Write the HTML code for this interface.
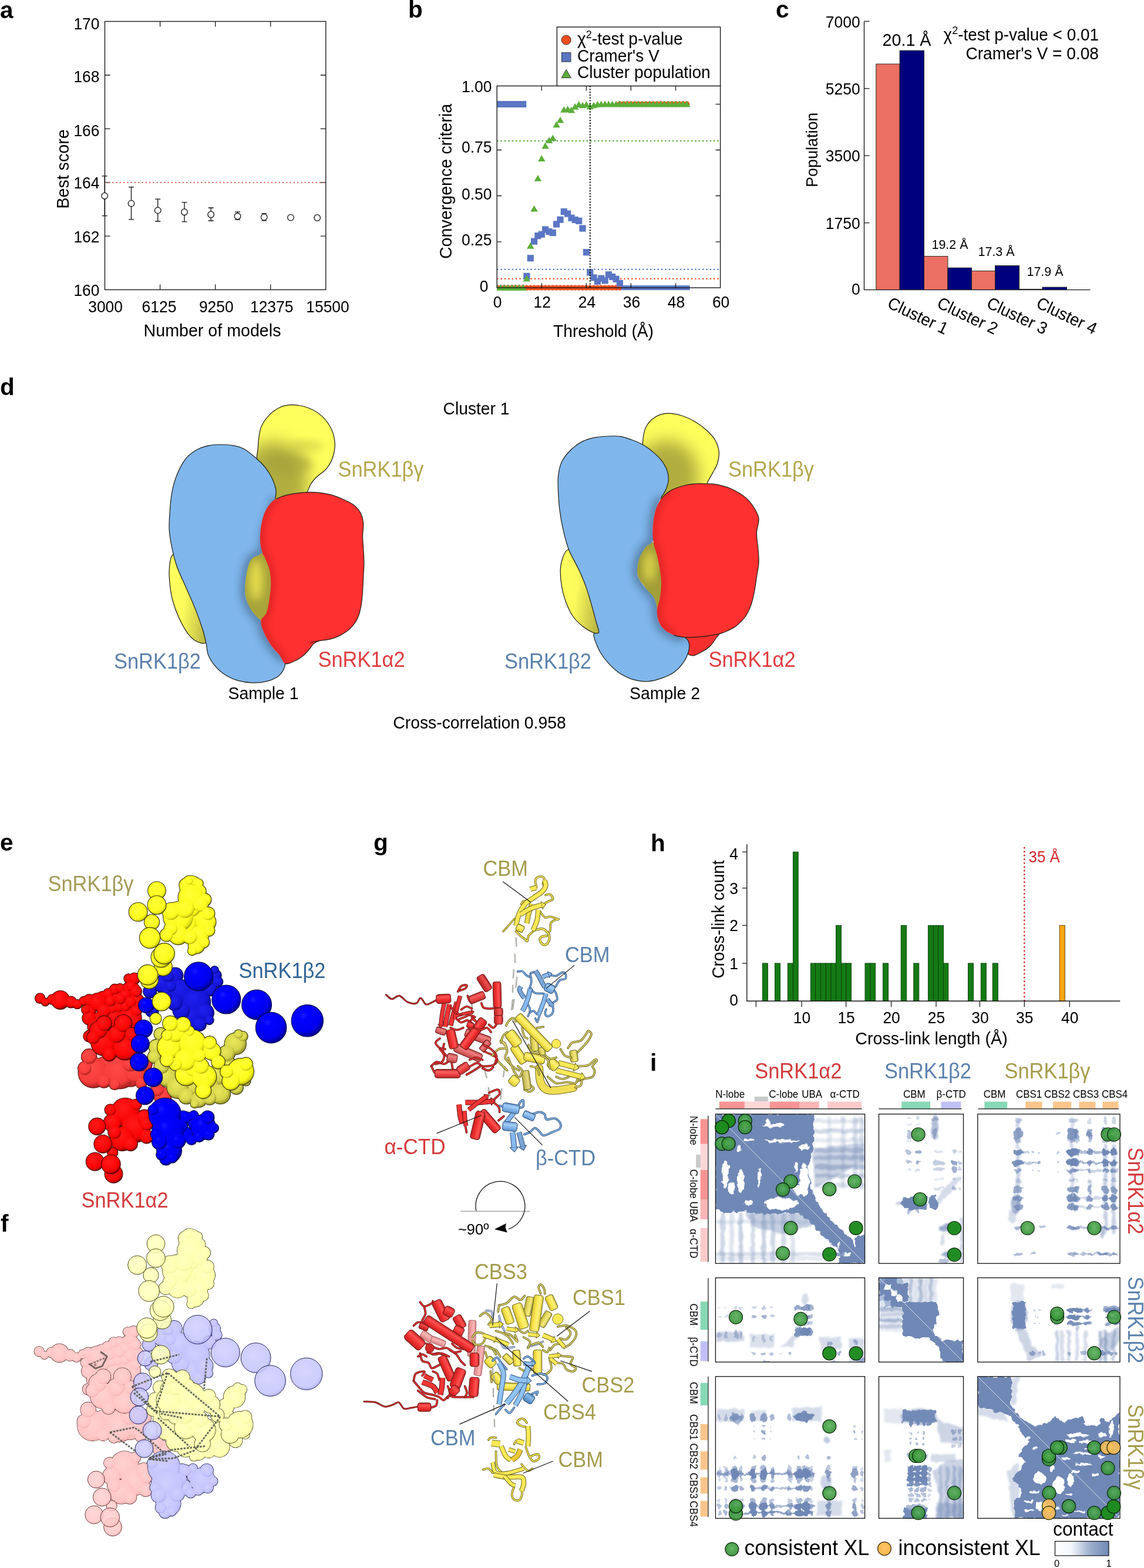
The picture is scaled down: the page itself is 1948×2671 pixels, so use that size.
<!DOCTYPE html>
<html lang="en"><head><meta charset="utf-8"><title>Figure</title>
<style>
html,body{margin:0;padding:0;background:#fff;}
body{width:1948px;height:2671px;overflow:hidden;}
svg{display:block;font-family:"Liberation Sans",sans-serif;}
text{fill:#000;}
.b{font-weight:bold;font-size:40.5px;}
</style></head><body>
<svg width="1948" height="2671" viewBox="0 0 1948 2671">
<rect width="1948" height="2671" fill="#fff"/>
<!-- 01_a -->
<g id="panel-a">
<text class="b" x="0" y="30.8">a</text>
<rect x="178.5" y="36.5" width="376.29999999999995" height="457.0" fill="none" stroke="#1a1a1a" stroke-width="1.4"/>
<text transform="translate(169.5 49.8) scale(0.955 1)" font-size="27.69" text-anchor="end">170</text>
<path d="M178.5 128.0h9M554.8 128.0h-9" stroke="#1a1a1a" stroke-width="1.3"/>
<text transform="translate(169.5 140.3) scale(0.955 1)" font-size="27.69" text-anchor="end">168</text>
<path d="M178.5 219.3h9M554.8 219.3h-9" stroke="#1a1a1a" stroke-width="1.3"/>
<text transform="translate(169.5 231.8) scale(0.955 1)" font-size="27.69" text-anchor="end">166</text>
<path d="M178.5 310.9h9M554.8 310.9h-9" stroke="#1a1a1a" stroke-width="1.3"/>
<text transform="translate(169.5 321.3) scale(0.955 1)" font-size="27.69" text-anchor="end">164</text>
<path d="M178.5 402.2h9M554.8 402.2h-9" stroke="#1a1a1a" stroke-width="1.3"/>
<text transform="translate(169.5 413.2) scale(0.955 1)" font-size="27.69" text-anchor="end">162</text>
<text transform="translate(169.5 504.2) scale(0.955 1)" font-size="27.69" text-anchor="end">160</text>
<text transform="translate(179.6 531.8) scale(0.955 1)" font-size="27.69" text-anchor="middle">3000</text>
<path d="M272.6 36.5v9M272.6 493.5v-9" stroke="#1a1a1a" stroke-width="1.3"/>
<text transform="translate(271.0 531.8) scale(0.955 1)" font-size="27.69" text-anchor="middle">6125</text>
<path d="M366.7 36.5v9M366.7 493.5v-9" stroke="#1a1a1a" stroke-width="1.3"/>
<text transform="translate(368.3 531.8) scale(0.955 1)" font-size="27.69" text-anchor="middle">9250</text>
<path d="M460.7 36.5v9M460.7 493.5v-9" stroke="#1a1a1a" stroke-width="1.3"/>
<text transform="translate(462.7 531.8) scale(0.955 1)" font-size="27.69" text-anchor="middle">12375</text>
<text transform="translate(558.0 531.8) scale(0.955 1)" font-size="27.69" text-anchor="middle">15500</text>
<text transform="translate(361.5 573.3) scale(0.955 1)" font-size="29.99" text-anchor="middle">Number of models</text>
<text transform="translate(116.6 288) rotate(-90) scale(0.955 1)" font-size="29.99" text-anchor="middle">Best score</text>
<path d="M178.5 310.9H554.8" stroke="#d96a58" stroke-width="2.1" stroke-dasharray="2.1 4.2" fill="none"/>
<path d="M178.2 299.8V367.7M173.7 299.8h9M173.7 367.7h9" stroke="#111" stroke-width="1.3" fill="none"/>
<circle cx="178.2" cy="333.7" r="5.3" fill="#fff" stroke="#111" stroke-width="1.3"/>
<path d="M223.5 318.7V373.8M219.0 318.7h9M219.0 373.8h9" stroke="#111" stroke-width="1.3" fill="none"/>
<circle cx="223.5" cy="346.6" r="5.3" fill="#fff" stroke="#111" stroke-width="1.3"/>
<path d="M268.7 339.2V377.0M264.2 339.2h9M264.2 377.0h9" stroke="#111" stroke-width="1.3" fill="none"/>
<circle cx="268.7" cy="358.4" r="5.3" fill="#fff" stroke="#111" stroke-width="1.3"/>
<path d="M314.0 344.7V377.7M309.5 344.7h9M309.5 377.7h9" stroke="#111" stroke-width="1.3" fill="none"/>
<circle cx="314.0" cy="361.2" r="5.3" fill="#fff" stroke="#111" stroke-width="1.3"/>
<path d="M359.2 354.0V376.0M354.7 354.0h9M354.7 376.0h9" stroke="#111" stroke-width="1.3" fill="none"/>
<circle cx="359.2" cy="365.5" r="5.3" fill="#fff" stroke="#111" stroke-width="1.3"/>
<path d="M404.5 360.8V374.2M400.0 360.8h9M400.0 374.2h9" stroke="#111" stroke-width="1.3" fill="none"/>
<circle cx="404.5" cy="368.3" r="5.3" fill="#fff" stroke="#111" stroke-width="1.3"/>
<path d="M449.7 363.6V375.8M445.2 363.6h9M445.2 375.8h9" stroke="#111" stroke-width="1.3" fill="none"/>
<circle cx="449.7" cy="369.9" r="5.3" fill="#fff" stroke="#111" stroke-width="1.3"/>
<circle cx="495.0" cy="370.6" r="5.3" fill="#fff" stroke="#111" stroke-width="1.3"/>
<circle cx="540.2" cy="371.0" r="5.3" fill="#fff" stroke="#111" stroke-width="1.3"/>
</g>
<!-- 02_b -->
<g id="panel-b">
<text class="b" x="695" y="30">b</text>
<path d="M846.2 240H1226.6" stroke="#5cae3a" stroke-width="2.3" stroke-dasharray="2.3 4.06" fill="none"/>
<path d="M846.2 458.9H1226.6" stroke="#5b76c4" stroke-width="2.3" stroke-dasharray="2.3 4.06" fill="none"/>
<path d="M846.2 474.9H1226.6" stroke="#f04e1e" stroke-width="2.3" stroke-dasharray="2.3 4.06" fill="none"/>
<clipPath id="bclip"><rect x="846.2" y="136.4" width="390.39999999999986" height="373.79999999999995"/></clipPath><g clip-path="url(#bclip)">
<circle cx="846.2" cy="490.2" r="4.6" fill="#f04e1e"/>
<circle cx="852.5" cy="490.2" r="4.6" fill="#f04e1e"/>
<circle cx="858.9" cy="490.2" r="4.6" fill="#f04e1e"/>
<circle cx="865.2" cy="490.2" r="4.6" fill="#f04e1e"/>
<circle cx="871.6" cy="490.2" r="4.6" fill="#f04e1e"/>
<circle cx="877.9" cy="490.2" r="4.6" fill="#f04e1e"/>
<circle cx="884.2" cy="490.2" r="4.6" fill="#f04e1e"/>
<circle cx="890.6" cy="490.2" r="4.6" fill="#f04e1e"/>
<circle cx="896.9" cy="490.2" r="4.6" fill="#f04e1e"/>
<circle cx="903.3" cy="490.2" r="4.6" fill="#f04e1e"/>
<circle cx="909.6" cy="490.2" r="4.6" fill="#f04e1e"/>
<circle cx="915.9" cy="490.2" r="4.6" fill="#f04e1e"/>
<circle cx="922.3" cy="490.2" r="4.6" fill="#f04e1e"/>
<circle cx="928.6" cy="490.2" r="4.6" fill="#f04e1e"/>
<circle cx="935.0" cy="490.2" r="4.6" fill="#f04e1e"/>
<circle cx="941.3" cy="490.2" r="4.6" fill="#f04e1e"/>
<circle cx="947.6" cy="490.2" r="4.6" fill="#f04e1e"/>
<circle cx="954.0" cy="490.2" r="4.6" fill="#f04e1e"/>
<circle cx="960.3" cy="490.2" r="4.6" fill="#f04e1e"/>
<circle cx="966.7" cy="490.2" r="4.6" fill="#f04e1e"/>
<circle cx="973.0" cy="490.2" r="4.6" fill="#f04e1e"/>
<circle cx="979.3" cy="490.2" r="4.6" fill="#f04e1e"/>
<circle cx="985.7" cy="490.2" r="4.6" fill="#f04e1e"/>
<circle cx="992.0" cy="490.2" r="4.6" fill="#f04e1e"/>
<circle cx="998.4" cy="490.2" r="4.6" fill="#f04e1e"/>
<circle cx="1004.7" cy="490.2" r="4.6" fill="#f04e1e"/>
<circle cx="1011.0" cy="490.2" r="4.6" fill="#f04e1e"/>
<circle cx="1017.4" cy="490.2" r="4.6" fill="#f04e1e"/>
<circle cx="1023.7" cy="490.2" r="4.6" fill="#f04e1e"/>
<circle cx="1030.1" cy="490.2" r="4.6" fill="#f04e1e"/>
<circle cx="1036.4" cy="490.2" r="4.6" fill="#f04e1e"/>
<circle cx="1042.7" cy="490.2" r="4.6" fill="#f04e1e"/>
<circle cx="1049.1" cy="490.2" r="4.6" fill="#f04e1e"/>
<circle cx="1055.4" cy="490.2" r="4.6" fill="#f04e1e"/>
<circle cx="1055.4" cy="177.5" r="4.9" fill="#f04e1e"/>
<circle cx="1061.8" cy="177.5" r="4.9" fill="#f04e1e"/>
<circle cx="1068.1" cy="177.5" r="4.9" fill="#f04e1e"/>
<circle cx="1074.4" cy="177.5" r="4.9" fill="#f04e1e"/>
<circle cx="1080.8" cy="177.5" r="4.9" fill="#f04e1e"/>
<circle cx="1087.1" cy="177.5" r="4.9" fill="#f04e1e"/>
<circle cx="1093.5" cy="177.5" r="4.9" fill="#f04e1e"/>
<circle cx="1099.8" cy="177.5" r="4.9" fill="#f04e1e"/>
<circle cx="1106.1" cy="177.5" r="4.9" fill="#f04e1e"/>
<circle cx="1112.5" cy="177.5" r="4.9" fill="#f04e1e"/>
<circle cx="1118.8" cy="177.5" r="4.9" fill="#f04e1e"/>
<circle cx="1125.2" cy="177.5" r="4.9" fill="#f04e1e"/>
<circle cx="1131.5" cy="177.5" r="4.9" fill="#f04e1e"/>
<circle cx="1137.8" cy="177.5" r="4.9" fill="#f04e1e"/>
<circle cx="1144.2" cy="177.5" r="4.9" fill="#f04e1e"/>
<circle cx="1150.5" cy="177.5" r="4.9" fill="#f04e1e"/>
<circle cx="1156.9" cy="177.5" r="4.9" fill="#f04e1e"/>
<circle cx="1163.2" cy="177.5" r="4.9" fill="#f04e1e"/>
<circle cx="1169.5" cy="177.5" r="4.9" fill="#f04e1e"/>
<rect x="846.2" y="172.0" width="50.09999999999991" height="11.0" fill="#5b76c4"/>
<rect x="891.3" y="464.8" width="11.2" height="11.2" fill="#5b76c4"/>
<rect x="897.7" y="434.2" width="11.2" height="11.2" fill="#5b76c4"/>
<rect x="904.0" y="405.5" width="11.2" height="11.2" fill="#5b76c4"/>
<rect x="910.3" y="396.1" width="11.2" height="11.2" fill="#5b76c4"/>
<rect x="916.7" y="393.6" width="11.2" height="11.2" fill="#5b76c4"/>
<rect x="923.0" y="385.4" width="11.2" height="11.2" fill="#5b76c4"/>
<rect x="929.4" y="389.0" width="11.2" height="11.2" fill="#5b76c4"/>
<rect x="935.7" y="391.0" width="11.2" height="11.2" fill="#5b76c4"/>
<rect x="942.0" y="376.3" width="11.2" height="11.2" fill="#5b76c4"/>
<rect x="948.4" y="368.6" width="11.2" height="11.2" fill="#5b76c4"/>
<rect x="954.7" y="354.9" width="11.2" height="11.2" fill="#5b76c4"/>
<rect x="961.1" y="358.5" width="11.2" height="11.2" fill="#5b76c4"/>
<rect x="967.4" y="365.6" width="11.2" height="11.2" fill="#5b76c4"/>
<rect x="973.7" y="368.9" width="11.2" height="11.2" fill="#5b76c4"/>
<rect x="980.1" y="370.7" width="11.2" height="11.2" fill="#5b76c4"/>
<rect x="986.4" y="383.4" width="11.2" height="11.2" fill="#5b76c4"/>
<rect x="992.8" y="424.1" width="11.2" height="11.2" fill="#5b76c4"/>
<rect x="999.1" y="458.4" width="11.2" height="11.2" fill="#5b76c4"/>
<rect x="1005.4" y="467.3" width="11.2" height="11.2" fill="#5b76c4"/>
<rect x="1011.8" y="473.7" width="11.2" height="11.2" fill="#5b76c4"/>
<rect x="1018.1" y="468.6" width="11.2" height="11.2" fill="#5b76c4"/>
<rect x="1024.5" y="472.4" width="11.2" height="11.2" fill="#5b76c4"/>
<rect x="1030.8" y="462.2" width="11.2" height="11.2" fill="#5b76c4"/>
<rect x="1037.1" y="466.0" width="11.2" height="11.2" fill="#5b76c4"/>
<rect x="1043.5" y="469.8" width="11.2" height="11.2" fill="#5b76c4"/>
<rect x="1049.8" y="477.0" width="11.2" height="11.2" fill="#5b76c4"/>
<rect x="1058.0" y="486.2" width="116.7" height="8" fill="#5b76c4"/>
<path d="M846.2 484.1l6.2 10.8h-12.4z" fill="#5cae3a"/>
<path d="M852.5 484.1l6.2 10.8h-12.4z" fill="#5cae3a"/>
<path d="M858.9 484.1l6.2 10.8h-12.4z" fill="#5cae3a"/>
<path d="M865.2 484.1l6.2 10.8h-12.4z" fill="#5cae3a"/>
<path d="M871.6 484.1l6.2 10.8h-12.4z" fill="#5cae3a"/>
<path d="M877.9 484.1l6.2 10.8h-12.4z" fill="#5cae3a"/>
<path d="M884.2 484.1l6.2 10.8h-12.4z" fill="#5cae3a"/>
<path d="M890.6 484.1l6.2 10.8h-12.4z" fill="#5cae3a"/>
<path d="M896.9 468.8l6.2 10.8h-12.4z" fill="#5cae3a"/>
<path d="M903.3 412.9l6.2 10.8h-12.4z" fill="#5cae3a"/>
<path d="M909.6 349.8l6.2 10.8h-12.4z" fill="#5cae3a"/>
<path d="M915.9 298.0l6.2 10.8h-12.4z" fill="#5cae3a"/>
<path d="M922.3 264.2l6.2 10.8h-12.4z" fill="#5cae3a"/>
<path d="M928.6 242.6l6.2 10.8h-12.4z" fill="#5cae3a"/>
<path d="M935.0 233.2l6.2 10.8h-12.4z" fill="#5cae3a"/>
<path d="M941.3 229.4l6.2 10.8h-12.4z" fill="#5cae3a"/>
<path d="M947.6 206.5l6.2 10.8h-12.4z" fill="#5cae3a"/>
<path d="M954.0 198.8l6.2 10.8h-12.4z" fill="#5cae3a"/>
<path d="M960.3 181.0l6.2 10.8h-12.4z" fill="#5cae3a"/>
<path d="M966.7 180.3l6.2 10.8h-12.4z" fill="#5cae3a"/>
<path d="M973.0 181.6l6.2 10.8h-12.4z" fill="#5cae3a"/>
<path d="M979.3 176.0l6.2 10.8h-12.4z" fill="#5cae3a"/>
<path d="M985.7 172.1l6.2 10.8h-12.4z" fill="#5cae3a"/>
<path d="M992.0 173.4l6.2 10.8h-12.4z" fill="#5cae3a"/>
<path d="M998.4 172.1l6.2 10.8h-12.4z" fill="#5cae3a"/>
<path d="M1004.7 175.4l6.2 10.8h-12.4z" fill="#5cae3a"/>
<path d="M1011.0 173.4l6.2 10.8h-12.4z" fill="#5cae3a"/>
<path d="M1017.4 171.9l6.2 10.8h-12.4z" fill="#5cae3a"/>
<path d="M1023.7 171.4l6.2 10.8h-12.4z" fill="#5cae3a"/>
<path d="M1030.1 171.4l6.2 10.8h-12.4z" fill="#5cae3a"/>
<path d="M1036.4 171.4l6.2 10.8h-12.4z" fill="#5cae3a"/>
<path d="M1042.7 171.4l6.2 10.8h-12.4z" fill="#5cae3a"/>
<path d="M1049.1 171.4l6.2 10.8h-12.4z" fill="#5cae3a"/>
<path d="M1055.4 171.4l6.2 10.8h-12.4z" fill="#5cae3a"/>
<path d="M1061.8 171.4l6.2 10.8h-12.4z" fill="#5cae3a"/>
<path d="M1068.1 171.4l6.2 10.8h-12.4z" fill="#5cae3a"/>
<path d="M1074.4 171.4l6.2 10.8h-12.4z" fill="#5cae3a"/>
<path d="M1080.8 171.4l6.2 10.8h-12.4z" fill="#5cae3a"/>
<path d="M1087.1 171.4l6.2 10.8h-12.4z" fill="#5cae3a"/>
<path d="M1093.5 171.4l6.2 10.8h-12.4z" fill="#5cae3a"/>
<path d="M1099.8 171.4l6.2 10.8h-12.4z" fill="#5cae3a"/>
<path d="M1106.1 171.4l6.2 10.8h-12.4z" fill="#5cae3a"/>
<path d="M1112.5 171.4l6.2 10.8h-12.4z" fill="#5cae3a"/>
<path d="M1118.8 171.4l6.2 10.8h-12.4z" fill="#5cae3a"/>
<path d="M1125.2 171.4l6.2 10.8h-12.4z" fill="#5cae3a"/>
<path d="M1131.5 171.4l6.2 10.8h-12.4z" fill="#5cae3a"/>
<path d="M1137.8 171.4l6.2 10.8h-12.4z" fill="#5cae3a"/>
<path d="M1144.2 171.4l6.2 10.8h-12.4z" fill="#5cae3a"/>
<path d="M1150.5 171.4l6.2 10.8h-12.4z" fill="#5cae3a"/>
<path d="M1156.9 171.4l6.2 10.8h-12.4z" fill="#5cae3a"/>
<path d="M1163.2 171.4l6.2 10.8h-12.4z" fill="#5cae3a"/>
<path d="M1169.5 171.4l6.2 10.8h-12.4z" fill="#5cae3a"/>
</g>
<path d="M1004.8 146.4V490.2" stroke="#000" stroke-width="2" stroke-dasharray="2.2 2.6" fill="none"/>
<rect x="846.2" y="146.4" width="380.39999999999986" height="343.79999999999995" fill="none" stroke="#1a1a1a" stroke-width="1.4"/>
<path d="M922.3 146.4v8M922.3 490.2v-8" stroke="#1a1a1a" stroke-width="1.3"/>
<path d="M998.4 146.4v8M998.4 490.2v-8" stroke="#1a1a1a" stroke-width="1.3"/>
<path d="M1074.4 146.4v8M1074.4 490.2v-8" stroke="#1a1a1a" stroke-width="1.3"/>
<path d="M1150.5 146.4v8M1150.5 490.2v-8" stroke="#1a1a1a" stroke-width="1.3"/>
<path d="M846.2 177.5h0M1226.6 177.5h-8" stroke="#1a1a1a" stroke-width="1.3"/>
<path d="M846.2 255.5h8M1226.6 255.5h-8" stroke="#1a1a1a" stroke-width="1.3"/>
<path d="M846.2 333.5h8M1226.6 333.5h-8" stroke="#1a1a1a" stroke-width="1.3"/>
<path d="M846.2 411.9h8M1226.6 411.9h-8" stroke="#1a1a1a" stroke-width="1.3"/>
<text transform="translate(847.2 524.2) scale(0.955 1)" font-size="27.69" text-anchor="middle">0</text>
<text transform="translate(923.3 524.2) scale(0.955 1)" font-size="27.69" text-anchor="middle">12</text>
<text transform="translate(999.4 524.2) scale(0.955 1)" font-size="27.69" text-anchor="middle">24</text>
<text transform="translate(1075.4 524.2) scale(0.955 1)" font-size="27.69" text-anchor="middle">36</text>
<text transform="translate(1151.5 524.2) scale(0.955 1)" font-size="27.69" text-anchor="middle">48</text>
<text transform="translate(1227.6 524.2) scale(0.955 1)" font-size="27.69" text-anchor="middle">60</text>
<text transform="translate(837.5 156.8) scale(0.955 1)" font-size="27.69" text-anchor="end">1.00</text>
<text transform="translate(837.5 260.4) scale(0.955 1)" font-size="27.69" text-anchor="end">0.75</text>
<text transform="translate(837.5 339.9) scale(0.955 1)" font-size="27.69" text-anchor="end">0.50</text>
<text transform="translate(837.5 418.1) scale(0.955 1)" font-size="27.69" text-anchor="end">0.25</text>
<text transform="translate(831.5 496.8) scale(0.955 1)" font-size="27.69" text-anchor="end">0</text>
<text transform="translate(1027.5 574) scale(0.955 1)" font-size="29.57" text-anchor="middle">Threshold (Å)</text>
<text transform="translate(768.5 309) rotate(-90) scale(0.955 1)" font-size="29.99" text-anchor="middle">Convergence criteria</text>
<rect x="948.4" y="46" width="278.19999999999993" height="100.4" fill="#fff" stroke="#1a1a1a" stroke-width="1.4"/>
<circle cx="964.2" cy="68.1" r="8" fill="#f04e1e" stroke="#222" stroke-width="0.9"/>
<rect x="956.5" y="89.7" width="15.4" height="15.4" fill="#5b76c4" stroke="#222" stroke-width="0.9"/>
<path d="M964.2 118.5l8 14h-16z" fill="#5cae3a" stroke="#222" stroke-width="0.9"/>
<text transform="translate(983 76) scale(0.955 1)" font-size="29.47">χ<tspan font-size="18.8" dy="-11">2</tspan><tspan dy="11">-test p-value</tspan></text>
<text transform="translate(983 104.6) scale(0.955 1)" font-size="29.47">Cramer's V</text>
<text transform="translate(983 133.2) scale(0.955 1)" font-size="29.47">Cluster population</text>
</g>
<!-- 03_c -->
<g id="panel-c">
<text class="b" x="1321" y="30">c</text>
<rect x="1491.8" y="109" width="40.3" height="384.6" fill="#ec7063" stroke="#1a1a1a" stroke-width="0.9"/>
<rect x="1532.1" y="86.1" width="41.4" height="407.5" fill="#00007d" stroke="#1a1a1a" stroke-width="0.9"/>
<rect x="1573.5" y="436.6" width="40.4" height="57.0" fill="#ec7063" stroke="#1a1a1a" stroke-width="0.9"/>
<rect x="1613.9" y="456.2" width="40.6" height="37.4" fill="#00007d" stroke="#1a1a1a" stroke-width="0.9"/>
<rect x="1654.5" y="461.6" width="40.0" height="32.0" fill="#ec7063" stroke="#1a1a1a" stroke-width="0.9"/>
<rect x="1694.5" y="452.5" width="41.0" height="41.1" fill="#00007d" stroke="#1a1a1a" stroke-width="0.9"/>
<rect x="1735.5" y="492.6" width="39.5" height="1.0" fill="#ec7063" stroke="#1a1a1a" stroke-width="0.9"/>
<rect x="1775" y="489.2" width="41.5" height="4.4" fill="#00007d" stroke="#1a1a1a" stroke-width="0.9"/>
<path d="M1471.5 36.3V493.6H1856.5" fill="none" stroke="#1a1a1a" stroke-width="1.4"/>
<path d="M1471.5 36.3h9" stroke="#1a1a1a" stroke-width="1.3"/>
<text transform="translate(1464.6 46.8) scale(0.955 1)" font-size="27.69" text-anchor="end">7000</text>
<path d="M1471.5 150.8h9" stroke="#1a1a1a" stroke-width="1.3"/>
<text transform="translate(1464.6 160.6) scale(0.955 1)" font-size="27.69" text-anchor="end">5250</text>
<path d="M1471.5 265.1h9" stroke="#1a1a1a" stroke-width="1.3"/>
<text transform="translate(1464.6 274.9) scale(0.955 1)" font-size="27.69" text-anchor="end">3500</text>
<path d="M1471.5 379.6h9" stroke="#1a1a1a" stroke-width="1.3"/>
<text transform="translate(1464.6 389.9) scale(0.955 1)" font-size="27.69" text-anchor="end">1750</text>
<text transform="translate(1464.6 502.2) scale(0.955 1)" font-size="27.69" text-anchor="end">0</text>
<text transform="translate(1391.6 255.3) rotate(-90) scale(0.955 1)" font-size="28.21" text-anchor="middle">Population</text>
<text transform="translate(1544 78) scale(0.955 1)" font-size="29.99" text-anchor="middle">20.1 Å</text>
<text transform="translate(1871 69.2) scale(0.955 1)" font-size="29.26" text-anchor="end">χ<tspan font-size="18.8" dy="-11">2</tspan><tspan dy="11">-test p-value &lt; 0.01</tspan></text>
<text transform="translate(1871 100.8) scale(0.955 1)" font-size="29.47" text-anchor="end">Cramer's V = 0.08</text>
<text transform="translate(1617.5 423.5) scale(0.955 1)" font-size="22.47" text-anchor="middle">19.2 Å</text>
<text transform="translate(1696.5 436.2) scale(0.955 1)" font-size="22.47" text-anchor="middle">17.3 Å</text>
<text transform="translate(1779.5 470) scale(0.955 1)" font-size="22.47" text-anchor="middle">17.9 Å</text>
<text transform="translate(1509.2 523) rotate(25.5) scale(0.955 1)" font-size="28.84">Cluster 1</text>
<text transform="translate(1593.7 523) rotate(25.5) scale(0.955 1)" font-size="28.84">Cluster 2</text>
<text transform="translate(1678.2 523) rotate(25.5) scale(0.955 1)" font-size="28.84">Cluster 3</text>
<text transform="translate(1762.7 523) rotate(25.5) scale(0.955 1)" font-size="28.84">Cluster 4</text>
</g>
<!-- 04_d -->
<g id="panel-d">
<defs>
<linearGradient id="dym" x1="0" x2="1" y1="0" y2="0"><stop offset="0" stop-color="#8f8c30"/><stop offset="0.4" stop-color="#d9d64c"/><stop offset="0.65" stop-color="#c4c145"/><stop offset="1" stop-color="#8a8730"/></linearGradient>
<linearGradient id="dyl" x1="0" x2="1" y1="0" y2="0.3"><stop offset="0" stop-color="#ffff60"/><stop offset="0.45" stop-color="#fdfb5c"/><stop offset="1" stop-color="#b9b543"/></linearGradient>
<filter id="dblur" x="-30%" y="-30%" width="160%" height="160%"><feGaussianBlur stdDeviation="7"/></filter>
<filter id="dblur2" x="-30%" y="-30%" width="160%" height="160%"><feGaussianBlur stdDeviation="14"/></filter>
</defs>
<text class="b" x="0" y="673">d</text>
<clipPath id="dc1"><path d="M497.6 689.7C505.3 689.9 515.8 691.3 524.2 694.5C532.7 697.8 541.8 703 548.5 709.1C555.1 715.1 560.6 723.2 564.2 730.8C567.8 738.5 569.8 747 570.2 755.1C570.6 763.1 569 772 566.6 779.3C564.2 786.5 560 793.4 555.7 798.6C551.5 803.9 545.4 806.7 541.2 810.8C536.9 814.8 533.3 818.2 530.3 822.9C527.3 827.5 526.1 831.7 523 838.6C520 845.5 521.2 859.8 512.1 864C503.1 868.3 480.7 874.5 468.5 864C456.4 853.5 444.3 818.4 439.5 801.1C434.6 783.7 438.7 772 439.5 759.9C440.3 747.8 441.1 737.3 444.3 728.4C447.6 719.5 453.2 712.5 458.9 706.6C464.5 700.8 471.8 696.1 478.2 693.3C484.7 690.5 489.9 689.5 497.6 689.7Z"/></clipPath>
<path d="M497.6 689.7C505.3 689.9 515.8 691.3 524.2 694.5C532.7 697.8 541.8 703 548.5 709.1C555.1 715.1 560.6 723.2 564.2 730.8C567.8 738.5 569.8 747 570.2 755.1C570.6 763.1 569 772 566.6 779.3C564.2 786.5 560 793.4 555.7 798.6C551.5 803.9 545.4 806.7 541.2 810.8C536.9 814.8 533.3 818.2 530.3 822.9C527.3 827.5 526.1 831.7 523 838.6C520 845.5 521.2 859.8 512.1 864C503.1 868.3 480.7 874.5 468.5 864C456.4 853.5 444.3 818.4 439.5 801.1C434.6 783.7 438.7 772 439.5 759.9C440.3 747.8 441.1 737.3 444.3 728.4C447.6 719.5 453.2 712.5 458.9 706.6C464.5 700.8 471.8 696.1 478.2 693.3C484.7 690.5 489.9 689.5 497.6 689.7Z" fill="#fefe5c"/>
<g clip-path="url(#dc1)"><ellipse cx="466" cy="822" rx="58" ry="70" fill="#a8a43a" fill-opacity="0.9" filter="url(#dblur2)"/><ellipse cx="492" cy="790" rx="40" ry="18" fill="#a19d38" fill-opacity="0.5" filter="url(#dblur)"/><ellipse cx="520" cy="760" rx="30" ry="10" fill="#b5b140" fill-opacity="0.4" filter="url(#dblur)"/></g>
<path d="M497.6 689.7C505.3 689.9 515.8 691.3 524.2 694.5C532.7 697.8 541.8 703 548.5 709.1C555.1 715.1 560.6 723.2 564.2 730.8C567.8 738.5 569.8 747 570.2 755.1C570.6 763.1 569 772 566.6 779.3C564.2 786.5 560 793.4 555.7 798.6C551.5 803.9 545.4 806.7 541.2 810.8C536.9 814.8 533.3 818.2 530.3 822.9C527.3 827.5 526.1 831.7 523 838.6C520 845.5 521.2 859.8 512.1 864C503.1 868.3 480.7 874.5 468.5 864C456.4 853.5 444.3 818.4 439.5 801.1C434.6 783.7 438.7 772 439.5 759.9C440.3 747.8 441.1 737.3 444.3 728.4C447.6 719.5 453.2 712.5 458.9 706.6C464.5 700.8 471.8 696.1 478.2 693.3C484.7 690.5 489.9 689.5 497.6 689.7Z" fill="none" stroke="#1c1c14" stroke-width="1.2" stroke-linejoin="round"/>
<clipPath id="dc2"><path d="M439.5 936.7C444.7 937.1 452.4 943.9 456.4 953.6C460.5 963.3 462.9 981.9 463.7 994.8C464.5 1007.7 463.7 1020.6 461.3 1031.1C458.9 1041.6 454.4 1055.7 449.2 1057.7C443.9 1059.7 435.1 1050.5 429.8 1043.2C424.6 1035.9 419.7 1025 417.7 1014.1C415.7 1003.2 416.5 988.3 417.7 977.8C418.9 967.3 421.3 958 425 951.2C428.6 944.3 434.2 936.3 439.5 936.7Z"/></clipPath>
<path d="M439.5 936.7C444.7 937.1 452.4 943.9 456.4 953.6C460.5 963.3 462.9 981.9 463.7 994.8C464.5 1007.7 463.7 1020.6 461.3 1031.1C458.9 1041.6 454.4 1055.7 449.2 1057.7C443.9 1059.7 435.1 1050.5 429.8 1043.2C424.6 1035.9 419.7 1025 417.7 1014.1C415.7 1003.2 416.5 988.3 417.7 977.8C418.9 967.3 421.3 958 425 951.2C428.6 944.3 434.2 936.3 439.5 936.7Z" fill="#a9a43a"/>
<g clip-path="url(#dc2)"><ellipse cx="436" cy="988" rx="12" ry="34" fill="#e8df4c" fill-opacity="0.9" filter="url(#dblur)"/></g>
<clipPath id="dc3"><path d="M294.2 945.1C291 947.2 290.4 952.2 289.4 958.5C288.4 964.7 287.6 972.6 288.2 982.7C288.8 992.8 290.4 1007.7 293 1019C295.6 1030.3 299.7 1040.8 303.9 1050.5C308.1 1060.1 313.6 1070.2 318.4 1077.1C323.3 1084 327.7 1088.6 333 1091.6C338.2 1094.6 344.3 1097.3 349.9 1095.3C355.6 1093.2 368.1 1096.3 366.9 1079.5C365.6 1062.8 352.3 1017 342.6 994.8C333 972.6 316.8 954.6 308.7 946.3C300.7 938.1 297.4 943.1 294.2 945.1Z"/></clipPath>
<path d="M294.2 945.1C291 947.2 290.4 952.2 289.4 958.5C288.4 964.7 287.6 972.6 288.2 982.7C288.8 992.8 290.4 1007.7 293 1019C295.6 1030.3 299.7 1040.8 303.9 1050.5C308.1 1060.1 313.6 1070.2 318.4 1077.1C323.3 1084 327.7 1088.6 333 1091.6C338.2 1094.6 344.3 1097.3 349.9 1095.3C355.6 1093.2 368.1 1096.3 366.9 1079.5C365.6 1062.8 352.3 1017 342.6 994.8C333 972.6 316.8 954.6 308.7 946.3C300.7 938.1 297.4 943.1 294.2 945.1Z" fill="url(#dyl)"/>
<path d="M294.2 945.1C291 947.2 290.4 952.2 289.4 958.5C288.4 964.7 287.6 972.6 288.2 982.7C288.8 992.8 290.4 1007.7 293 1019C295.6 1030.3 299.7 1040.8 303.9 1050.5C308.1 1060.1 313.6 1070.2 318.4 1077.1C323.3 1084 327.7 1088.6 333 1091.6C338.2 1094.6 344.3 1097.3 349.9 1095.3C355.6 1093.2 368.1 1096.3 366.9 1079.5C365.6 1062.8 352.3 1017 342.6 994.8C333 972.6 316.8 954.6 308.7 946.3C300.7 938.1 297.4 943.1 294.2 945.1Z" fill="none" stroke="#1c1c14" stroke-width="1.2" stroke-linejoin="round"/>
<clipPath id="dc4"><path d="M376.5 757.5C383 757.5 389.5 757.5 395.9 758.7C402.4 759.9 408.8 761.3 415.3 764.7C421.7 768.2 428.6 774 434.6 779.3C440.7 784.5 446.8 790.2 451.6 796.2C456.4 802.3 460.7 809.1 463.7 815.6C466.7 822.1 469 829.3 469.8 835C470.6 840.6 469.6 843.4 468.5 849.5C467.5 855.5 466.1 863.2 463.7 871.3C461.3 879.4 456.4 889.4 454 897.9C451.6 906.4 450.4 914.9 449.2 922.1C448 929.4 450.4 936.3 446.8 941.5C443.1 946.7 432 946.7 427.4 953.6C422.7 960.5 420.5 972.6 418.9 982.7C417.3 992.8 416.3 1004.9 417.7 1014.1C419.1 1023.4 423.8 1031.9 427.4 1038.4C431 1044.8 436.7 1049.7 439.5 1052.9C442.3 1056.1 442.7 1053.7 444.3 1057.7C445.9 1061.8 446.4 1070.2 449.2 1077.1C452 1084 456.8 1092.4 461.3 1098.9C465.7 1105.3 471.8 1111.4 475.8 1115.8C479.8 1120.3 484.3 1121.5 485.5 1125.5C486.7 1129.6 485.1 1135.6 483.1 1140C481.1 1144.5 478.2 1148.7 473.4 1152.2C468.5 1155.6 461.3 1158.8 454 1160.6C446.8 1162.4 437.9 1163.3 429.8 1163.1C421.7 1162.8 413.3 1161.6 405.6 1159.4C397.9 1157.2 390.3 1153.8 383.8 1149.7C377.3 1145.7 371.7 1140.9 366.9 1135.2C362 1129.6 357.4 1122.3 354.7 1115.8C352.1 1109.4 352.7 1103.7 351.1 1096.5C349.5 1089.2 348.1 1081.9 345.1 1072.3C342 1062.6 337.4 1049.7 333 1038.4C328.5 1027.1 323.7 1016.6 318.4 1004.5C313.2 992.3 305.7 977.4 301.5 965.7C297.2 954 295.2 944.7 293 934.2C290.8 923.7 288.8 913.7 288.2 902.8C287.6 891.9 288.6 879.8 289.4 868.9C290.2 858 291 847.5 293 837.4C295 827.3 297.6 817.6 301.5 808.3C305.3 799 310.4 788.8 316 781.7C321.7 774.6 328.5 769.8 335.4 766C342.2 762.1 350.3 760.1 357.2 758.7C364 757.3 370.1 757.5 376.5 757.5Z"/></clipPath>
<path d="M376.5 757.5C383 757.5 389.5 757.5 395.9 758.7C402.4 759.9 408.8 761.3 415.3 764.7C421.7 768.2 428.6 774 434.6 779.3C440.7 784.5 446.8 790.2 451.6 796.2C456.4 802.3 460.7 809.1 463.7 815.6C466.7 822.1 469 829.3 469.8 835C470.6 840.6 469.6 843.4 468.5 849.5C467.5 855.5 466.1 863.2 463.7 871.3C461.3 879.4 456.4 889.4 454 897.9C451.6 906.4 450.4 914.9 449.2 922.1C448 929.4 450.4 936.3 446.8 941.5C443.1 946.7 432 946.7 427.4 953.6C422.7 960.5 420.5 972.6 418.9 982.7C417.3 992.8 416.3 1004.9 417.7 1014.1C419.1 1023.4 423.8 1031.9 427.4 1038.4C431 1044.8 436.7 1049.7 439.5 1052.9C442.3 1056.1 442.7 1053.7 444.3 1057.7C445.9 1061.8 446.4 1070.2 449.2 1077.1C452 1084 456.8 1092.4 461.3 1098.9C465.7 1105.3 471.8 1111.4 475.8 1115.8C479.8 1120.3 484.3 1121.5 485.5 1125.5C486.7 1129.6 485.1 1135.6 483.1 1140C481.1 1144.5 478.2 1148.7 473.4 1152.2C468.5 1155.6 461.3 1158.8 454 1160.6C446.8 1162.4 437.9 1163.3 429.8 1163.1C421.7 1162.8 413.3 1161.6 405.6 1159.4C397.9 1157.2 390.3 1153.8 383.8 1149.7C377.3 1145.7 371.7 1140.9 366.9 1135.2C362 1129.6 357.4 1122.3 354.7 1115.8C352.1 1109.4 352.7 1103.7 351.1 1096.5C349.5 1089.2 348.1 1081.9 345.1 1072.3C342 1062.6 337.4 1049.7 333 1038.4C328.5 1027.1 323.7 1016.6 318.4 1004.5C313.2 992.3 305.7 977.4 301.5 965.7C297.2 954 295.2 944.7 293 934.2C290.8 923.7 288.8 913.7 288.2 902.8C287.6 891.9 288.6 879.8 289.4 868.9C290.2 858 291 847.5 293 837.4C295 827.3 297.6 817.6 301.5 808.3C305.3 799 310.4 788.8 316 781.7C321.7 774.6 328.5 769.8 335.4 766C342.2 762.1 350.3 760.1 357.2 758.7C364 757.3 370.1 757.5 376.5 757.5Z" fill="#7fb6ec"/>
<g clip-path="url(#dc4)"><path d="M468.5 849.5C467.5 855.5 466.1 863.2 463.7 871.3C461.3 879.4 456.4 889.4 454 897.9C451.6 906.4 450.4 914.9 449.2 922.1C448 929.4 450.4 936.3 446.8 941.5C443.1 946.7 432 946.7 427.4 953.6C422.7 960.5 420.5 972.6 418.9 982.7C417.3 992.8 416.3 1004.9 417.7 1014.1C419.1 1023.4 423.8 1031.9 427.4 1038.4C431 1044.8 436.7 1049.7 439.5 1052.9C442.3 1056.1 442.7 1053.7 444.3 1057.7C445.9 1061.8 446.4 1070.2 449.2 1077.1C452 1084 456.8 1092.4 461.3 1098.9C465.7 1105.3 471.8 1111.4 475.8 1115.8C479.8 1120.3 484.3 1121.5 485.5 1125.5" fill="none" stroke="#2a3f5a" stroke-opacity="0.5" stroke-width="14" filter="url(#dblur)"/></g>
<path d="M485.5 1125.5C486.7 1129.6 485.1 1135.6 483.1 1140C481.1 1144.5 478.2 1148.7 473.4 1152.2C468.5 1155.6 461.3 1158.8 454 1160.6C446.8 1162.4 437.9 1163.3 429.8 1163.1C421.7 1162.8 413.3 1161.6 405.6 1159.4C397.9 1157.2 390.3 1153.8 383.8 1149.7C377.3 1145.7 371.7 1140.9 366.9 1135.2C362 1129.6 357.4 1122.3 354.7 1115.8C352.1 1109.4 352.7 1103.7 351.1 1096.5C349.5 1089.2 348.1 1081.9 345.1 1072.3C342 1062.6 337.4 1049.7 333 1038.4C328.5 1027.1 323.7 1016.6 318.4 1004.5C313.2 992.3 305.7 977.4 301.5 965.7C297.2 954 295.2 944.7 293 934.2C290.8 923.7 288.8 913.7 288.2 902.8C287.6 891.9 288.6 879.8 289.4 868.9C290.2 858 291 847.5 293 837.4C295 827.3 297.6 817.6 301.5 808.3C305.3 799 310.4 788.8 316 781.7C321.7 774.6 328.5 769.8 335.4 766C342.2 762.1 350.3 760.1 357.2 758.7C364 757.3 370.1 757.5 376.5 757.5C383 757.5 389.5 757.5 395.9 758.7C402.4 759.9 408.8 761.3 415.3 764.7C421.7 768.2 428.6 774 434.6 779.3C440.7 784.5 446.8 790.2 451.6 796.2C456.4 802.3 460.7 809.1 463.7 815.6C466.7 822.1 469 829.3 469.8 835C470.6 840.6 469.6 843.4 468.5 849.5" fill="none" stroke="#1c1c14" stroke-width="1.2" stroke-linecap="round"/>
<clipPath id="dc5"><path d="M471 849.5C475.4 847.3 481.1 845.1 487.9 843.4C494.8 841.7 504.1 840.1 512.1 839.3C520.2 838.5 528.3 838.1 536.3 838.6C544.4 839.1 552.5 840.2 560.6 842.2C568.6 844.2 577.5 847.5 584.8 850.7C592 853.9 599.1 857.4 604.1 861.6C609.2 865.8 612.6 870.9 615 876.1C617.5 881.4 618.3 887 618.7 893.1C619.1 899.1 617.5 905.6 617.5 912.4C617.5 919.3 618.3 926.6 618.7 934.2C619.1 941.9 619.9 950.4 619.9 958.5C619.9 966.5 619.1 974.6 618.7 982.7C618.3 990.7 618.1 998.8 617.5 1006.9C616.9 1014.9 616.4 1023.4 615 1031.1C613.6 1038.8 612 1046.4 609 1052.9C606 1059.3 601.7 1065 596.9 1069.8C592 1074.7 586 1078.7 579.9 1081.9C573.9 1085.2 566.6 1087.6 560.6 1089.2C554.5 1090.8 548 1090.4 543.6 1091.6C539.2 1092.8 536.7 1094 533.9 1096.5C531.1 1098.9 529.9 1102.5 526.7 1106.2C523.4 1109.8 519 1114.8 514.6 1118.3C510.1 1121.7 504.9 1124.7 500 1126.7C495.2 1128.7 489.5 1132.2 485.5 1130.4C481.5 1128.5 479.8 1121.1 475.8 1115.8C471.8 1110.6 465.7 1105.3 461.3 1098.9C456.8 1092.4 452 1084 449.2 1077.1C446.4 1070.2 443.5 1063.4 444.3 1057.7C445.1 1052.1 451.6 1049.7 454 1043.2C456.4 1036.7 457.7 1027.1 458.9 1019C460.1 1010.9 461.3 1002.8 461.3 994.8C461.3 986.7 460.5 977.8 458.9 970.6C457.2 963.3 453.6 956 451.6 951.2C449.6 946.3 448.2 946.3 446.8 941.5C445.3 936.7 443.5 929.4 443.1 922.1C442.7 914.9 443.1 906 444.3 897.9C445.5 889.8 447.6 880.6 450.4 873.7C453.2 866.8 457.9 860.8 461.3 856.8C464.7 852.7 466.5 851.7 471 849.5Z"/></clipPath>
<path d="M471 849.5C475.4 847.3 481.1 845.1 487.9 843.4C494.8 841.7 504.1 840.1 512.1 839.3C520.2 838.5 528.3 838.1 536.3 838.6C544.4 839.1 552.5 840.2 560.6 842.2C568.6 844.2 577.5 847.5 584.8 850.7C592 853.9 599.1 857.4 604.1 861.6C609.2 865.8 612.6 870.9 615 876.1C617.5 881.4 618.3 887 618.7 893.1C619.1 899.1 617.5 905.6 617.5 912.4C617.5 919.3 618.3 926.6 618.7 934.2C619.1 941.9 619.9 950.4 619.9 958.5C619.9 966.5 619.1 974.6 618.7 982.7C618.3 990.7 618.1 998.8 617.5 1006.9C616.9 1014.9 616.4 1023.4 615 1031.1C613.6 1038.8 612 1046.4 609 1052.9C606 1059.3 601.7 1065 596.9 1069.8C592 1074.7 586 1078.7 579.9 1081.9C573.9 1085.2 566.6 1087.6 560.6 1089.2C554.5 1090.8 548 1090.4 543.6 1091.6C539.2 1092.8 536.7 1094 533.9 1096.5C531.1 1098.9 529.9 1102.5 526.7 1106.2C523.4 1109.8 519 1114.8 514.6 1118.3C510.1 1121.7 504.9 1124.7 500 1126.7C495.2 1128.7 489.5 1132.2 485.5 1130.4C481.5 1128.5 479.8 1121.1 475.8 1115.8C471.8 1110.6 465.7 1105.3 461.3 1098.9C456.8 1092.4 452 1084 449.2 1077.1C446.4 1070.2 443.5 1063.4 444.3 1057.7C445.1 1052.1 451.6 1049.7 454 1043.2C456.4 1036.7 457.7 1027.1 458.9 1019C460.1 1010.9 461.3 1002.8 461.3 994.8C461.3 986.7 460.5 977.8 458.9 970.6C457.2 963.3 453.6 956 451.6 951.2C449.6 946.3 448.2 946.3 446.8 941.5C445.3 936.7 443.5 929.4 443.1 922.1C442.7 914.9 443.1 906 444.3 897.9C445.5 889.8 447.6 880.6 450.4 873.7C453.2 866.8 457.9 860.8 461.3 856.8C464.7 852.7 466.5 851.7 471 849.5Z" fill="#ff3030"/>
<g clip-path="url(#dc5)"><path d="M485.5 1130.4C481.5 1128.5 479.8 1121.1 475.8 1115.8C471.8 1110.6 465.7 1105.3 461.3 1098.9C456.8 1092.4 452 1084 449.2 1077.1C446.4 1070.2 443.5 1063.4 444.3 1057.7C445.1 1052.1 451.6 1049.7 454 1043.2C456.4 1036.7 457.7 1027.1 458.9 1019C460.1 1010.9 461.3 1002.8 461.3 994.8C461.3 986.7 460.5 977.8 458.9 970.6C457.2 963.3 453.6 956 451.6 951.2C449.6 946.3 448.2 946.3 446.8 941.5C445.3 936.7 443.5 929.4 443.1 922.1C442.7 914.9 443.1 906 444.3 897.9C445.5 889.8 447.6 880.6 450.4 873.7C453.2 866.8 457.9 860.8 461.3 856.8C464.7 852.7 466.5 851.7 471 849.5" fill="none" stroke="#7a0f0f" stroke-opacity="0.35" stroke-width="10" filter="url(#dblur)"/></g>
<path d="M471 849.5C475.4 847.3 481.1 845.1 487.9 843.4C494.8 841.7 504.1 840.1 512.1 839.3C520.2 838.5 528.3 838.1 536.3 838.6C544.4 839.1 552.5 840.2 560.6 842.2C568.6 844.2 577.5 847.5 584.8 850.7C592 853.9 599.1 857.4 604.1 861.6C609.2 865.8 612.6 870.9 615 876.1C617.5 881.4 618.3 887 618.7 893.1C619.1 899.1 617.5 905.6 617.5 912.4C617.5 919.3 618.3 926.6 618.7 934.2C619.1 941.9 619.9 950.4 619.9 958.5C619.9 966.5 619.1 974.6 618.7 982.7C618.3 990.7 618.1 998.8 617.5 1006.9C616.9 1014.9 616.4 1023.4 615 1031.1C613.6 1038.8 612 1046.4 609 1052.9C606 1059.3 601.7 1065 596.9 1069.8C592 1074.7 586 1078.7 579.9 1081.9C573.9 1085.2 566.6 1087.6 560.6 1089.2C554.5 1090.8 548 1090.4 543.6 1091.6C539.2 1092.8 536.7 1094 533.9 1096.5C531.1 1098.9 529.9 1102.5 526.7 1106.2C523.4 1109.8 519 1114.8 514.6 1118.3C510.1 1121.7 504.9 1124.7 500 1126.7C495.2 1128.7 489.5 1132.2 485.5 1130.4" fill="none" stroke="#1c1c14" stroke-width="1.2" stroke-linecap="round"/>
<path d="M543.6 1091.6q-9 0.5 -16 4" fill="none" stroke="#3a0a0a" stroke-width="1"/>
<clipPath id="dc6"><path d="M1135.8 704.2C1143.5 703.6 1152 705.4 1160 707.8C1168.1 710.3 1177 714.5 1184.2 718.7C1191.5 723 1198 728 1203.6 733.3C1209.3 738.5 1214.7 744.2 1218.1 750.2C1221.6 756.3 1223.6 763.1 1224.2 769.6C1224.8 776 1223.6 782.9 1221.8 789C1220 795 1216.1 800.5 1213.3 805.9C1210.5 811.4 1206.8 816.8 1204.8 821.6C1202.8 826.5 1206.6 829.5 1201.2 835C1195.7 840.4 1185 851.9 1172.1 854.3C1159.2 856.8 1136.2 860.4 1123.7 849.5C1111.2 838.6 1101.9 805.1 1097.1 789C1092.2 772.8 1094.2 762.7 1094.6 752.6C1095.1 742.6 1096.3 735.3 1099.5 728.4C1102.7 721.6 1108 715.5 1114 711.5C1120.1 707.4 1128.1 704.8 1135.8 704.2Z"/></clipPath>
<path d="M1135.8 704.2C1143.5 703.6 1152 705.4 1160 707.8C1168.1 710.3 1177 714.5 1184.2 718.7C1191.5 723 1198 728 1203.6 733.3C1209.3 738.5 1214.7 744.2 1218.1 750.2C1221.6 756.3 1223.6 763.1 1224.2 769.6C1224.8 776 1223.6 782.9 1221.8 789C1220 795 1216.1 800.5 1213.3 805.9C1210.5 811.4 1206.8 816.8 1204.8 821.6C1202.8 826.5 1206.6 829.5 1201.2 835C1195.7 840.4 1185 851.9 1172.1 854.3C1159.2 856.8 1136.2 860.4 1123.7 849.5C1111.2 838.6 1101.9 805.1 1097.1 789C1092.2 772.8 1094.2 762.7 1094.6 752.6C1095.1 742.6 1096.3 735.3 1099.5 728.4C1102.7 721.6 1108 715.5 1114 711.5C1120.1 707.4 1128.1 704.8 1135.8 704.2Z" fill="#fefe5c"/>
<g clip-path="url(#dc6)"><ellipse cx="1135" cy="810" rx="55" ry="60" fill="#a8a43a" fill-opacity="0.9" filter="url(#dblur2)"/></g>
<path d="M1135.8 704.2C1143.5 703.6 1152 705.4 1160 707.8C1168.1 710.3 1177 714.5 1184.2 718.7C1191.5 723 1198 728 1203.6 733.3C1209.3 738.5 1214.7 744.2 1218.1 750.2C1221.6 756.3 1223.6 763.1 1224.2 769.6C1224.8 776 1223.6 782.9 1221.8 789C1220 795 1216.1 800.5 1213.3 805.9C1210.5 811.4 1206.8 816.8 1204.8 821.6C1202.8 826.5 1206.6 829.5 1201.2 835C1195.7 840.4 1185 851.9 1172.1 854.3C1159.2 856.8 1136.2 860.4 1123.7 849.5C1111.2 838.6 1101.9 805.1 1097.1 789C1092.2 772.8 1094.2 762.7 1094.6 752.6C1095.1 742.6 1096.3 735.3 1099.5 728.4C1102.7 721.6 1108 715.5 1114 711.5C1120.1 707.4 1128.1 704.8 1135.8 704.2Z" fill="none" stroke="#1c1c14" stroke-width="1.2" stroke-linejoin="round"/>
<clipPath id="dc7"><path d="M1109.2 922.1C1114 922.9 1118.3 936.3 1121.3 946.3C1124.3 956.4 1126.5 970.6 1127.3 982.7C1128.1 994.8 1127.5 1009.7 1126.1 1019C1124.7 1028.3 1123.3 1041.2 1118.9 1038.4C1114.4 1035.5 1104.7 1010.9 1099.5 1002C1094.2 993.2 1089.8 991.1 1087.4 985.1C1085 979 1084.2 973 1085 965.7C1085.8 958.5 1088.2 948.8 1092.2 941.5C1096.3 934.2 1104.3 921.3 1109.2 922.1Z"/></clipPath>
<path d="M1109.2 922.1C1114 922.9 1118.3 936.3 1121.3 946.3C1124.3 956.4 1126.5 970.6 1127.3 982.7C1128.1 994.8 1127.5 1009.7 1126.1 1019C1124.7 1028.3 1123.3 1041.2 1118.9 1038.4C1114.4 1035.5 1104.7 1010.9 1099.5 1002C1094.2 993.2 1089.8 991.1 1087.4 985.1C1085 979 1084.2 973 1085 965.7C1085.8 958.5 1088.2 948.8 1092.2 941.5C1096.3 934.2 1104.3 921.3 1109.2 922.1Z" fill="#a39e38"/>
<g clip-path="url(#dc7)"><ellipse cx="1106" cy="965" rx="10" ry="26" fill="#e0d84a" fill-opacity="0.85" filter="url(#dblur)"/></g>
<clipPath id="dc8"><path d="M966.3 936.7C962.1 938.3 959.9 945.5 957.8 951.2C955.8 956.8 954.4 962.5 954.2 970.6C954 978.6 955 990.3 956.6 999.6C958.2 1008.9 960.7 1017.8 963.9 1026.2C967.1 1034.7 971.2 1043.6 976 1050.5C980.8 1057.3 986.9 1062.8 993 1067.4C999 1072.1 1007.7 1076.7 1012.3 1078.3C1017 1079.9 1017.6 1080.5 1020.8 1077.1C1024 1073.7 1033.5 1073.5 1031.7 1057.7C1029.9 1042 1018 1002 1009.9 982.7C1001.8 963.3 990.5 949.2 983.3 941.5C976 933.8 970.6 935 966.3 936.7Z"/></clipPath>
<path d="M966.3 936.7C962.1 938.3 959.9 945.5 957.8 951.2C955.8 956.8 954.4 962.5 954.2 970.6C954 978.6 955 990.3 956.6 999.6C958.2 1008.9 960.7 1017.8 963.9 1026.2C967.1 1034.7 971.2 1043.6 976 1050.5C980.8 1057.3 986.9 1062.8 993 1067.4C999 1072.1 1007.7 1076.7 1012.3 1078.3C1017 1079.9 1017.6 1080.5 1020.8 1077.1C1024 1073.7 1033.5 1073.5 1031.7 1057.7C1029.9 1042 1018 1002 1009.9 982.7C1001.8 963.3 990.5 949.2 983.3 941.5C976 933.8 970.6 935 966.3 936.7Z" fill="url(#dyl)"/>
<path d="M966.3 936.7C962.1 938.3 959.9 945.5 957.8 951.2C955.8 956.8 954.4 962.5 954.2 970.6C954 978.6 955 990.3 956.6 999.6C958.2 1008.9 960.7 1017.8 963.9 1026.2C967.1 1034.7 971.2 1043.6 976 1050.5C980.8 1057.3 986.9 1062.8 993 1067.4C999 1072.1 1007.7 1076.7 1012.3 1078.3C1017 1079.9 1017.6 1080.5 1020.8 1077.1C1024 1073.7 1033.5 1073.5 1031.7 1057.7C1029.9 1042 1018 1002 1009.9 982.7C1001.8 963.3 990.5 949.2 983.3 941.5C976 933.8 970.6 935 966.3 936.7Z" fill="none" stroke="#1c1c14" stroke-width="1.2" stroke-linejoin="round"/>
<clipPath id="dc9"><path d="M1174.6 1115.8C1182.2 1119.1 1188.3 1113.4 1193.9 1111C1199.6 1108.6 1204.2 1105.3 1208.5 1101.3C1212.7 1097.3 1216.9 1090.8 1219.3 1086.8C1221.8 1082.7 1226.8 1081.9 1223 1077.1C1219.1 1072.3 1208.9 1061 1196.3 1057.7C1183.8 1054.5 1156 1052.1 1147.9 1057.7C1139.8 1063.4 1143.5 1081.9 1147.9 1091.6C1152.4 1101.3 1166.9 1112.6 1174.6 1115.8Z"/></clipPath>
<path d="M1174.6 1115.8C1182.2 1119.1 1188.3 1113.4 1193.9 1111C1199.6 1108.6 1204.2 1105.3 1208.5 1101.3C1212.7 1097.3 1216.9 1090.8 1219.3 1086.8C1221.8 1082.7 1226.8 1081.9 1223 1077.1C1219.1 1072.3 1208.9 1061 1196.3 1057.7C1183.8 1054.5 1156 1052.1 1147.9 1057.7C1139.8 1063.4 1143.5 1081.9 1147.9 1091.6C1152.4 1101.3 1166.9 1112.6 1174.6 1115.8Z" fill="#f52e2e"/>
<path d="M1174.6 1115.8C1182.2 1119.1 1188.3 1113.4 1193.9 1111C1199.6 1108.6 1204.2 1105.3 1208.5 1101.3C1212.7 1097.3 1216.9 1090.8 1219.3 1086.8C1221.8 1082.7 1226.8 1081.9 1223 1077.1C1219.1 1072.3 1208.9 1061 1196.3 1057.7C1183.8 1054.5 1156 1052.1 1147.9 1057.7C1139.8 1063.4 1143.5 1081.9 1147.9 1091.6C1152.4 1101.3 1166.9 1112.6 1174.6 1115.8Z" fill="none" stroke="#1c1c14" stroke-width="1.2" stroke-linejoin="round"/>
<clipPath id="dc10"><path d="M1036.5 743C1043.8 742.6 1049.5 742.4 1055.9 743.4C1062.4 744.4 1068.8 746.7 1075.3 749C1081.7 751.3 1088.6 754.1 1094.6 757.5C1100.7 760.9 1106.4 765.1 1111.6 769.6C1116.8 774 1122.1 778.9 1126.1 784.1C1130.2 789.4 1133.8 795.4 1135.8 801.1C1137.8 806.7 1138.6 812.4 1138.2 818C1137.8 823.7 1135.4 830.1 1133.4 835C1131.4 839.8 1129 841.4 1126.1 847.1C1123.3 852.7 1118.9 860.4 1116.4 868.9C1114 877.3 1112.4 889 1111.6 897.9C1110.8 906.8 1113.6 916.5 1111.6 922.1C1109.6 927.8 1103.3 927 1099.5 931.8C1095.7 936.7 1091 944.7 1088.6 951.2C1086.2 957.6 1085.2 964.9 1085 970.6C1084.8 976.2 1085 979.8 1087.4 985.1C1089.8 990.3 1095.1 996.4 1099.5 1002C1103.9 1007.7 1110.8 1012.9 1114 1019C1117.2 1025 1117.7 1031.9 1118.9 1038.4C1120.1 1044.8 1119.3 1052.1 1121.3 1057.7C1123.3 1063.4 1126.5 1068.2 1131 1072.3C1135.4 1076.3 1141.9 1079.5 1147.9 1081.9C1154 1084.4 1163.1 1084.4 1167.3 1086.8C1171.5 1089.2 1172.5 1092.4 1173.3 1096.5C1174.1 1100.5 1173.9 1105.3 1172.1 1111C1170.3 1116.6 1166.5 1124.7 1162.4 1130.4C1158.4 1136 1153.6 1140.9 1147.9 1144.9C1142.3 1148.9 1135.8 1152 1128.5 1154.6C1121.3 1157.2 1112.4 1160 1104.3 1160.6C1096.3 1161.2 1088.2 1160.4 1080.1 1158.2C1072.1 1156 1063.2 1152 1055.9 1147.3C1048.6 1142.7 1042.2 1136.4 1036.5 1130.4C1030.9 1124.3 1025.8 1117.4 1022 1111C1018.2 1104.5 1015.4 1096.9 1013.5 1091.6C1011.7 1086.4 1010.1 1081.9 1011.1 1079.5C1012.1 1077.1 1019 1080.7 1019.6 1077.1C1020.2 1073.5 1016.8 1065.4 1014.7 1057.7C1012.7 1050.1 1010.3 1040.8 1007.5 1031.1C1004.7 1021.4 1001.4 1009.7 997.8 999.6C994.2 989.5 990.5 981 985.7 970.6C980.8 960.1 973.2 948 968.7 936.7C964.3 925.4 961.7 914.1 959.1 902.8C956.4 891.5 954.4 879.8 953 868.9C951.6 858 951 847.1 950.6 837.4C950.2 827.7 949.6 819.2 950.6 810.8C951.6 802.3 953.2 793.8 956.6 786.5C960.1 779.3 965.5 772.8 971.2 767.2C976.8 761.5 983.7 756.3 990.5 752.6C997.4 749 1004.7 747 1012.3 745.4C1020 743.8 1029.3 743.3 1036.5 743Z"/></clipPath>
<path d="M1036.5 743C1043.8 742.6 1049.5 742.4 1055.9 743.4C1062.4 744.4 1068.8 746.7 1075.3 749C1081.7 751.3 1088.6 754.1 1094.6 757.5C1100.7 760.9 1106.4 765.1 1111.6 769.6C1116.8 774 1122.1 778.9 1126.1 784.1C1130.2 789.4 1133.8 795.4 1135.8 801.1C1137.8 806.7 1138.6 812.4 1138.2 818C1137.8 823.7 1135.4 830.1 1133.4 835C1131.4 839.8 1129 841.4 1126.1 847.1C1123.3 852.7 1118.9 860.4 1116.4 868.9C1114 877.3 1112.4 889 1111.6 897.9C1110.8 906.8 1113.6 916.5 1111.6 922.1C1109.6 927.8 1103.3 927 1099.5 931.8C1095.7 936.7 1091 944.7 1088.6 951.2C1086.2 957.6 1085.2 964.9 1085 970.6C1084.8 976.2 1085 979.8 1087.4 985.1C1089.8 990.3 1095.1 996.4 1099.5 1002C1103.9 1007.7 1110.8 1012.9 1114 1019C1117.2 1025 1117.7 1031.9 1118.9 1038.4C1120.1 1044.8 1119.3 1052.1 1121.3 1057.7C1123.3 1063.4 1126.5 1068.2 1131 1072.3C1135.4 1076.3 1141.9 1079.5 1147.9 1081.9C1154 1084.4 1163.1 1084.4 1167.3 1086.8C1171.5 1089.2 1172.5 1092.4 1173.3 1096.5C1174.1 1100.5 1173.9 1105.3 1172.1 1111C1170.3 1116.6 1166.5 1124.7 1162.4 1130.4C1158.4 1136 1153.6 1140.9 1147.9 1144.9C1142.3 1148.9 1135.8 1152 1128.5 1154.6C1121.3 1157.2 1112.4 1160 1104.3 1160.6C1096.3 1161.2 1088.2 1160.4 1080.1 1158.2C1072.1 1156 1063.2 1152 1055.9 1147.3C1048.6 1142.7 1042.2 1136.4 1036.5 1130.4C1030.9 1124.3 1025.8 1117.4 1022 1111C1018.2 1104.5 1015.4 1096.9 1013.5 1091.6C1011.7 1086.4 1010.1 1081.9 1011.1 1079.5C1012.1 1077.1 1019 1080.7 1019.6 1077.1C1020.2 1073.5 1016.8 1065.4 1014.7 1057.7C1012.7 1050.1 1010.3 1040.8 1007.5 1031.1C1004.7 1021.4 1001.4 1009.7 997.8 999.6C994.2 989.5 990.5 981 985.7 970.6C980.8 960.1 973.2 948 968.7 936.7C964.3 925.4 961.7 914.1 959.1 902.8C956.4 891.5 954.4 879.8 953 868.9C951.6 858 951 847.1 950.6 837.4C950.2 827.7 949.6 819.2 950.6 810.8C951.6 802.3 953.2 793.8 956.6 786.5C960.1 779.3 965.5 772.8 971.2 767.2C976.8 761.5 983.7 756.3 990.5 752.6C997.4 749 1004.7 747 1012.3 745.4C1020 743.8 1029.3 743.3 1036.5 743Z" fill="#7fb6ec"/>
<g clip-path="url(#dc10)"><path d="M1126.1 847.1C1123.3 852.7 1118.9 860.4 1116.4 868.9C1114 877.3 1112.4 889 1111.6 897.9C1110.8 906.8 1113.6 916.5 1111.6 922.1C1109.6 927.8 1103.3 927 1099.5 931.8C1095.7 936.7 1091 944.7 1088.6 951.2C1086.2 957.6 1085.2 964.9 1085 970.6C1084.8 976.2 1085 979.8 1087.4 985.1C1089.8 990.3 1095.1 996.4 1099.5 1002C1103.9 1007.7 1110.8 1012.9 1114 1019C1117.2 1025 1117.7 1031.9 1118.9 1038.4C1120.1 1044.8 1119.3 1052.1 1121.3 1057.7C1123.3 1063.4 1126.5 1068.2 1131 1072.3C1135.4 1076.3 1141.9 1079.5 1147.9 1081.9C1154 1084.4 1163.1 1084.4 1167.3 1086.8" fill="none" stroke="#2a3f5a" stroke-opacity="0.5" stroke-width="14" filter="url(#dblur)"/></g>
<path d="M1167.3 1086.8C1171.5 1089.2 1172.5 1092.4 1173.3 1096.5C1174.1 1100.5 1173.9 1105.3 1172.1 1111C1170.3 1116.6 1166.5 1124.7 1162.4 1130.4C1158.4 1136 1153.6 1140.9 1147.9 1144.9C1142.3 1148.9 1135.8 1152 1128.5 1154.6C1121.3 1157.2 1112.4 1160 1104.3 1160.6C1096.3 1161.2 1088.2 1160.4 1080.1 1158.2C1072.1 1156 1063.2 1152 1055.9 1147.3C1048.6 1142.7 1042.2 1136.4 1036.5 1130.4C1030.9 1124.3 1025.8 1117.4 1022 1111C1018.2 1104.5 1015.4 1096.9 1013.5 1091.6C1011.7 1086.4 1010.1 1081.9 1011.1 1079.5C1012.1 1077.1 1019 1080.7 1019.6 1077.1C1020.2 1073.5 1016.8 1065.4 1014.7 1057.7C1012.7 1050.1 1010.3 1040.8 1007.5 1031.1C1004.7 1021.4 1001.4 1009.7 997.8 999.6C994.2 989.5 990.5 981 985.7 970.6C980.8 960.1 973.2 948 968.7 936.7C964.3 925.4 961.7 914.1 959.1 902.8C956.4 891.5 954.4 879.8 953 868.9C951.6 858 951 847.1 950.6 837.4C950.2 827.7 949.6 819.2 950.6 810.8C951.6 802.3 953.2 793.8 956.6 786.5C960.1 779.3 965.5 772.8 971.2 767.2C976.8 761.5 983.7 756.3 990.5 752.6C997.4 749 1004.7 747 1012.3 745.4C1020 743.8 1029.3 743.3 1036.5 743C1043.8 742.6 1049.5 742.4 1055.9 743.4C1062.4 744.4 1068.8 746.7 1075.3 749C1081.7 751.3 1088.6 754.1 1094.6 757.5C1100.7 760.9 1106.4 765.1 1111.6 769.6C1116.8 774 1122.1 778.9 1126.1 784.1C1130.2 789.4 1133.8 795.4 1135.8 801.1C1137.8 806.7 1138.6 812.4 1138.2 818C1137.8 823.7 1135.4 830.1 1133.4 835C1131.4 839.8 1129 841.4 1126.1 847.1" fill="none" stroke="#1c1c14" stroke-width="1.2" stroke-linecap="round"/>
<clipPath id="dc11"><path d="M1201.2 824.1C1207.2 824.3 1213.3 823.9 1220.6 825.3C1227.8 826.7 1236.7 828.9 1244.8 832.5C1252.8 836.2 1262.5 841.8 1269 847.1C1275.4 852.3 1279.7 858 1283.5 864C1287.3 870.1 1291.2 876.1 1292 883.4C1292.8 890.7 1288.6 899.1 1288.4 907.6C1288.2 916.1 1290.2 925.8 1290.8 934.2C1291.4 942.7 1292.4 950.4 1292 958.5C1291.6 966.5 1289.6 974.6 1288.4 982.7C1287.1 990.7 1286.3 998.8 1284.7 1006.9C1283.1 1014.9 1281.3 1023.8 1278.7 1031.1C1276 1038.4 1273.4 1044.4 1269 1050.5C1264.5 1056.5 1258.1 1063 1252 1067.4C1246 1071.8 1237.9 1074.9 1232.7 1077.1C1227.4 1079.3 1226.6 1079.5 1220.6 1080.7C1214.5 1081.9 1205.2 1083.6 1196.3 1084.4C1187.5 1085.2 1175.4 1086 1167.3 1085.6C1159.2 1085.2 1154 1084.2 1147.9 1081.9C1141.9 1079.7 1135.4 1076.3 1131 1072.3C1126.5 1068.2 1123.3 1063.4 1121.3 1057.7C1119.3 1052.1 1118.5 1044.8 1118.9 1038.4C1119.3 1031.9 1122.5 1026.2 1123.7 1019C1124.9 1011.7 1126.1 1002.8 1126.1 994.8C1126.1 986.7 1124.9 978.6 1123.7 970.6C1122.5 962.5 1120.7 954 1118.9 946.3C1117 938.7 1114 932.6 1112.8 924.6C1111.6 916.5 1111 907.2 1111.6 897.9C1112.2 888.6 1114 876.9 1116.4 868.9C1118.9 860.8 1121.7 855.1 1126.1 849.5C1130.6 843.8 1136.2 838.8 1143.1 835C1149.9 831.1 1160.4 828.3 1167.3 826.5C1174.1 824.7 1178.6 824.5 1184.2 824.1C1189.9 823.7 1195.1 823.9 1201.2 824.1Z"/></clipPath>
<path d="M1201.2 824.1C1207.2 824.3 1213.3 823.9 1220.6 825.3C1227.8 826.7 1236.7 828.9 1244.8 832.5C1252.8 836.2 1262.5 841.8 1269 847.1C1275.4 852.3 1279.7 858 1283.5 864C1287.3 870.1 1291.2 876.1 1292 883.4C1292.8 890.7 1288.6 899.1 1288.4 907.6C1288.2 916.1 1290.2 925.8 1290.8 934.2C1291.4 942.7 1292.4 950.4 1292 958.5C1291.6 966.5 1289.6 974.6 1288.4 982.7C1287.1 990.7 1286.3 998.8 1284.7 1006.9C1283.1 1014.9 1281.3 1023.8 1278.7 1031.1C1276 1038.4 1273.4 1044.4 1269 1050.5C1264.5 1056.5 1258.1 1063 1252 1067.4C1246 1071.8 1237.9 1074.9 1232.7 1077.1C1227.4 1079.3 1226.6 1079.5 1220.6 1080.7C1214.5 1081.9 1205.2 1083.6 1196.3 1084.4C1187.5 1085.2 1175.4 1086 1167.3 1085.6C1159.2 1085.2 1154 1084.2 1147.9 1081.9C1141.9 1079.7 1135.4 1076.3 1131 1072.3C1126.5 1068.2 1123.3 1063.4 1121.3 1057.7C1119.3 1052.1 1118.5 1044.8 1118.9 1038.4C1119.3 1031.9 1122.5 1026.2 1123.7 1019C1124.9 1011.7 1126.1 1002.8 1126.1 994.8C1126.1 986.7 1124.9 978.6 1123.7 970.6C1122.5 962.5 1120.7 954 1118.9 946.3C1117 938.7 1114 932.6 1112.8 924.6C1111.6 916.5 1111 907.2 1111.6 897.9C1112.2 888.6 1114 876.9 1116.4 868.9C1118.9 860.8 1121.7 855.1 1126.1 849.5C1130.6 843.8 1136.2 838.8 1143.1 835C1149.9 831.1 1160.4 828.3 1167.3 826.5C1174.1 824.7 1178.6 824.5 1184.2 824.1C1189.9 823.7 1195.1 823.9 1201.2 824.1Z" fill="#ff3030"/>
<g clip-path="url(#dc11)"><path d="M1147.9 1081.9C1141.9 1079.7 1135.4 1076.3 1131 1072.3C1126.5 1068.2 1123.3 1063.4 1121.3 1057.7C1119.3 1052.1 1118.5 1044.8 1118.9 1038.4C1119.3 1031.9 1122.5 1026.2 1123.7 1019C1124.9 1011.7 1126.1 1002.8 1126.1 994.8C1126.1 986.7 1124.9 978.6 1123.7 970.6C1122.5 962.5 1120.7 954 1118.9 946.3C1117 938.7 1114 932.6 1112.8 924.6C1111.6 916.5 1111 907.2 1111.6 897.9C1112.2 888.6 1114 876.9 1116.4 868.9C1118.9 860.8 1121.7 855.1 1126.1 849.5C1130.6 843.8 1136.2 838.8 1143.1 835" fill="none" stroke="#7a0f0f" stroke-opacity="0.35" stroke-width="10" filter="url(#dblur)"/></g>
<path d="M1126.1 849.5C1130.6 843.8 1136.2 838.8 1143.1 835C1149.9 831.1 1160.4 828.3 1167.3 826.5C1174.1 824.7 1178.6 824.5 1184.2 824.1C1189.9 823.7 1195.1 823.9 1201.2 824.1C1207.2 824.3 1213.3 823.9 1220.6 825.3C1227.8 826.7 1236.7 828.9 1244.8 832.5C1252.8 836.2 1262.5 841.8 1269 847.1C1275.4 852.3 1279.7 858 1283.5 864C1287.3 870.1 1291.2 876.1 1292 883.4C1292.8 890.7 1288.6 899.1 1288.4 907.6C1288.2 916.1 1290.2 925.8 1290.8 934.2C1291.4 942.7 1292.4 950.4 1292 958.5C1291.6 966.5 1289.6 974.6 1288.4 982.7C1287.1 990.7 1286.3 998.8 1284.7 1006.9C1283.1 1014.9 1281.3 1023.8 1278.7 1031.1C1276 1038.4 1273.4 1044.4 1269 1050.5C1264.5 1056.5 1258.1 1063 1252 1067.4C1246 1071.8 1237.9 1074.9 1232.7 1077.1C1227.4 1079.3 1226.6 1079.5 1220.6 1080.7C1214.5 1081.9 1205.2 1083.6 1196.3 1084.4C1187.5 1085.2 1175.4 1086 1167.3 1085.6C1159.2 1085.2 1154 1084.2 1147.9 1081.9" fill="none" stroke="#1c1c14" stroke-width="1.2" stroke-linecap="round"/>
<text transform="translate(811 705.5) scale(0.955 1)" font-size="29.57" text-anchor="middle" style="fill:#000">Cluster 1</text>
<text transform="translate(448.5 1190.5) scale(0.955 1)" font-size="29.78" text-anchor="middle" style="fill:#000">Sample 1</text>
<text transform="translate(1132 1190.5) scale(0.955 1)" font-size="29.78" text-anchor="middle" style="fill:#000">Sample 2</text>
<text transform="translate(816.5 1240.5) scale(0.955 1)" font-size="29.68" text-anchor="middle" style="fill:#000">Cross-correlation 0.958</text>
<text transform="translate(575.5 812) scale(0.955 1)" font-size="36.05" text-anchor="start" style="fill:#b3a74c">SnRK1βγ</text>
<text transform="translate(1240 812) scale(0.955 1)" font-size="36.05" text-anchor="start" style="fill:#b3a74c">SnRK1βγ</text>
<text transform="translate(194 1139) scale(0.955 1)" font-size="36.05" text-anchor="start" style="fill:#5b81ad">SnRK1β2</text>
<text transform="translate(859 1139) scale(0.955 1)" font-size="36.05" text-anchor="start" style="fill:#5b81ad">SnRK1β2</text>
<text transform="translate(541.5 1136) scale(0.955 1)" font-size="36.05" text-anchor="start" style="fill:#e03c3f">SnRK1α2</text>
<text transform="translate(1206.5 1136) scale(0.955 1)" font-size="36.05" text-anchor="start" style="fill:#e03c3f">SnRK1α2</text>
</g>
<!-- 05_e -->
<g id="panel-e">
<defs>
<radialGradient id="gy" cx="0.42" cy="0.38" r="0.62"><stop offset="0" stop-color="#ffff38"/><stop offset="0.74" stop-color="#fcfc1e"/><stop offset="0.92" stop-color="#e0de16"/><stop offset="1" stop-color="#a9a610"/></radialGradient>
<radialGradient id="gyd" cx="0.42" cy="0.38" r="0.62"><stop offset="0" stop-color="#e9e85a"/><stop offset="0.7" stop-color="#d5d34a"/><stop offset="1" stop-color="#97942e"/></radialGradient>
<radialGradient id="gb" cx="0.38" cy="0.33" r="0.66"><stop offset="0" stop-color="#1a1aff"/><stop offset="0.2" stop-color="#0202ff"/><stop offset="0.78" stop-color="#0000ee"/><stop offset="1" stop-color="#00009a"/></radialGradient>
<radialGradient id="gbd" cx="0.38" cy="0.33" r="0.66"><stop offset="0" stop-color="#2020f0"/><stop offset="0.75" stop-color="#1414d8"/><stop offset="1" stop-color="#0c0c9a"/></radialGradient>
<radialGradient id="gr" cx="0.4" cy="0.35" r="0.64"><stop offset="0" stop-color="#ff1a1a"/><stop offset="0.72" stop-color="#fb0606"/><stop offset="0.9" stop-color="#d80404"/><stop offset="1" stop-color="#8e0202"/></radialGradient>
<radialGradient id="grd" cx="0.4" cy="0.35" r="0.64"><stop offset="0" stop-color="#ff4a48"/><stop offset="0.75" stop-color="#f63c3a"/><stop offset="1" stop-color="#b22422"/></radialGradient>
</defs>
<text class="b" x="0" y="1449">e</text>
<g fill="#5a1210"><circle cx="180.7" cy="1821.7" r="22.9"/><circle cx="222.5" cy="1834.4" r="17.4"/><circle cx="159.0" cy="1827.2" r="26.5"/><circle cx="204.4" cy="1827.2" r="28.3"/><circle cx="144.4" cy="1819.9" r="12.4"/><circle cx="231.6" cy="1827.2" r="19.3"/><circle cx="177.1" cy="1841.7" r="12.0"/><circle cx="195.3" cy="1847.1" r="10.2"/><circle cx="222.5" cy="1809.0" r="17.4"/><circle cx="246.1" cy="1812.6" r="13.8"/><circle cx="151.7" cy="1799.9" r="13.8"/><circle cx="277.0" cy="1867.1" r="15.6"/><circle cx="267.9" cy="1856.2" r="12.0"/><circle cx="240.7" cy="1845.3" r="10.2"/></g>
<g fill="url(#grd)"><circle cx="180.7" cy="1821.7" r="21.8"/><circle cx="222.5" cy="1834.4" r="16.3"/><circle cx="159.0" cy="1827.2" r="25.4"/><circle cx="204.4" cy="1827.2" r="27.2"/><circle cx="144.4" cy="1819.9" r="11.3"/><circle cx="231.6" cy="1827.2" r="18.2"/><circle cx="177.1" cy="1841.7" r="10.9"/><circle cx="195.3" cy="1847.1" r="9.1"/><circle cx="222.5" cy="1809.0" r="16.3"/><circle cx="246.1" cy="1812.6" r="12.7"/><circle cx="151.7" cy="1799.9" r="12.7"/><circle cx="277.0" cy="1867.1" r="14.5"/><circle cx="267.9" cy="1856.2" r="10.9"/><circle cx="240.7" cy="1845.3" r="9.1"/></g>
<g fill="#4a0505"><circle cx="177.1" cy="1707.0" r="19.3"/><circle cx="204.4" cy="1707.0" r="19.3"/><circle cx="222.5" cy="1688.8" r="17.4"/><circle cx="195.3" cy="1734.2" r="21.1"/><circle cx="168.0" cy="1743.3" r="19.3"/><circle cx="222.5" cy="1734.2" r="19.3"/><circle cx="231.6" cy="1707.0" r="15.6"/><circle cx="151.7" cy="1721.5" r="12.0"/><circle cx="237.0" cy="1752.4" r="15.6"/><circle cx="213.4" cy="1763.3" r="19.3"/><circle cx="188.0" cy="1770.6" r="17.4"/><circle cx="68.2" cy="1700.6" r="9.3"/><circle cx="77.2" cy="1707.0" r="7.5"/><circle cx="89.0" cy="1702.5" r="9.3"/><circle cx="102.7" cy="1703.4" r="16.5"/><circle cx="120.8" cy="1707.0" r="10.5"/><circle cx="131.7" cy="1710.6" r="8.7"/><circle cx="142.6" cy="1705.2" r="8.4"/><circle cx="151.7" cy="1703.4" r="10.5"/><circle cx="166.2" cy="1707.0" r="16.0"/><circle cx="184.4" cy="1692.5" r="9.6"/><circle cx="195.3" cy="1685.2" r="9.6"/><circle cx="204.4" cy="1683.4" r="8.7"/><circle cx="218.9" cy="1667.0" r="8.7"/><circle cx="228.9" cy="1667.0" r="10.5"/><circle cx="222.5" cy="1679.8" r="9.6"/><circle cx="231.6" cy="1688.8" r="10.5"/><circle cx="213.4" cy="1694.3" r="10.2"/><circle cx="151.7" cy="1734.2" r="12.4"/><circle cx="177.1" cy="1721.5" r="12.4"/><circle cx="191.6" cy="1717.9" r="8.7"/><circle cx="202.5" cy="1716.1" r="8.7"/><circle cx="213.4" cy="1714.3" r="9.6"/><circle cx="222.5" cy="1707.0" r="10.5"/><circle cx="231.6" cy="1721.5" r="10.5"/><circle cx="162.6" cy="1748.8" r="14.2"/><circle cx="188.0" cy="1748.8" r="14.2"/><circle cx="208.0" cy="1734.2" r="10.5"/><circle cx="175.3" cy="1770.6" r="16.0"/><circle cx="151.7" cy="1765.1" r="10.5"/><circle cx="200.7" cy="1763.3" r="13.8"/><circle cx="218.9" cy="1748.8" r="12.0"/><circle cx="228.0" cy="1737.9" r="10.2"/><circle cx="146.2" cy="1719.7" r="8.4"/><circle cx="188.0" cy="1705.2" r="10.2"/><circle cx="204.4" cy="1701.5" r="10.2"/></g>
<g fill="url(#gr)"><circle cx="177.1" cy="1707.0" r="18.2"/><circle cx="204.4" cy="1707.0" r="18.2"/><circle cx="222.5" cy="1688.8" r="16.3"/><circle cx="195.3" cy="1734.2" r="20.0"/><circle cx="168.0" cy="1743.3" r="18.2"/><circle cx="222.5" cy="1734.2" r="18.2"/><circle cx="231.6" cy="1707.0" r="14.5"/><circle cx="151.7" cy="1721.5" r="10.9"/><circle cx="237.0" cy="1752.4" r="14.5"/><circle cx="213.4" cy="1763.3" r="18.2"/><circle cx="188.0" cy="1770.6" r="16.3"/><circle cx="68.2" cy="1700.6" r="8.2"/><circle cx="77.2" cy="1707.0" r="6.4"/><circle cx="89.0" cy="1702.5" r="8.2"/><circle cx="102.7" cy="1703.4" r="15.4"/><circle cx="120.8" cy="1707.0" r="9.4"/><circle cx="131.7" cy="1710.6" r="7.6"/><circle cx="142.6" cy="1705.2" r="7.3"/><circle cx="151.7" cy="1703.4" r="9.4"/><circle cx="166.2" cy="1707.0" r="14.9"/><circle cx="184.4" cy="1692.5" r="8.5"/><circle cx="195.3" cy="1685.2" r="8.5"/><circle cx="204.4" cy="1683.4" r="7.6"/><circle cx="218.9" cy="1667.0" r="7.6"/><circle cx="228.9" cy="1667.0" r="9.4"/><circle cx="222.5" cy="1679.8" r="8.5"/><circle cx="231.6" cy="1688.8" r="9.4"/><circle cx="213.4" cy="1694.3" r="9.1"/><circle cx="151.7" cy="1734.2" r="11.3"/><circle cx="177.1" cy="1721.5" r="11.3"/><circle cx="191.6" cy="1717.9" r="7.6"/><circle cx="202.5" cy="1716.1" r="7.6"/><circle cx="213.4" cy="1714.3" r="8.5"/><circle cx="222.5" cy="1707.0" r="9.4"/><circle cx="231.6" cy="1721.5" r="9.4"/><circle cx="162.6" cy="1748.8" r="13.1"/><circle cx="188.0" cy="1748.8" r="13.1"/><circle cx="208.0" cy="1734.2" r="9.4"/><circle cx="175.3" cy="1770.6" r="14.9"/><circle cx="151.7" cy="1765.1" r="9.4"/><circle cx="200.7" cy="1763.3" r="12.7"/><circle cx="218.9" cy="1748.8" r="10.9"/><circle cx="228.0" cy="1737.9" r="9.1"/><circle cx="146.2" cy="1719.7" r="7.3"/><circle cx="188.0" cy="1705.2" r="9.1"/><circle cx="204.4" cy="1701.5" r="9.1"/></g>
<g fill="#4a0505"><circle cx="177.1" cy="1776.3" r="22.9"/><circle cx="168.0" cy="1754.5" r="16.0"/><circle cx="213.4" cy="1785.4" r="21.1"/><circle cx="159.0" cy="1767.2" r="12.0"/><circle cx="186.2" cy="1796.3" r="12.0"/><circle cx="198.9" cy="1761.8" r="15.6"/><circle cx="177.1" cy="1743.6" r="13.8"/><circle cx="209.8" cy="1743.6" r="15.6"/><circle cx="224.3" cy="1761.8" r="12.0"/></g>
<g fill="url(#gr)"><circle cx="177.1" cy="1776.3" r="21.8"/><circle cx="168.0" cy="1754.5" r="14.9"/><circle cx="213.4" cy="1785.4" r="20.0"/><circle cx="159.0" cy="1767.2" r="10.9"/><circle cx="186.2" cy="1796.3" r="10.9"/><circle cx="198.9" cy="1761.8" r="14.5"/><circle cx="177.1" cy="1743.6" r="12.7"/><circle cx="209.8" cy="1743.6" r="14.5"/><circle cx="224.3" cy="1761.8" r="10.9"/></g>
<g fill="#05054a"><circle cx="255.2" cy="1688.8" r="12.0"/><circle cx="277.0" cy="1676.1" r="15.6"/><circle cx="291.5" cy="1697.9" r="19.3"/><circle cx="258.8" cy="1721.5" r="12.0"/><circle cx="286.1" cy="1661.6" r="12.0"/><circle cx="298.2" cy="1661.6" r="14.2"/><circle cx="307.2" cy="1688.8" r="21.1"/><circle cx="334.5" cy="1707.0" r="24.7"/><circle cx="367.2" cy="1661.6" r="10.5"/><circle cx="370.8" cy="1672.5" r="9.5"/><circle cx="325.4" cy="1734.2" r="21.4"/><circle cx="349.0" cy="1725.2" r="16.0"/><circle cx="290.9" cy="1679.8" r="10.5"/><circle cx="287.3" cy="1663.4" r="10.2"/><circle cx="358.1" cy="1685.2" r="12.0"/><circle cx="309.1" cy="1721.5" r="15.6"/><circle cx="365.4" cy="1652.5" r="7.5"/><circle cx="298.2" cy="1708.8" r="13.8"/><circle cx="339.9" cy="1745.1" r="12.0"/><circle cx="283.6" cy="1697.9" r="10.2"/><circle cx="356.3" cy="1737.9" r="8.4"/></g>
<g fill="url(#gbd)"><circle cx="255.2" cy="1688.8" r="10.9"/><circle cx="277.0" cy="1676.1" r="14.5"/><circle cx="291.5" cy="1697.9" r="18.2"/><circle cx="258.8" cy="1721.5" r="10.9"/><circle cx="286.1" cy="1661.6" r="10.9"/><circle cx="298.2" cy="1661.6" r="13.1"/><circle cx="307.2" cy="1688.8" r="20.0"/><circle cx="334.5" cy="1707.0" r="23.6"/><circle cx="367.2" cy="1661.6" r="9.4"/><circle cx="370.8" cy="1672.5" r="8.4"/><circle cx="325.4" cy="1734.2" r="20.3"/><circle cx="349.0" cy="1725.2" r="14.9"/><circle cx="290.9" cy="1679.8" r="9.4"/><circle cx="287.3" cy="1663.4" r="9.1"/><circle cx="358.1" cy="1685.2" r="10.9"/><circle cx="309.1" cy="1721.5" r="14.5"/><circle cx="365.4" cy="1652.5" r="6.4"/><circle cx="298.2" cy="1708.8" r="12.7"/><circle cx="339.9" cy="1745.1" r="10.9"/><circle cx="283.6" cy="1697.9" r="9.1"/><circle cx="356.3" cy="1737.9" r="7.3"/></g>
<g fill="#3c3a0c"><circle cx="371.6" cy="1830.8" r="18.4"/><circle cx="357.1" cy="1849.0" r="16.5"/><circle cx="329.9" cy="1849.0" r="17.4"/><circle cx="389.8" cy="1816.3" r="15.6"/><circle cx="293.6" cy="1821.7" r="17.4"/><circle cx="400.7" cy="1778.1" r="19.3"/><circle cx="413.4" cy="1765.4" r="9.3"/><circle cx="406.1" cy="1761.8" r="8.4"/><circle cx="386.2" cy="1794.5" r="14.7"/><circle cx="266.3" cy="1783.6" r="13.8"/><circle cx="262.7" cy="1799.9" r="12.0"/><circle cx="284.5" cy="1834.4" r="17.4"/><circle cx="302.6" cy="1852.6" r="19.3"/><circle cx="317.2" cy="1867.1" r="14.2"/><circle cx="339.0" cy="1872.6" r="14.2"/><circle cx="375.3" cy="1863.5" r="17.8"/><circle cx="402.5" cy="1852.6" r="12.4"/><circle cx="418.9" cy="1841.7" r="8.7"/><circle cx="275.4" cy="1816.3" r="13.8"/><circle cx="357.1" cy="1870.7" r="12.0"/><circle cx="331.7" cy="1879.8" r="8.4"/><circle cx="273.6" cy="1761.8" r="12.0"/></g>
<g fill="url(#gyd)"><circle cx="371.6" cy="1830.8" r="17.3"/><circle cx="357.1" cy="1849.0" r="15.4"/><circle cx="329.9" cy="1849.0" r="16.3"/><circle cx="389.8" cy="1816.3" r="14.5"/><circle cx="293.6" cy="1821.7" r="16.3"/><circle cx="400.7" cy="1778.1" r="18.2"/><circle cx="413.4" cy="1765.4" r="8.2"/><circle cx="406.1" cy="1761.8" r="7.3"/><circle cx="386.2" cy="1794.5" r="13.6"/><circle cx="266.3" cy="1783.6" r="12.7"/><circle cx="262.7" cy="1799.9" r="10.9"/><circle cx="284.5" cy="1834.4" r="16.3"/><circle cx="302.6" cy="1852.6" r="18.2"/><circle cx="317.2" cy="1867.1" r="13.1"/><circle cx="339.0" cy="1872.6" r="13.1"/><circle cx="375.3" cy="1863.5" r="16.7"/><circle cx="402.5" cy="1852.6" r="11.3"/><circle cx="418.9" cy="1841.7" r="7.6"/><circle cx="275.4" cy="1816.3" r="12.7"/><circle cx="357.1" cy="1870.7" r="10.9"/><circle cx="331.7" cy="1879.8" r="7.3"/><circle cx="273.6" cy="1761.8" r="10.9"/></g>
<g fill="#3c3a0c"><circle cx="317.2" cy="1830.8" r="19.3"/><circle cx="331.7" cy="1816.3" r="19.3"/><circle cx="306.3" cy="1776.3" r="19.3"/><circle cx="288.1" cy="1783.6" r="21.1"/><circle cx="299.0" cy="1758.2" r="17.8"/><circle cx="284.5" cy="1763.6" r="10.2"/><circle cx="328.1" cy="1776.3" r="22.9"/><circle cx="322.6" cy="1756.3" r="9.3"/><circle cx="315.4" cy="1805.4" r="19.3"/><circle cx="299.0" cy="1812.6" r="12.0"/><circle cx="348.0" cy="1834.4" r="21.4"/><circle cx="342.6" cy="1816.3" r="13.8"/><circle cx="360.7" cy="1790.8" r="16.0"/><circle cx="371.6" cy="1809.0" r="12.4"/><circle cx="409.8" cy="1825.4" r="23.3"/><circle cx="418.9" cy="1812.6" r="12.0"/><circle cx="393.4" cy="1841.7" r="16.0"/><circle cx="386.2" cy="1825.4" r="12.0"/><circle cx="346.2" cy="1858.0" r="14.2"/><circle cx="284.5" cy="1805.4" r="12.4"/><circle cx="339.0" cy="1798.1" r="12.0"/><circle cx="357.1" cy="1776.3" r="12.0"/><circle cx="311.7" cy="1745.4" r="13.8"/><circle cx="289.9" cy="1743.6" r="13.8"/></g>
<g fill="url(#gy)"><circle cx="317.2" cy="1830.8" r="18.2"/><circle cx="331.7" cy="1816.3" r="18.2"/><circle cx="306.3" cy="1776.3" r="18.2"/><circle cx="288.1" cy="1783.6" r="20.0"/><circle cx="299.0" cy="1758.2" r="16.7"/><circle cx="284.5" cy="1763.6" r="9.1"/><circle cx="328.1" cy="1776.3" r="21.8"/><circle cx="322.6" cy="1756.3" r="8.2"/><circle cx="315.4" cy="1805.4" r="18.2"/><circle cx="299.0" cy="1812.6" r="10.9"/><circle cx="348.0" cy="1834.4" r="20.3"/><circle cx="342.6" cy="1816.3" r="12.7"/><circle cx="360.7" cy="1790.8" r="14.9"/><circle cx="371.6" cy="1809.0" r="11.3"/><circle cx="409.8" cy="1825.4" r="22.2"/><circle cx="418.9" cy="1812.6" r="10.9"/><circle cx="393.4" cy="1841.7" r="14.9"/><circle cx="386.2" cy="1825.4" r="10.9"/><circle cx="346.2" cy="1858.0" r="13.1"/><circle cx="284.5" cy="1805.4" r="11.3"/><circle cx="339.0" cy="1798.1" r="10.9"/><circle cx="357.1" cy="1776.3" r="10.9"/><circle cx="311.7" cy="1745.4" r="12.7"/><circle cx="289.9" cy="1743.6" r="12.7"/></g>
<g fill="#3c3a0c"><circle cx="330.8" cy="1561.7" r="19.3"/><circle cx="334.5" cy="1581.7" r="16.5"/><circle cx="316.3" cy="1574.4" r="19.3"/><circle cx="325.4" cy="1545.4" r="17.4"/><circle cx="325.4" cy="1511.2" r="20.2"/><circle cx="316.3" cy="1507.6" r="12.0"/><circle cx="329.0" cy="1501.2" r="8.0"/><circle cx="338.1" cy="1504.9" r="8.7"/><circle cx="321.8" cy="1499.4" r="8.4"/><circle cx="339.9" cy="1518.5" r="12.0"/><circle cx="325.4" cy="1529.0" r="22.9"/><circle cx="349.0" cy="1532.7" r="11.6"/><circle cx="341.7" cy="1539.9" r="13.8"/><circle cx="303.6" cy="1561.7" r="26.5"/><circle cx="290.9" cy="1552.6" r="15.6"/><circle cx="350.8" cy="1570.8" r="17.8"/><circle cx="354.5" cy="1556.3" r="12.0"/><circle cx="303.6" cy="1592.6" r="17.4"/><circle cx="339.9" cy="1592.6" r="16.5"/><circle cx="290.9" cy="1581.7" r="12.4"/><circle cx="334.5" cy="1610.7" r="14.7"/><circle cx="323.6" cy="1596.2" r="12.9"/><circle cx="283.6" cy="1592.6" r="12.0"/><circle cx="347.2" cy="1605.3" r="10.2"/><circle cx="314.5" cy="1547.2" r="17.4"/><circle cx="356.3" cy="1585.3" r="10.2"/><circle cx="327.2" cy="1619.8" r="8.4"/></g>
<g fill="url(#gy)"><circle cx="330.8" cy="1561.7" r="18.2"/><circle cx="334.5" cy="1581.7" r="15.4"/><circle cx="316.3" cy="1574.4" r="18.2"/><circle cx="325.4" cy="1545.4" r="16.3"/><circle cx="325.4" cy="1511.2" r="19.1"/><circle cx="316.3" cy="1507.6" r="10.9"/><circle cx="329.0" cy="1501.2" r="6.9"/><circle cx="338.1" cy="1504.9" r="7.6"/><circle cx="321.8" cy="1499.4" r="7.3"/><circle cx="339.9" cy="1518.5" r="10.9"/><circle cx="325.4" cy="1529.0" r="21.8"/><circle cx="349.0" cy="1532.7" r="10.5"/><circle cx="341.7" cy="1539.9" r="12.7"/><circle cx="303.6" cy="1561.7" r="25.4"/><circle cx="290.9" cy="1552.6" r="14.5"/><circle cx="350.8" cy="1570.8" r="16.7"/><circle cx="354.5" cy="1556.3" r="10.9"/><circle cx="303.6" cy="1592.6" r="16.3"/><circle cx="339.9" cy="1592.6" r="15.4"/><circle cx="290.9" cy="1581.7" r="11.3"/><circle cx="334.5" cy="1610.7" r="13.6"/><circle cx="323.6" cy="1596.2" r="11.8"/><circle cx="283.6" cy="1592.6" r="10.9"/><circle cx="347.2" cy="1605.3" r="9.1"/><circle cx="314.5" cy="1547.2" r="16.3"/><circle cx="356.3" cy="1585.3" r="9.1"/><circle cx="327.2" cy="1619.8" r="7.3"/></g>
<g fill="#4a0505"><circle cx="213.4" cy="1894.4" r="24.7"/><circle cx="231.6" cy="1921.6" r="24.7"/><circle cx="208.0" cy="1939.8" r="21.4"/><circle cx="191.6" cy="1912.5" r="16.0"/><circle cx="188.0" cy="1890.7" r="10.5"/><circle cx="249.8" cy="1936.1" r="12.4"/><circle cx="222.5" cy="1948.8" r="12.4"/><circle cx="246.1" cy="1903.4" r="13.8"/><circle cx="195.3" cy="1928.9" r="12.0"/><circle cx="231.6" cy="1881.6" r="10.2"/><circle cx="249.8" cy="1914.3" r="12.0"/></g>
<g fill="url(#gr)"><circle cx="213.4" cy="1894.4" r="23.6"/><circle cx="231.6" cy="1921.6" r="23.6"/><circle cx="208.0" cy="1939.8" r="20.3"/><circle cx="191.6" cy="1912.5" r="14.9"/><circle cx="188.0" cy="1890.7" r="9.4"/><circle cx="249.8" cy="1936.1" r="11.3"/><circle cx="222.5" cy="1948.8" r="11.3"/><circle cx="246.1" cy="1903.4" r="12.7"/><circle cx="195.3" cy="1928.9" r="10.9"/><circle cx="231.6" cy="1881.6" r="9.1"/><circle cx="249.8" cy="1914.3" r="10.9"/></g>
<g fill="url(#gr)" stroke="#4a0505" stroke-width="1.1"><circle cx="193.5" cy="1999.7" r="15.4"/><circle cx="191.6" cy="1963.4" r="9.1"/><circle cx="165.3" cy="1918.9" r="14.5"/><circle cx="175.3" cy="1948.8" r="15.4"/><circle cx="161.7" cy="1978.8" r="15.4"/><circle cx="188.9" cy="1983.3" r="16.3"/></g>
<g fill="#05054a"><circle cx="311.7" cy="1903.4" r="12.0"/><circle cx="315.4" cy="1932.5" r="13.8"/><circle cx="331.7" cy="1912.5" r="12.4"/><circle cx="306.3" cy="1918.0" r="13.8"/><circle cx="280.8" cy="1898.0" r="28.3"/><circle cx="286.3" cy="1927.0" r="28.3"/><circle cx="288.1" cy="1959.7" r="22.0"/><circle cx="282.7" cy="1974.3" r="11.3"/><circle cx="317.2" cy="1903.4" r="10.5"/><circle cx="329.9" cy="1899.8" r="8.7"/><circle cx="346.2" cy="1919.8" r="22.0"/><circle cx="326.2" cy="1941.6" r="9.5"/><circle cx="364.4" cy="1921.6" r="8.7"/><circle cx="266.3" cy="1932.5" r="10.5"/><circle cx="260.9" cy="1890.7" r="9.5"/><circle cx="353.5" cy="1903.4" r="12.0"/><circle cx="271.8" cy="1945.2" r="13.8"/><circle cx="302.6" cy="1943.4" r="13.8"/><circle cx="339.0" cy="1936.1" r="10.2"/><circle cx="293.6" cy="1972.4" r="9.3"/><circle cx="275.4" cy="1967.0" r="10.2"/><circle cx="355.3" cy="1932.5" r="10.2"/></g>
<g fill="url(#gb)"><circle cx="311.7" cy="1903.4" r="10.9"/><circle cx="315.4" cy="1932.5" r="12.7"/><circle cx="331.7" cy="1912.5" r="11.3"/><circle cx="306.3" cy="1918.0" r="12.7"/><circle cx="280.8" cy="1898.0" r="27.2"/><circle cx="286.3" cy="1927.0" r="27.2"/><circle cx="288.1" cy="1959.7" r="20.9"/><circle cx="282.7" cy="1974.3" r="10.2"/><circle cx="317.2" cy="1903.4" r="9.4"/><circle cx="329.9" cy="1899.8" r="7.6"/><circle cx="346.2" cy="1919.8" r="20.9"/><circle cx="326.2" cy="1941.6" r="8.4"/><circle cx="364.4" cy="1921.6" r="7.6"/><circle cx="266.3" cy="1932.5" r="9.4"/><circle cx="260.9" cy="1890.7" r="8.4"/><circle cx="353.5" cy="1903.4" r="10.9"/><circle cx="271.8" cy="1945.2" r="12.7"/><circle cx="302.6" cy="1943.4" r="12.7"/><circle cx="339.0" cy="1936.1" r="9.1"/><circle cx="293.6" cy="1972.4" r="8.2"/><circle cx="275.4" cy="1967.0" r="9.1"/><circle cx="355.3" cy="1932.5" r="9.1"/></g>
<g fill="url(#gb)" stroke="#05054a" stroke-width="1.1"><circle cx="244.3" cy="1752.7" r="15.4"/><circle cx="238.9" cy="1778.1" r="15.4"/><circle cx="237.0" cy="1809.0" r="15.4"/><circle cx="260.7" cy="1835.3" r="16.0"/><circle cx="247.0" cy="1866.2" r="15.4"/><circle cx="248.8" cy="1712.4" r="13.1"/></g>
<g fill="url(#gb)" stroke="#05054a" stroke-width="1.1"><circle cx="338.1" cy="1663.4" r="24.5"/><circle cx="385.3" cy="1702.5" r="24.5"/><circle cx="437.1" cy="1711.5" r="25.4"/><circle cx="461.6" cy="1750.6" r="26.3"/><circle cx="523.3" cy="1738.8" r="27.2"/></g>
<g fill="url(#gy)" stroke="#3c3a0c" stroke-width="1.1"><circle cx="267.0" cy="1517.2" r="15.4"/><circle cx="267.0" cy="1541.7" r="16.0"/><circle cx="235.2" cy="1553.5" r="16.0"/><circle cx="258.5" cy="1570.8" r="13.1"/><circle cx="255.2" cy="1597.7" r="17.8"/><circle cx="277.9" cy="1647.1" r="15.4"/><circle cx="274.3" cy="1630.7" r="17.3"/><circle cx="279.7" cy="1624.4" r="17.8"/><circle cx="254.3" cy="1668.9" r="15.4"/><circle cx="251.6" cy="1660.7" r="17.3"/><circle cx="275.2" cy="1706.1" r="16.0"/><circle cx="265.2" cy="1735.1" r="10.0"/></g>
<text transform="translate(81.5 1518) scale(0.955 1)" font-size="36.05" style="fill:#a39c58">SnRK1βγ</text>
<text transform="translate(406.5 1666) scale(0.955 1)" font-size="36.05" style="fill:#2f6496">SnRK1β2</text>
<text transform="translate(138.5 2057) scale(0.955 1)" font-size="36.05" style="fill:#d4393c">SnRK1α2</text>
</g>
<!-- 06_f -->
<g id="panel-f">
<defs>
<radialGradient id="fy" cx="0.45" cy="0.42" r="0.6"><stop offset="0" stop-color="#ffffc0"/><stop offset="0.8" stop-color="#ffffb2"/><stop offset="1" stop-color="#f1f19a"/></radialGradient>
<radialGradient id="fb" cx="0.45" cy="0.42" r="0.6"><stop offset="0" stop-color="#cfcfff"/><stop offset="0.8" stop-color="#c4c4fd"/><stop offset="1" stop-color="#a9a9ee"/></radialGradient>
<radialGradient id="fr" cx="0.45" cy="0.42" r="0.6"><stop offset="0" stop-color="#ffd0d0"/><stop offset="0.8" stop-color="#ffc6c6"/><stop offset="1" stop-color="#f3adad"/></radialGradient>
</defs>
<text class="b" x="1" y="2098">f</text>
<g fill="#6e3a3a"><circle cx="179.2" cy="2423.2" r="22.8"/><circle cx="221.0" cy="2435.9" r="17.3"/><circle cx="157.5" cy="2428.7" r="26.4"/><circle cx="202.9" cy="2428.7" r="28.2"/><circle cx="142.9" cy="2421.4" r="12.3"/><circle cx="230.1" cy="2428.7" r="19.2"/><circle cx="175.6" cy="2443.2" r="11.9"/><circle cx="193.8" cy="2448.6" r="10.1"/><circle cx="221.0" cy="2410.5" r="17.3"/><circle cx="244.6" cy="2414.1" r="13.7"/><circle cx="150.2" cy="2401.4" r="13.7"/><circle cx="275.5" cy="2468.6" r="15.5"/><circle cx="266.4" cy="2457.7" r="11.9"/><circle cx="239.2" cy="2446.8" r="10.1"/></g>
<g fill="#fff"><circle cx="179.2" cy="2423.2" r="21.8"/><circle cx="221.0" cy="2435.9" r="16.3"/><circle cx="157.5" cy="2428.7" r="25.4"/><circle cx="202.9" cy="2428.7" r="27.2"/><circle cx="142.9" cy="2421.4" r="11.3"/><circle cx="230.1" cy="2428.7" r="18.2"/><circle cx="175.6" cy="2443.2" r="10.9"/><circle cx="193.8" cy="2448.6" r="9.1"/><circle cx="221.0" cy="2410.5" r="16.3"/><circle cx="244.6" cy="2414.1" r="12.7"/><circle cx="150.2" cy="2401.4" r="12.7"/><circle cx="275.5" cy="2468.6" r="14.5"/><circle cx="266.4" cy="2457.7" r="10.9"/><circle cx="239.2" cy="2446.8" r="9.1"/></g>
<g fill="url(#fr)" fill-opacity="1"><circle cx="179.2" cy="2423.2" r="21.8"/><circle cx="221.0" cy="2435.9" r="16.3"/><circle cx="157.5" cy="2428.7" r="25.4"/><circle cx="202.9" cy="2428.7" r="27.2"/><circle cx="142.9" cy="2421.4" r="11.3"/><circle cx="230.1" cy="2428.7" r="18.2"/><circle cx="175.6" cy="2443.2" r="10.9"/><circle cx="193.8" cy="2448.6" r="9.1"/><circle cx="221.0" cy="2410.5" r="16.3"/><circle cx="244.6" cy="2414.1" r="12.7"/><circle cx="150.2" cy="2401.4" r="12.7"/><circle cx="275.5" cy="2468.6" r="14.5"/><circle cx="266.4" cy="2457.7" r="10.9"/><circle cx="239.2" cy="2446.8" r="9.1"/></g>
<g fill="#6e3a3a"><circle cx="175.6" cy="2308.5" r="19.2"/><circle cx="202.9" cy="2308.5" r="19.2"/><circle cx="221.0" cy="2290.3" r="17.3"/><circle cx="193.8" cy="2335.7" r="21.0"/><circle cx="166.5" cy="2344.8" r="19.2"/><circle cx="221.0" cy="2335.7" r="19.2"/><circle cx="230.1" cy="2308.5" r="15.5"/><circle cx="150.2" cy="2323.0" r="11.9"/><circle cx="235.5" cy="2353.9" r="15.5"/><circle cx="211.9" cy="2364.8" r="19.2"/><circle cx="186.5" cy="2372.1" r="17.3"/><circle cx="66.7" cy="2302.1" r="9.2"/><circle cx="75.7" cy="2308.5" r="7.4"/><circle cx="87.5" cy="2304.0" r="9.2"/><circle cx="101.2" cy="2304.9" r="16.4"/><circle cx="119.3" cy="2308.5" r="10.4"/><circle cx="130.2" cy="2312.1" r="8.6"/><circle cx="141.1" cy="2306.7" r="8.3"/><circle cx="150.2" cy="2304.9" r="10.4"/><circle cx="164.7" cy="2308.5" r="15.9"/><circle cx="182.9" cy="2294.0" r="9.5"/><circle cx="193.8" cy="2286.7" r="9.5"/><circle cx="202.9" cy="2284.9" r="8.6"/><circle cx="217.4" cy="2268.5" r="8.6"/><circle cx="227.4" cy="2268.5" r="10.4"/><circle cx="221.0" cy="2281.3" r="9.5"/><circle cx="230.1" cy="2290.3" r="10.4"/><circle cx="211.9" cy="2295.8" r="10.1"/><circle cx="150.2" cy="2335.7" r="12.3"/><circle cx="175.6" cy="2323.0" r="12.3"/><circle cx="190.1" cy="2319.4" r="8.6"/><circle cx="201.0" cy="2317.6" r="8.6"/><circle cx="211.9" cy="2315.8" r="9.5"/><circle cx="221.0" cy="2308.5" r="10.4"/><circle cx="230.1" cy="2323.0" r="10.4"/><circle cx="161.1" cy="2350.3" r="14.1"/><circle cx="186.5" cy="2350.3" r="14.1"/><circle cx="206.5" cy="2335.7" r="10.4"/><circle cx="173.8" cy="2372.1" r="15.9"/><circle cx="150.2" cy="2366.6" r="10.4"/><circle cx="199.2" cy="2364.8" r="13.7"/><circle cx="217.4" cy="2350.3" r="11.9"/><circle cx="226.5" cy="2339.4" r="10.1"/><circle cx="144.7" cy="2321.2" r="8.3"/><circle cx="186.5" cy="2306.7" r="10.1"/><circle cx="202.9" cy="2303.0" r="10.1"/></g>
<g fill="#fff"><circle cx="175.6" cy="2308.5" r="18.2"/><circle cx="202.9" cy="2308.5" r="18.2"/><circle cx="221.0" cy="2290.3" r="16.3"/><circle cx="193.8" cy="2335.7" r="20.0"/><circle cx="166.5" cy="2344.8" r="18.2"/><circle cx="221.0" cy="2335.7" r="18.2"/><circle cx="230.1" cy="2308.5" r="14.5"/><circle cx="150.2" cy="2323.0" r="10.9"/><circle cx="235.5" cy="2353.9" r="14.5"/><circle cx="211.9" cy="2364.8" r="18.2"/><circle cx="186.5" cy="2372.1" r="16.3"/><circle cx="66.7" cy="2302.1" r="8.2"/><circle cx="75.7" cy="2308.5" r="6.4"/><circle cx="87.5" cy="2304.0" r="8.2"/><circle cx="101.2" cy="2304.9" r="15.4"/><circle cx="119.3" cy="2308.5" r="9.4"/><circle cx="130.2" cy="2312.1" r="7.6"/><circle cx="141.1" cy="2306.7" r="7.3"/><circle cx="150.2" cy="2304.9" r="9.4"/><circle cx="164.7" cy="2308.5" r="14.9"/><circle cx="182.9" cy="2294.0" r="8.5"/><circle cx="193.8" cy="2286.7" r="8.5"/><circle cx="202.9" cy="2284.9" r="7.6"/><circle cx="217.4" cy="2268.5" r="7.6"/><circle cx="227.4" cy="2268.5" r="9.4"/><circle cx="221.0" cy="2281.3" r="8.5"/><circle cx="230.1" cy="2290.3" r="9.4"/><circle cx="211.9" cy="2295.8" r="9.1"/><circle cx="150.2" cy="2335.7" r="11.3"/><circle cx="175.6" cy="2323.0" r="11.3"/><circle cx="190.1" cy="2319.4" r="7.6"/><circle cx="201.0" cy="2317.6" r="7.6"/><circle cx="211.9" cy="2315.8" r="8.5"/><circle cx="221.0" cy="2308.5" r="9.4"/><circle cx="230.1" cy="2323.0" r="9.4"/><circle cx="161.1" cy="2350.3" r="13.1"/><circle cx="186.5" cy="2350.3" r="13.1"/><circle cx="206.5" cy="2335.7" r="9.4"/><circle cx="173.8" cy="2372.1" r="14.9"/><circle cx="150.2" cy="2366.6" r="9.4"/><circle cx="199.2" cy="2364.8" r="12.7"/><circle cx="217.4" cy="2350.3" r="10.9"/><circle cx="226.5" cy="2339.4" r="9.1"/><circle cx="144.7" cy="2321.2" r="7.3"/><circle cx="186.5" cy="2306.7" r="9.1"/><circle cx="202.9" cy="2303.0" r="9.1"/></g>
<g fill="url(#fr)" fill-opacity="1"><circle cx="175.6" cy="2308.5" r="18.2"/><circle cx="202.9" cy="2308.5" r="18.2"/><circle cx="221.0" cy="2290.3" r="16.3"/><circle cx="193.8" cy="2335.7" r="20.0"/><circle cx="166.5" cy="2344.8" r="18.2"/><circle cx="221.0" cy="2335.7" r="18.2"/><circle cx="230.1" cy="2308.5" r="14.5"/><circle cx="150.2" cy="2323.0" r="10.9"/><circle cx="235.5" cy="2353.9" r="14.5"/><circle cx="211.9" cy="2364.8" r="18.2"/><circle cx="186.5" cy="2372.1" r="16.3"/><circle cx="66.7" cy="2302.1" r="8.2"/><circle cx="75.7" cy="2308.5" r="6.4"/><circle cx="87.5" cy="2304.0" r="8.2"/><circle cx="101.2" cy="2304.9" r="15.4"/><circle cx="119.3" cy="2308.5" r="9.4"/><circle cx="130.2" cy="2312.1" r="7.6"/><circle cx="141.1" cy="2306.7" r="7.3"/><circle cx="150.2" cy="2304.9" r="9.4"/><circle cx="164.7" cy="2308.5" r="14.9"/><circle cx="182.9" cy="2294.0" r="8.5"/><circle cx="193.8" cy="2286.7" r="8.5"/><circle cx="202.9" cy="2284.9" r="7.6"/><circle cx="217.4" cy="2268.5" r="7.6"/><circle cx="227.4" cy="2268.5" r="9.4"/><circle cx="221.0" cy="2281.3" r="8.5"/><circle cx="230.1" cy="2290.3" r="9.4"/><circle cx="211.9" cy="2295.8" r="9.1"/><circle cx="150.2" cy="2335.7" r="11.3"/><circle cx="175.6" cy="2323.0" r="11.3"/><circle cx="190.1" cy="2319.4" r="7.6"/><circle cx="201.0" cy="2317.6" r="7.6"/><circle cx="211.9" cy="2315.8" r="8.5"/><circle cx="221.0" cy="2308.5" r="9.4"/><circle cx="230.1" cy="2323.0" r="9.4"/><circle cx="161.1" cy="2350.3" r="13.1"/><circle cx="186.5" cy="2350.3" r="13.1"/><circle cx="206.5" cy="2335.7" r="9.4"/><circle cx="173.8" cy="2372.1" r="14.9"/><circle cx="150.2" cy="2366.6" r="9.4"/><circle cx="199.2" cy="2364.8" r="12.7"/><circle cx="217.4" cy="2350.3" r="10.9"/><circle cx="226.5" cy="2339.4" r="9.1"/><circle cx="144.7" cy="2321.2" r="7.3"/><circle cx="186.5" cy="2306.7" r="9.1"/><circle cx="202.9" cy="2303.0" r="9.1"/></g>
<g fill="#6e3a3a"><circle cx="175.6" cy="2377.8" r="22.8"/><circle cx="166.5" cy="2356.0" r="15.9"/><circle cx="211.9" cy="2386.9" r="21.0"/><circle cx="157.5" cy="2368.7" r="11.9"/><circle cx="184.7" cy="2397.8" r="11.9"/><circle cx="197.4" cy="2363.3" r="15.5"/><circle cx="175.6" cy="2345.1" r="13.7"/><circle cx="208.3" cy="2345.1" r="15.5"/><circle cx="222.8" cy="2363.3" r="11.9"/></g>
<g fill="#fff"><circle cx="175.6" cy="2377.8" r="21.8"/><circle cx="166.5" cy="2356.0" r="14.9"/><circle cx="211.9" cy="2386.9" r="20.0"/><circle cx="157.5" cy="2368.7" r="10.9"/><circle cx="184.7" cy="2397.8" r="10.9"/><circle cx="197.4" cy="2363.3" r="14.5"/><circle cx="175.6" cy="2345.1" r="12.7"/><circle cx="208.3" cy="2345.1" r="14.5"/><circle cx="222.8" cy="2363.3" r="10.9"/></g>
<g fill="url(#fr)" fill-opacity="1"><circle cx="175.6" cy="2377.8" r="21.8"/><circle cx="166.5" cy="2356.0" r="14.9"/><circle cx="211.9" cy="2386.9" r="20.0"/><circle cx="157.5" cy="2368.7" r="10.9"/><circle cx="184.7" cy="2397.8" r="10.9"/><circle cx="197.4" cy="2363.3" r="14.5"/><circle cx="175.6" cy="2345.1" r="12.7"/><circle cx="208.3" cy="2345.1" r="14.5"/><circle cx="222.8" cy="2363.3" r="10.9"/></g>
<g fill="#23235e"><circle cx="253.7" cy="2290.3" r="11.9"/><circle cx="275.5" cy="2277.6" r="15.5"/><circle cx="290.0" cy="2299.4" r="19.2"/><circle cx="257.3" cy="2323.0" r="11.9"/><circle cx="284.6" cy="2263.1" r="11.9"/><circle cx="296.7" cy="2263.1" r="14.1"/><circle cx="305.7" cy="2290.3" r="21.0"/><circle cx="333.0" cy="2308.5" r="24.6"/><circle cx="365.7" cy="2263.1" r="10.4"/><circle cx="369.3" cy="2274.0" r="9.4"/><circle cx="323.9" cy="2335.7" r="21.3"/><circle cx="347.5" cy="2326.7" r="15.9"/><circle cx="289.4" cy="2281.3" r="10.4"/><circle cx="285.8" cy="2264.9" r="10.1"/><circle cx="356.6" cy="2286.7" r="11.9"/><circle cx="307.6" cy="2323.0" r="15.5"/><circle cx="363.9" cy="2254.0" r="7.4"/><circle cx="296.7" cy="2310.3" r="13.7"/><circle cx="338.4" cy="2346.6" r="11.9"/><circle cx="282.1" cy="2299.4" r="10.1"/><circle cx="354.8" cy="2339.4" r="8.3"/></g>
<g fill="#fff"><circle cx="253.7" cy="2290.3" r="10.9"/><circle cx="275.5" cy="2277.6" r="14.5"/><circle cx="290.0" cy="2299.4" r="18.2"/><circle cx="257.3" cy="2323.0" r="10.9"/><circle cx="284.6" cy="2263.1" r="10.9"/><circle cx="296.7" cy="2263.1" r="13.1"/><circle cx="305.7" cy="2290.3" r="20.0"/><circle cx="333.0" cy="2308.5" r="23.6"/><circle cx="365.7" cy="2263.1" r="9.4"/><circle cx="369.3" cy="2274.0" r="8.4"/><circle cx="323.9" cy="2335.7" r="20.3"/><circle cx="347.5" cy="2326.7" r="14.9"/><circle cx="289.4" cy="2281.3" r="9.4"/><circle cx="285.8" cy="2264.9" r="9.1"/><circle cx="356.6" cy="2286.7" r="10.9"/><circle cx="307.6" cy="2323.0" r="14.5"/><circle cx="363.9" cy="2254.0" r="6.4"/><circle cx="296.7" cy="2310.3" r="12.7"/><circle cx="338.4" cy="2346.6" r="10.9"/><circle cx="282.1" cy="2299.4" r="9.1"/><circle cx="354.8" cy="2339.4" r="7.3"/></g>
<g fill="url(#fb)" fill-opacity="1"><circle cx="253.7" cy="2290.3" r="10.9"/><circle cx="275.5" cy="2277.6" r="14.5"/><circle cx="290.0" cy="2299.4" r="18.2"/><circle cx="257.3" cy="2323.0" r="10.9"/><circle cx="284.6" cy="2263.1" r="10.9"/><circle cx="296.7" cy="2263.1" r="13.1"/><circle cx="305.7" cy="2290.3" r="20.0"/><circle cx="333.0" cy="2308.5" r="23.6"/><circle cx="365.7" cy="2263.1" r="9.4"/><circle cx="369.3" cy="2274.0" r="8.4"/><circle cx="323.9" cy="2335.7" r="20.3"/><circle cx="347.5" cy="2326.7" r="14.9"/><circle cx="289.4" cy="2281.3" r="9.4"/><circle cx="285.8" cy="2264.9" r="9.1"/><circle cx="356.6" cy="2286.7" r="10.9"/><circle cx="307.6" cy="2323.0" r="14.5"/><circle cx="363.9" cy="2254.0" r="6.4"/><circle cx="296.7" cy="2310.3" r="12.7"/><circle cx="338.4" cy="2346.6" r="10.9"/><circle cx="282.1" cy="2299.4" r="9.1"/><circle cx="354.8" cy="2339.4" r="7.3"/></g>
<g fill="#4e4e1c"><circle cx="370.1" cy="2432.3" r="18.3"/><circle cx="355.6" cy="2450.5" r="16.4"/><circle cx="328.4" cy="2450.5" r="17.3"/><circle cx="388.3" cy="2417.8" r="15.5"/><circle cx="292.1" cy="2423.2" r="17.3"/><circle cx="399.2" cy="2379.6" r="19.2"/><circle cx="411.9" cy="2366.9" r="9.2"/><circle cx="404.6" cy="2363.3" r="8.3"/><circle cx="384.7" cy="2396.0" r="14.6"/><circle cx="264.8" cy="2385.1" r="13.7"/><circle cx="261.2" cy="2401.4" r="11.9"/><circle cx="283.0" cy="2435.9" r="17.3"/><circle cx="301.1" cy="2454.1" r="19.2"/><circle cx="315.7" cy="2468.6" r="14.1"/><circle cx="337.5" cy="2474.1" r="14.1"/><circle cx="373.8" cy="2465.0" r="17.7"/><circle cx="401.0" cy="2454.1" r="12.3"/><circle cx="417.4" cy="2443.2" r="8.6"/><circle cx="273.9" cy="2417.8" r="13.7"/><circle cx="355.6" cy="2472.2" r="11.9"/><circle cx="330.2" cy="2481.3" r="8.3"/><circle cx="272.1" cy="2363.3" r="11.9"/></g>
<g fill="#fff"><circle cx="370.1" cy="2432.3" r="17.3"/><circle cx="355.6" cy="2450.5" r="15.4"/><circle cx="328.4" cy="2450.5" r="16.3"/><circle cx="388.3" cy="2417.8" r="14.5"/><circle cx="292.1" cy="2423.2" r="16.3"/><circle cx="399.2" cy="2379.6" r="18.2"/><circle cx="411.9" cy="2366.9" r="8.2"/><circle cx="404.6" cy="2363.3" r="7.3"/><circle cx="384.7" cy="2396.0" r="13.6"/><circle cx="264.8" cy="2385.1" r="12.7"/><circle cx="261.2" cy="2401.4" r="10.9"/><circle cx="283.0" cy="2435.9" r="16.3"/><circle cx="301.1" cy="2454.1" r="18.2"/><circle cx="315.7" cy="2468.6" r="13.1"/><circle cx="337.5" cy="2474.1" r="13.1"/><circle cx="373.8" cy="2465.0" r="16.7"/><circle cx="401.0" cy="2454.1" r="11.3"/><circle cx="417.4" cy="2443.2" r="7.6"/><circle cx="273.9" cy="2417.8" r="12.7"/><circle cx="355.6" cy="2472.2" r="10.9"/><circle cx="330.2" cy="2481.3" r="7.3"/><circle cx="272.1" cy="2363.3" r="10.9"/></g>
<g fill="url(#fy)" fill-opacity="1"><circle cx="370.1" cy="2432.3" r="17.3"/><circle cx="355.6" cy="2450.5" r="15.4"/><circle cx="328.4" cy="2450.5" r="16.3"/><circle cx="388.3" cy="2417.8" r="14.5"/><circle cx="292.1" cy="2423.2" r="16.3"/><circle cx="399.2" cy="2379.6" r="18.2"/><circle cx="411.9" cy="2366.9" r="8.2"/><circle cx="404.6" cy="2363.3" r="7.3"/><circle cx="384.7" cy="2396.0" r="13.6"/><circle cx="264.8" cy="2385.1" r="12.7"/><circle cx="261.2" cy="2401.4" r="10.9"/><circle cx="283.0" cy="2435.9" r="16.3"/><circle cx="301.1" cy="2454.1" r="18.2"/><circle cx="315.7" cy="2468.6" r="13.1"/><circle cx="337.5" cy="2474.1" r="13.1"/><circle cx="373.8" cy="2465.0" r="16.7"/><circle cx="401.0" cy="2454.1" r="11.3"/><circle cx="417.4" cy="2443.2" r="7.6"/><circle cx="273.9" cy="2417.8" r="12.7"/><circle cx="355.6" cy="2472.2" r="10.9"/><circle cx="330.2" cy="2481.3" r="7.3"/><circle cx="272.1" cy="2363.3" r="10.9"/></g>
<g fill="#4e4e1c"><circle cx="315.7" cy="2432.3" r="19.2"/><circle cx="330.2" cy="2417.8" r="19.2"/><circle cx="304.8" cy="2377.8" r="19.2"/><circle cx="286.6" cy="2385.1" r="21.0"/><circle cx="297.5" cy="2359.7" r="17.7"/><circle cx="283.0" cy="2365.1" r="10.1"/><circle cx="326.6" cy="2377.8" r="22.8"/><circle cx="321.1" cy="2357.8" r="9.2"/><circle cx="313.9" cy="2406.9" r="19.2"/><circle cx="297.5" cy="2414.1" r="11.9"/><circle cx="346.5" cy="2435.9" r="21.3"/><circle cx="341.1" cy="2417.8" r="13.7"/><circle cx="359.2" cy="2392.3" r="15.9"/><circle cx="370.1" cy="2410.5" r="12.3"/><circle cx="408.3" cy="2426.9" r="23.2"/><circle cx="417.4" cy="2414.1" r="11.9"/><circle cx="391.9" cy="2443.2" r="15.9"/><circle cx="384.7" cy="2426.9" r="11.9"/><circle cx="344.7" cy="2459.5" r="14.1"/><circle cx="283.0" cy="2406.9" r="12.3"/><circle cx="337.5" cy="2399.6" r="11.9"/><circle cx="355.6" cy="2377.8" r="11.9"/><circle cx="310.2" cy="2346.9" r="13.7"/><circle cx="288.4" cy="2345.1" r="13.7"/></g>
<g fill="#fff"><circle cx="315.7" cy="2432.3" r="18.2"/><circle cx="330.2" cy="2417.8" r="18.2"/><circle cx="304.8" cy="2377.8" r="18.2"/><circle cx="286.6" cy="2385.1" r="20.0"/><circle cx="297.5" cy="2359.7" r="16.7"/><circle cx="283.0" cy="2365.1" r="9.1"/><circle cx="326.6" cy="2377.8" r="21.8"/><circle cx="321.1" cy="2357.8" r="8.2"/><circle cx="313.9" cy="2406.9" r="18.2"/><circle cx="297.5" cy="2414.1" r="10.9"/><circle cx="346.5" cy="2435.9" r="20.3"/><circle cx="341.1" cy="2417.8" r="12.7"/><circle cx="359.2" cy="2392.3" r="14.9"/><circle cx="370.1" cy="2410.5" r="11.3"/><circle cx="408.3" cy="2426.9" r="22.2"/><circle cx="417.4" cy="2414.1" r="10.9"/><circle cx="391.9" cy="2443.2" r="14.9"/><circle cx="384.7" cy="2426.9" r="10.9"/><circle cx="344.7" cy="2459.5" r="13.1"/><circle cx="283.0" cy="2406.9" r="11.3"/><circle cx="337.5" cy="2399.6" r="10.9"/><circle cx="355.6" cy="2377.8" r="10.9"/><circle cx="310.2" cy="2346.9" r="12.7"/><circle cx="288.4" cy="2345.1" r="12.7"/></g>
<g fill="url(#fy)" fill-opacity="1"><circle cx="315.7" cy="2432.3" r="18.2"/><circle cx="330.2" cy="2417.8" r="18.2"/><circle cx="304.8" cy="2377.8" r="18.2"/><circle cx="286.6" cy="2385.1" r="20.0"/><circle cx="297.5" cy="2359.7" r="16.7"/><circle cx="283.0" cy="2365.1" r="9.1"/><circle cx="326.6" cy="2377.8" r="21.8"/><circle cx="321.1" cy="2357.8" r="8.2"/><circle cx="313.9" cy="2406.9" r="18.2"/><circle cx="297.5" cy="2414.1" r="10.9"/><circle cx="346.5" cy="2435.9" r="20.3"/><circle cx="341.1" cy="2417.8" r="12.7"/><circle cx="359.2" cy="2392.3" r="14.9"/><circle cx="370.1" cy="2410.5" r="11.3"/><circle cx="408.3" cy="2426.9" r="22.2"/><circle cx="417.4" cy="2414.1" r="10.9"/><circle cx="391.9" cy="2443.2" r="14.9"/><circle cx="384.7" cy="2426.9" r="10.9"/><circle cx="344.7" cy="2459.5" r="13.1"/><circle cx="283.0" cy="2406.9" r="11.3"/><circle cx="337.5" cy="2399.6" r="10.9"/><circle cx="355.6" cy="2377.8" r="10.9"/><circle cx="310.2" cy="2346.9" r="12.7"/><circle cx="288.4" cy="2345.1" r="12.7"/></g>
<g fill="#4e4e1c"><circle cx="329.3" cy="2163.2" r="19.2"/><circle cx="333.0" cy="2183.2" r="16.4"/><circle cx="314.8" cy="2175.9" r="19.2"/><circle cx="323.9" cy="2146.9" r="17.3"/><circle cx="323.9" cy="2112.7" r="20.1"/><circle cx="314.8" cy="2109.1" r="11.9"/><circle cx="327.5" cy="2102.7" r="7.9"/><circle cx="336.6" cy="2106.4" r="8.6"/><circle cx="320.3" cy="2100.9" r="8.3"/><circle cx="338.4" cy="2120.0" r="11.9"/><circle cx="323.9" cy="2130.5" r="22.8"/><circle cx="347.5" cy="2134.2" r="11.5"/><circle cx="340.2" cy="2141.4" r="13.7"/><circle cx="302.1" cy="2163.2" r="26.4"/><circle cx="289.4" cy="2154.1" r="15.5"/><circle cx="349.3" cy="2172.3" r="17.7"/><circle cx="353.0" cy="2157.8" r="11.9"/><circle cx="302.1" cy="2194.1" r="17.3"/><circle cx="338.4" cy="2194.1" r="16.4"/><circle cx="289.4" cy="2183.2" r="12.3"/><circle cx="333.0" cy="2212.2" r="14.6"/><circle cx="322.1" cy="2197.7" r="12.8"/><circle cx="282.1" cy="2194.1" r="11.9"/><circle cx="345.7" cy="2206.8" r="10.1"/><circle cx="313.0" cy="2148.7" r="17.3"/><circle cx="354.8" cy="2186.8" r="10.1"/><circle cx="325.7" cy="2221.3" r="8.3"/></g>
<g fill="#fff"><circle cx="329.3" cy="2163.2" r="18.2"/><circle cx="333.0" cy="2183.2" r="15.4"/><circle cx="314.8" cy="2175.9" r="18.2"/><circle cx="323.9" cy="2146.9" r="16.3"/><circle cx="323.9" cy="2112.7" r="19.1"/><circle cx="314.8" cy="2109.1" r="10.9"/><circle cx="327.5" cy="2102.7" r="6.9"/><circle cx="336.6" cy="2106.4" r="7.6"/><circle cx="320.3" cy="2100.9" r="7.3"/><circle cx="338.4" cy="2120.0" r="10.9"/><circle cx="323.9" cy="2130.5" r="21.8"/><circle cx="347.5" cy="2134.2" r="10.5"/><circle cx="340.2" cy="2141.4" r="12.7"/><circle cx="302.1" cy="2163.2" r="25.4"/><circle cx="289.4" cy="2154.1" r="14.5"/><circle cx="349.3" cy="2172.3" r="16.7"/><circle cx="353.0" cy="2157.8" r="10.9"/><circle cx="302.1" cy="2194.1" r="16.3"/><circle cx="338.4" cy="2194.1" r="15.4"/><circle cx="289.4" cy="2183.2" r="11.3"/><circle cx="333.0" cy="2212.2" r="13.6"/><circle cx="322.1" cy="2197.7" r="11.8"/><circle cx="282.1" cy="2194.1" r="10.9"/><circle cx="345.7" cy="2206.8" r="9.1"/><circle cx="313.0" cy="2148.7" r="16.3"/><circle cx="354.8" cy="2186.8" r="9.1"/><circle cx="325.7" cy="2221.3" r="7.3"/></g>
<g fill="url(#fy)" fill-opacity="1"><circle cx="329.3" cy="2163.2" r="18.2"/><circle cx="333.0" cy="2183.2" r="15.4"/><circle cx="314.8" cy="2175.9" r="18.2"/><circle cx="323.9" cy="2146.9" r="16.3"/><circle cx="323.9" cy="2112.7" r="19.1"/><circle cx="314.8" cy="2109.1" r="10.9"/><circle cx="327.5" cy="2102.7" r="6.9"/><circle cx="336.6" cy="2106.4" r="7.6"/><circle cx="320.3" cy="2100.9" r="7.3"/><circle cx="338.4" cy="2120.0" r="10.9"/><circle cx="323.9" cy="2130.5" r="21.8"/><circle cx="347.5" cy="2134.2" r="10.5"/><circle cx="340.2" cy="2141.4" r="12.7"/><circle cx="302.1" cy="2163.2" r="25.4"/><circle cx="289.4" cy="2154.1" r="14.5"/><circle cx="349.3" cy="2172.3" r="16.7"/><circle cx="353.0" cy="2157.8" r="10.9"/><circle cx="302.1" cy="2194.1" r="16.3"/><circle cx="338.4" cy="2194.1" r="15.4"/><circle cx="289.4" cy="2183.2" r="11.3"/><circle cx="333.0" cy="2212.2" r="13.6"/><circle cx="322.1" cy="2197.7" r="11.8"/><circle cx="282.1" cy="2194.1" r="10.9"/><circle cx="345.7" cy="2206.8" r="9.1"/><circle cx="313.0" cy="2148.7" r="16.3"/><circle cx="354.8" cy="2186.8" r="9.1"/><circle cx="325.7" cy="2221.3" r="7.3"/></g>
<g fill="#6e3a3a"><circle cx="211.9" cy="2495.9" r="24.6"/><circle cx="230.1" cy="2523.1" r="24.6"/><circle cx="206.5" cy="2541.3" r="21.3"/><circle cx="190.1" cy="2514.0" r="15.9"/><circle cx="186.5" cy="2492.2" r="10.4"/><circle cx="248.3" cy="2537.6" r="12.3"/><circle cx="221.0" cy="2550.3" r="12.3"/><circle cx="244.6" cy="2504.9" r="13.7"/><circle cx="193.8" cy="2530.4" r="11.9"/><circle cx="230.1" cy="2483.1" r="10.1"/><circle cx="248.3" cy="2515.8" r="11.9"/></g>
<g fill="#fff"><circle cx="211.9" cy="2495.9" r="23.6"/><circle cx="230.1" cy="2523.1" r="23.6"/><circle cx="206.5" cy="2541.3" r="20.3"/><circle cx="190.1" cy="2514.0" r="14.9"/><circle cx="186.5" cy="2492.2" r="9.4"/><circle cx="248.3" cy="2537.6" r="11.3"/><circle cx="221.0" cy="2550.3" r="11.3"/><circle cx="244.6" cy="2504.9" r="12.7"/><circle cx="193.8" cy="2530.4" r="10.9"/><circle cx="230.1" cy="2483.1" r="9.1"/><circle cx="248.3" cy="2515.8" r="10.9"/></g>
<g fill="url(#fr)" fill-opacity="1"><circle cx="211.9" cy="2495.9" r="23.6"/><circle cx="230.1" cy="2523.1" r="23.6"/><circle cx="206.5" cy="2541.3" r="20.3"/><circle cx="190.1" cy="2514.0" r="14.9"/><circle cx="186.5" cy="2492.2" r="9.4"/><circle cx="248.3" cy="2537.6" r="11.3"/><circle cx="221.0" cy="2550.3" r="11.3"/><circle cx="244.6" cy="2504.9" r="12.7"/><circle cx="193.8" cy="2530.4" r="10.9"/><circle cx="230.1" cy="2483.1" r="9.1"/><circle cx="248.3" cy="2515.8" r="10.9"/></g>
<g fill="url(#fr)" fill-opacity="0.85" stroke="#6e3a3a" stroke-width="1.0"><circle cx="192.0" cy="2601.2" r="15.4"/><circle cx="190.1" cy="2564.9" r="9.1"/><circle cx="163.8" cy="2520.4" r="14.5"/><circle cx="173.8" cy="2550.3" r="15.4"/><circle cx="160.2" cy="2580.3" r="15.4"/><circle cx="187.4" cy="2584.8" r="16.3"/></g>
<g fill="#23235e"><circle cx="310.2" cy="2504.9" r="11.9"/><circle cx="313.9" cy="2534.0" r="13.7"/><circle cx="330.2" cy="2514.0" r="12.3"/><circle cx="304.8" cy="2519.5" r="13.7"/><circle cx="279.3" cy="2499.5" r="28.2"/><circle cx="284.8" cy="2528.5" r="28.2"/><circle cx="286.6" cy="2561.2" r="21.9"/><circle cx="281.2" cy="2575.8" r="11.2"/><circle cx="315.7" cy="2504.9" r="10.4"/><circle cx="328.4" cy="2501.3" r="8.6"/><circle cx="344.7" cy="2521.3" r="21.9"/><circle cx="324.7" cy="2543.1" r="9.4"/><circle cx="362.9" cy="2523.1" r="8.6"/><circle cx="264.8" cy="2534.0" r="10.4"/><circle cx="259.4" cy="2492.2" r="9.4"/><circle cx="352.0" cy="2504.9" r="11.9"/><circle cx="270.3" cy="2546.7" r="13.7"/><circle cx="301.1" cy="2544.9" r="13.7"/><circle cx="337.5" cy="2537.6" r="10.1"/><circle cx="292.1" cy="2573.9" r="9.2"/><circle cx="273.9" cy="2568.5" r="10.1"/><circle cx="353.8" cy="2534.0" r="10.1"/></g>
<g fill="#fff"><circle cx="310.2" cy="2504.9" r="10.9"/><circle cx="313.9" cy="2534.0" r="12.7"/><circle cx="330.2" cy="2514.0" r="11.3"/><circle cx="304.8" cy="2519.5" r="12.7"/><circle cx="279.3" cy="2499.5" r="27.2"/><circle cx="284.8" cy="2528.5" r="27.2"/><circle cx="286.6" cy="2561.2" r="20.9"/><circle cx="281.2" cy="2575.8" r="10.2"/><circle cx="315.7" cy="2504.9" r="9.4"/><circle cx="328.4" cy="2501.3" r="7.6"/><circle cx="344.7" cy="2521.3" r="20.9"/><circle cx="324.7" cy="2543.1" r="8.4"/><circle cx="362.9" cy="2523.1" r="7.6"/><circle cx="264.8" cy="2534.0" r="9.4"/><circle cx="259.4" cy="2492.2" r="8.4"/><circle cx="352.0" cy="2504.9" r="10.9"/><circle cx="270.3" cy="2546.7" r="12.7"/><circle cx="301.1" cy="2544.9" r="12.7"/><circle cx="337.5" cy="2537.6" r="9.1"/><circle cx="292.1" cy="2573.9" r="8.2"/><circle cx="273.9" cy="2568.5" r="9.1"/><circle cx="353.8" cy="2534.0" r="9.1"/></g>
<g fill="url(#fb)" fill-opacity="1"><circle cx="310.2" cy="2504.9" r="10.9"/><circle cx="313.9" cy="2534.0" r="12.7"/><circle cx="330.2" cy="2514.0" r="11.3"/><circle cx="304.8" cy="2519.5" r="12.7"/><circle cx="279.3" cy="2499.5" r="27.2"/><circle cx="284.8" cy="2528.5" r="27.2"/><circle cx="286.6" cy="2561.2" r="20.9"/><circle cx="281.2" cy="2575.8" r="10.2"/><circle cx="315.7" cy="2504.9" r="9.4"/><circle cx="328.4" cy="2501.3" r="7.6"/><circle cx="344.7" cy="2521.3" r="20.9"/><circle cx="324.7" cy="2543.1" r="8.4"/><circle cx="362.9" cy="2523.1" r="7.6"/><circle cx="264.8" cy="2534.0" r="9.4"/><circle cx="259.4" cy="2492.2" r="8.4"/><circle cx="352.0" cy="2504.9" r="10.9"/><circle cx="270.3" cy="2546.7" r="12.7"/><circle cx="301.1" cy="2544.9" r="12.7"/><circle cx="337.5" cy="2537.6" r="9.1"/><circle cx="292.1" cy="2573.9" r="8.2"/><circle cx="273.9" cy="2568.5" r="9.1"/><circle cx="353.8" cy="2534.0" r="9.1"/></g>
<g fill="url(#fb)" fill-opacity="0.85" stroke="#23235e" stroke-width="1.0"><circle cx="242.8" cy="2354.2" r="15.4"/><circle cx="237.4" cy="2379.6" r="15.4"/><circle cx="235.5" cy="2410.5" r="15.4"/><circle cx="259.2" cy="2436.8" r="16.0"/><circle cx="245.5" cy="2467.7" r="15.4"/><circle cx="247.3" cy="2313.9" r="13.1"/></g>
<g fill="url(#fb)" fill-opacity="0.85" stroke="#23235e" stroke-width="1.0"><circle cx="336.6" cy="2264.9" r="24.5"/><circle cx="383.8" cy="2304.0" r="24.5"/><circle cx="435.6" cy="2313.0" r="25.4"/><circle cx="460.1" cy="2352.1" r="26.3"/><circle cx="521.8" cy="2340.3" r="27.2"/></g>
<g fill="url(#fy)" fill-opacity="0.85" stroke="#4e4e1c" stroke-width="1.0"><circle cx="265.5" cy="2118.7" r="15.4"/><circle cx="265.5" cy="2143.2" r="16.0"/><circle cx="233.7" cy="2155.0" r="16.0"/><circle cx="257.0" cy="2172.3" r="13.1"/><circle cx="253.7" cy="2199.2" r="17.8"/><circle cx="276.4" cy="2248.6" r="15.4"/><circle cx="272.8" cy="2232.2" r="17.3"/><circle cx="278.2" cy="2225.9" r="17.8"/><circle cx="252.8" cy="2270.4" r="15.4"/><circle cx="250.1" cy="2262.2" r="17.3"/><circle cx="273.7" cy="2307.6" r="16.0"/><circle cx="263.7" cy="2336.6" r="10.0"/></g>
<path d="M255.8 2319.7L304.9 2307.4" fill="none" stroke="#50554c" stroke-opacity="0.88" stroke-width="2.9" stroke-dasharray="3.6 1.9" stroke-linejoin="round"/>
<path d="M352.3 2313.9L347.4 2366.2" fill="none" stroke="#50554c" stroke-opacity="0.88" stroke-width="2.9" stroke-dasharray="3.6 1.9" stroke-linejoin="round"/>
<path d="M224.8 2362.1L285.3 2338.5L375.2 2413.6" fill="none" stroke="#50554c" stroke-opacity="0.88" stroke-width="2.9" stroke-dasharray="3.6 1.9" stroke-linejoin="round"/>
<path d="M285.3 2338.5L264.0 2403.8" fill="none" stroke="#50554c" stroke-opacity="0.88" stroke-width="2.9" stroke-dasharray="3.6 1.9" stroke-linejoin="round"/>
<path d="M224.8 2362.1L264.0 2403.8" fill="none" stroke="#50554c" stroke-opacity="0.88" stroke-width="2.9" stroke-dasharray="3.6 1.9" stroke-linejoin="round"/>
<path d="M228.1 2372.8L268.9 2408.7" fill="none" stroke="#50554c" stroke-opacity="0.88" stroke-width="2.9" stroke-dasharray="3.6 1.9" stroke-linejoin="round"/>
<path d="M265.7 2403.8L375.2 2413.1" fill="none" stroke="#50554c" stroke-opacity="0.88" stroke-width="2.9" stroke-dasharray="3.6 1.9" stroke-linejoin="round"/>
<path d="M273.8 2407.9L311.4 2415.6" fill="none" stroke="#50554c" stroke-opacity="0.88" stroke-width="2.9" stroke-dasharray="3.6 1.9" stroke-linejoin="round"/>
<path d="M268.9 2415.3L322.9 2464.3" fill="none" stroke="#50554c" stroke-opacity="0.88" stroke-width="2.9" stroke-dasharray="3.6 1.9" stroke-linejoin="round"/>
<path d="M375.2 2413.6L331.0 2470.8" fill="none" stroke="#50554c" stroke-opacity="0.88" stroke-width="2.9" stroke-dasharray="3.6 1.9" stroke-linejoin="round"/>
<path d="M349.0 2463.5L293.4 2469.5L252.6 2484.2" fill="none" stroke="#50554c" stroke-opacity="0.88" stroke-width="2.9" stroke-dasharray="3.6 1.9" stroke-linejoin="round"/>
<path d="M331.0 2470.8L295.1 2484.2L252.6 2485.5L286.9 2489.1" fill="none" stroke="#50554c" stroke-opacity="0.88" stroke-width="2.9" stroke-dasharray="3.6 1.9" stroke-linejoin="round"/>
<path d="M187.2 2439.8L228.1 2431.6L236.2 2436.5L282.0 2477.4L252.6 2484.2" fill="none" stroke="#50554c" stroke-opacity="0.88" stroke-width="2.9" stroke-dasharray="3.6 1.9" stroke-linejoin="round"/>
<path d="M187.2 2439.8L231.3 2472.5" fill="none" stroke="#50554c" stroke-opacity="0.88" stroke-width="2.9" stroke-dasharray="3.6 1.9" stroke-linejoin="round"/>
<path d="M170.9 2302.5L182.3 2310.7L174.1 2327.0L162.7 2331.1L151.2 2322.9" fill="none" stroke="#6b5b57" stroke-opacity="0.95" stroke-width="2.8" stroke-linejoin="round"/>
<path d="M154.5 2323.4L179.0 2313.1" fill="none" stroke="#6b5b57" stroke-opacity="0.88" stroke-width="2.2" stroke-dasharray="3.6 1.9" stroke-linejoin="round"/>
</g>
<!-- 07_g -->
<g id="panel-g">
<text class="b" x="636" y="1449">g</text>
<defs><linearGradient id="gg0" x1="0" x2="0" y1="0" y2="1"><stop offset="0" stop-color="#c42020"/><stop offset="0.3" stop-color="#ff5252"/><stop offset="0.62" stop-color="#f03030"/><stop offset="1" stop-color="#c42020"/></linearGradient><linearGradient id="gg1" x1="0" x2="0" y1="0" y2="1"><stop offset="0" stop-color="#b84848"/><stop offset="0.3" stop-color="#f08080"/><stop offset="0.62" stop-color="#e06464"/><stop offset="1" stop-color="#b84848"/></linearGradient><linearGradient id="gg2" x1="0" x2="0" y1="0" y2="1"><stop offset="0" stop-color="#ac2424"/><stop offset="0.3" stop-color="#ee5050"/><stop offset="0.62" stop-color="#d83838"/><stop offset="1" stop-color="#ac2424"/></linearGradient><linearGradient id="gg3" x1="0" x2="0" y1="0" y2="1"><stop offset="0" stop-color="#ba2c2c"/><stop offset="0.3" stop-color="#f66060"/><stop offset="0.62" stop-color="#e84444"/><stop offset="1" stop-color="#ba2c2c"/></linearGradient><linearGradient id="gg4" x1="0" x2="0" y1="0" y2="1"><stop offset="0" stop-color="#b42828"/><stop offset="0.3" stop-color="#f05858"/><stop offset="0.62" stop-color="#e03c3c"/><stop offset="1" stop-color="#b42828"/></linearGradient><linearGradient id="gg5" x1="0" x2="0" y1="0" y2="1"><stop offset="0" stop-color="#ba2626"/><stop offset="0.3" stop-color="#f65858"/><stop offset="0.62" stop-color="#e83a3a"/><stop offset="1" stop-color="#ba2626"/></linearGradient><linearGradient id="gg6" x1="0" x2="0" y1="0" y2="1"><stop offset="0" stop-color="#be2a2a"/><stop offset="0.3" stop-color="#fa6060"/><stop offset="0.62" stop-color="#ec4242"/><stop offset="1" stop-color="#be2a2a"/></linearGradient><linearGradient id="gg7" x1="0" x2="0" y1="0" y2="1"><stop offset="0" stop-color="#b02020"/><stop offset="0.3" stop-color="#f04c4c"/><stop offset="0.62" stop-color="#de2e2e"/><stop offset="1" stop-color="#b02020"/></linearGradient><linearGradient id="gg8" x1="0" x2="0" y1="0" y2="1"><stop offset="0" stop-color="#d48484"/><stop offset="0.3" stop-color="#f8b8b8"/><stop offset="0.62" stop-color="#f0a0a0"/><stop offset="1" stop-color="#d48484"/></linearGradient><linearGradient id="gg9" x1="0" x2="0" y1="0" y2="1"><stop offset="0" stop-color="#d6c236"/><stop offset="0.3" stop-color="#fff27a"/><stop offset="0.62" stop-color="#fae650"/><stop offset="1" stop-color="#d6c236"/></linearGradient><linearGradient id="gg10" x1="0" x2="0" y1="0" y2="1"><stop offset="0" stop-color="#b0a448"/><stop offset="0.3" stop-color="#e8dc84"/><stop offset="0.62" stop-color="#d6c966"/><stop offset="1" stop-color="#b0a448"/></linearGradient><linearGradient id="gg11" x1="0" x2="0" y1="0" y2="1"><stop offset="0" stop-color="#bcae40"/><stop offset="0.3" stop-color="#f2e67c"/><stop offset="0.62" stop-color="#e4d65c"/><stop offset="1" stop-color="#bcae40"/></linearGradient><linearGradient id="gg12" x1="0" x2="0" y1="0" y2="1"><stop offset="0" stop-color="#beb042"/><stop offset="0.3" stop-color="#f4e87e"/><stop offset="0.62" stop-color="#e6d85e"/><stop offset="1" stop-color="#beb042"/></linearGradient><linearGradient id="gg13" x1="0" x2="0" y1="0" y2="1"><stop offset="0" stop-color="#bfb242"/><stop offset="0.3" stop-color="#f5ea7e"/><stop offset="0.62" stop-color="#e7da5e"/><stop offset="1" stop-color="#bfb242"/></linearGradient><linearGradient id="gg14" x1="0" x2="0" y1="0" y2="1"><stop offset="0" stop-color="#c4b63c"/><stop offset="0.3" stop-color="#f9ee78"/><stop offset="0.62" stop-color="#eddd56"/><stop offset="1" stop-color="#c4b63c"/></linearGradient><linearGradient id="gg15" x1="0" x2="0" y1="0" y2="1"><stop offset="0" stop-color="#5f92c8"/><stop offset="0.3" stop-color="#a4cef8"/><stop offset="0.62" stop-color="#82b5ea"/><stop offset="1" stop-color="#5f92c8"/></linearGradient><linearGradient id="gg16" x1="0" x2="0" y1="0" y2="1"><stop offset="0" stop-color="#4a80b6"/><stop offset="0.3" stop-color="#8cbcea"/><stop offset="0.62" stop-color="#6aa1d8"/><stop offset="1" stop-color="#4a80b6"/></linearGradient></defs>
<g fill="none" stroke-linecap="round" stroke-linejoin="round"><path d="M856.9 1586.5C859 1584.3 865.9 1576.5 869.1 1573C872.2 1569.4 874.7 1566.5 875.8 1565.2" stroke="#6f6a20" stroke-width="3.2"/><path d="M856.9 1586.5C859 1584.3 865.9 1576.5 869.1 1573C872.2 1569.4 874.7 1566.5 875.8 1565.2" stroke="#fbe956" stroke-width="1.2"/></g>
<g fill="none" stroke-linecap="round" stroke-linejoin="round"><path d="M887.5 1540C888.1 1539.2 889.6 1536.2 891.3 1535.2C893.1 1534.2 897 1534.4 898.1 1534.2" stroke="#6f6a20" stroke-width="3.5"/><path d="M887.5 1540C888.1 1539.2 889.6 1536.2 891.3 1535.2C893.1 1534.2 897 1534.4 898.1 1534.2" stroke="#fbe956" stroke-width="1.5"/></g>
<g fill="none" stroke-linecap="round" stroke-linejoin="round"><path d="M913.6 1512C913.3 1509.9 911 1502.4 911.7 1499.4C912.3 1496.3 915.2 1494.4 917.5 1493.6C919.7 1492.8 923.6 1493.2 925.2 1494.5C926.8 1495.8 927.3 1499.5 927.2 1501.3C927 1503.1 924.3 1503.9 924.3 1505.2C924.3 1506.5 926.7 1508.4 927.2 1509.1" stroke="#6f6a20" stroke-width="3.7"/><path d="M913.6 1512C913.3 1509.9 911 1502.4 911.7 1499.4C912.3 1496.3 915.2 1494.4 917.5 1493.6C919.7 1492.8 923.6 1493.2 925.2 1494.5C926.8 1495.8 927.3 1499.5 927.2 1501.3C927 1503.1 924.3 1503.9 924.3 1505.2C924.3 1506.5 926.7 1508.4 927.2 1509.1" stroke="#fbe956" stroke-width="1.7"/></g>
<g fill="none" stroke-linecap="round" stroke-linejoin="round"><path d="M929.1 1524.6C930.4 1524.4 934.8 1522.5 936.9 1523.6C939 1524.7 941.7 1529.6 941.7 1531.3C941.7 1533.1 939.3 1532.9 936.9 1534.2C934.4 1535.5 928.8 1538.3 927.2 1539.1" stroke="#6f6a20" stroke-width="3.7"/><path d="M929.1 1524.6C930.4 1524.4 934.8 1522.5 936.9 1523.6C939 1524.7 941.7 1529.6 941.7 1531.3C941.7 1533.1 939.3 1532.9 936.9 1534.2C934.4 1535.5 928.8 1538.3 927.2 1539.1" stroke="#fbe956" stroke-width="1.7"/></g>
<g fill="none" stroke-linecap="round" stroke-linejoin="round"><path d="M920.4 1553.6C921 1554.6 922.8 1557.8 924.3 1559.4C925.7 1561 927 1563 929.1 1563.3C931.2 1563.6 933.9 1561.2 936.9 1561.4C939.8 1561.5 944.1 1563.5 946.5 1564.3C949 1565.1 951.7 1565.7 951.4 1566.2C951.1 1566.7 946.9 1566 944.6 1567.2C942.3 1568.3 939.1 1570.1 937.8 1573C936.5 1575.9 937.7 1581.9 936.9 1584.6C936 1587.3 933.6 1588.6 933 1589.4" stroke="#6f6a20" stroke-width="3.5"/><path d="M920.4 1553.6C921 1554.6 922.8 1557.8 924.3 1559.4C925.7 1561 927 1563 929.1 1563.3C931.2 1563.6 933.9 1561.2 936.9 1561.4C939.8 1561.5 944.1 1563.5 946.5 1564.3C949 1565.1 951.7 1565.7 951.4 1566.2C951.1 1566.7 946.9 1566 944.6 1567.2C942.3 1568.3 939.1 1570.1 937.8 1573C936.5 1575.9 937.7 1581.9 936.9 1584.6C936 1587.3 933.6 1588.6 933 1589.4" stroke="#fbe956" stroke-width="1.5"/></g>
<g fill="none" stroke-linecap="round" stroke-linejoin="round"><path d="M878.7 1586.5C880 1587.8 883.9 1592 886.5 1594.3C889.1 1596.5 892.3 1598.6 894.2 1600.1C896.2 1601.5 897.1 1604 898.1 1603C899.1 1602 898.4 1597 900 1594.3C901.7 1591.5 906.5 1587.8 907.8 1586.5" stroke="#6f6a20" stroke-width="3.7"/><path d="M878.7 1586.5C880 1587.8 883.9 1592 886.5 1594.3C889.1 1596.5 892.3 1598.6 894.2 1600.1C896.2 1601.5 897.1 1604 898.1 1603C899.1 1602 898.4 1597 900 1594.3C901.7 1591.5 906.5 1587.8 907.8 1586.5" stroke="#fbe956" stroke-width="1.7"/></g>
<g fill="none" stroke-linecap="round" stroke-linejoin="round"><path d="M907.8 1585.6C909.4 1585.1 914.6 1583.1 917.5 1582.7C920.4 1582.2 922.6 1581.5 925.2 1582.7C927.8 1583.8 931.2 1587.2 933 1589.4C934.8 1591.7 935.9 1593.5 935.9 1596.2C935.9 1599 934.4 1603.6 933 1605.9C931.5 1608.2 929.1 1609.8 927.2 1609.8C925.2 1609.8 922.6 1607.7 921.4 1605.9C920.1 1604.1 919.1 1600.9 919.4 1599.1C919.7 1597.4 921.4 1596.1 923.3 1595.3C925.2 1594.4 929.7 1594.4 931 1594.3" stroke="#6f6a20" stroke-width="4.1"/><path d="M907.8 1585.6C909.4 1585.1 914.6 1583.1 917.5 1582.7C920.4 1582.2 922.6 1581.5 925.2 1582.7C927.8 1583.8 931.2 1587.2 933 1589.4C934.8 1591.7 935.9 1593.5 935.9 1596.2C935.9 1599 934.4 1603.6 933 1605.9C931.5 1608.2 929.1 1609.8 927.2 1609.8C925.2 1609.8 922.6 1607.7 921.4 1605.9C920.1 1604.1 919.1 1600.9 919.4 1599.1C919.7 1597.4 921.4 1596.1 923.3 1595.3C925.2 1594.4 929.7 1594.4 931 1594.3" stroke="#fbe956" stroke-width="2.1"/></g>
<g stroke-linejoin="round"><path d="M903 1514.9C903.8 1514.6 906 1513.9 907.8 1513.4C909.6 1512.9 912.6 1512.2 913.6 1512" fill="none" stroke="#6f6a20" stroke-width="8.7"/><path d="M903 1514.9C903.8 1514.6 906 1513.9 907.8 1513.4C909.6 1512.9 912.6 1512.2 913.6 1512" fill="none" stroke="#fbe956" stroke-width="6.6"/></g>
<g stroke-linejoin="round"><path d="M916.5 1549.7C916.2 1552.6 916 1561.4 914.6 1567.2C913.1 1573 908.9 1581.7 907.8 1584.6" fill="none" stroke="#6f6a20" stroke-width="8.7"/><path d="M916.5 1549.7C916.2 1552.6 916 1561.4 914.6 1567.2C913.1 1573 908.9 1581.7 907.8 1584.6" fill="none" stroke="#fbe956" stroke-width="6.6"/></g>
<g stroke-linejoin="round"><path d="M905.9 1540C904.9 1543 901.5 1552 900 1557.5C898.6 1563 897.6 1570.4 897.1 1573" fill="none" stroke="#6f6a20" stroke-width="8.7"/><path d="M905.9 1540C904.9 1543 901.5 1552 900 1557.5C898.6 1563 897.6 1570.4 897.1 1573" fill="none" stroke="#f0dc48" stroke-width="6.6"/></g>
<g stroke-linejoin="round"><path d="M878.7 1576.9C879.5 1573.6 881 1563.6 883.6 1557.5C886.2 1551.3 889.9 1544.9 894.2 1540C898.6 1535.2 904.9 1532 909.7 1528.4C914.6 1524.9 920.1 1522 923.3 1518.7C926.5 1515.5 928.5 1512.3 929.1 1509.1C929.7 1505.8 927.5 1501 927.2 1499.4" fill="none" stroke="#6f6a20" stroke-width="8.7"/><path d="M878.7 1576.9C879.5 1573.6 881 1563.6 883.6 1557.5C886.2 1551.3 889.9 1544.9 894.2 1540C898.6 1535.2 904.9 1532 909.7 1528.4C914.6 1524.9 920.1 1522 923.3 1518.7C926.5 1515.5 928.5 1512.3 929.1 1509.1C929.7 1505.8 927.5 1501 927.2 1499.4" fill="none" stroke="#fbe956" stroke-width="6.6"/></g>
<g stroke-linejoin="round"><path d="M886.5 1557.5C889.2 1555.9 897.8 1550.2 903 1547.8C908.1 1545.4 914.3 1543.9 917.5 1543C920.7 1542 921.5 1542.1 922.3 1542" fill="none" stroke="#6f6a20" stroke-width="8.7"/><path d="M929.4 1540.6L923.6 1548.1L921.1 1535.9Z" fill="#fbe956" stroke="#6f6a20" stroke-width="1.05"/><path d="M886.5 1557.5C889.2 1555.9 897.8 1550.2 903 1547.8C908.1 1545.4 914.3 1543.9 917.5 1543C920.7 1542 921.5 1542.1 922.3 1542" fill="none" stroke="#fbe956" stroke-width="6.6"/></g>
<g transform="translate(882.6 1579.8) rotate(26.6)"><rect x="-3.1" y="-5.8" width="12.8" height="11.6" rx="3.5" ry="2.6" fill="url(#gg9)" stroke="#6f6a20" stroke-width="1.1"/></g>
<path d="M856.2 1501.7L903.9 1536.9" stroke="#111" stroke-width="1.2" fill="none"/>
<rect transform="translate(878.5 1597.4) rotate(85.2)" x="0" y="-0.7" width="14.6" height="1.5" fill="#fff" stroke="#8a8a80" stroke-width="0.8"/>
<rect transform="translate(876.6 1625.2) rotate(87.1)" x="0" y="-0.7" width="14.5" height="1.5" fill="#fff" stroke="#8a8a80" stroke-width="0.8"/>
<text transform="translate(822.5 1492) scale(0.955 1)" font-size="36.05" text-anchor="start" style="fill:#a49c4c">CBM</text>
<text transform="translate(962 1639) scale(0.955 1)" font-size="36.05" text-anchor="start" style="fill:#5a82ae">CBM</text>
<g fill="none" stroke-linecap="round" stroke-linejoin="round"><path d="M881.6 1655C882.9 1654.9 886.9 1653.5 889.4 1654.5C891.8 1655.6 894.1 1659.7 896.2 1661.3C898.2 1662.9 901 1663.7 902 1664.2" stroke="#36557e" stroke-width="3.5"/><path d="M881.6 1655C882.9 1654.9 886.9 1653.5 889.4 1654.5C891.8 1655.6 894.1 1659.7 896.2 1661.3C898.2 1662.9 901 1663.7 902 1664.2" stroke="#86b9ee" stroke-width="1.5"/></g>
<g fill="none" stroke-linecap="round" stroke-linejoin="round"><path d="M903.9 1657.4L910.7 1655.5" stroke="#36557e" stroke-width="3.5"/><path d="M903.9 1657.4L910.7 1655.5" stroke="#86b9ee" stroke-width="1.5"/></g>
<g fill="none" stroke-linecap="round" stroke-linejoin="round"><path d="M902.9 1659.4C903.3 1661.5 905 1668.1 904.9 1672C904.7 1675.8 902.4 1680.8 902 1682.6" stroke="#36557e" stroke-width="3.5"/><path d="M902.9 1659.4C903.3 1661.5 905 1668.1 904.9 1672C904.7 1675.8 902.4 1680.8 902 1682.6" stroke="#86b9ee" stroke-width="1.5"/></g>
<g fill="none" stroke-linecap="round" stroke-linejoin="round"><path d="M937.8 1661.3C939.4 1661.5 944.3 1663.1 947.5 1662.3C950.7 1661.5 954.6 1656.9 957.2 1656.5C959.7 1656 962 1657.6 963 1659.4C963.9 1661.1 964.4 1665.5 963 1667.1C961.5 1668.7 956.5 1667.8 954.3 1669.1C952 1670.3 950.7 1672.9 949.4 1674.9C948.1 1676.8 947 1679.7 946.5 1680.7" stroke="#36557e" stroke-width="3.5"/><path d="M937.8 1661.3C939.4 1661.5 944.3 1663.1 947.5 1662.3C950.7 1661.5 954.6 1656.9 957.2 1656.5C959.7 1656 962 1657.6 963 1659.4C963.9 1661.1 964.4 1665.5 963 1667.1C961.5 1668.7 956.5 1667.8 954.3 1669.1C952 1670.3 950.7 1672.9 949.4 1674.9C948.1 1676.8 947 1679.7 946.5 1680.7" stroke="#86b9ee" stroke-width="1.5"/></g>
<g fill="none" stroke-linecap="round" stroke-linejoin="round"><path d="M943.6 1686.5C944.3 1687.8 946.7 1691.5 947.5 1694.2C948.3 1697 949.4 1700.7 948.5 1703C947.5 1705.2 943.8 1706.2 941.7 1707.8C939.6 1709.4 936.8 1711.8 935.9 1712.6" stroke="#36557e" stroke-width="3.5"/><path d="M943.6 1686.5C944.3 1687.8 946.7 1691.5 947.5 1694.2C948.3 1697 949.4 1700.7 948.5 1703C947.5 1705.2 943.8 1706.2 941.7 1707.8C939.6 1709.4 936.8 1711.8 935.9 1712.6" stroke="#86b9ee" stroke-width="1.5"/></g>
<g fill="none" stroke-linecap="round" stroke-linejoin="round"><path d="M941.7 1713.6C941.7 1715.2 942.3 1720.7 941.7 1723.3C941 1725.9 939.6 1727.8 937.8 1729.1C936 1730.4 932.6 1731.7 931 1731C929.4 1730.4 928.3 1727.2 928.1 1725.2C927.9 1723.3 929.7 1720.4 930 1719.4" stroke="#36557e" stroke-width="3.5"/><path d="M941.7 1713.6C941.7 1715.2 942.3 1720.7 941.7 1723.3C941 1725.9 939.6 1727.8 937.8 1729.1C936 1730.4 932.6 1731.7 931 1731C929.4 1730.4 928.3 1727.2 928.1 1725.2C927.9 1723.3 929.7 1720.4 930 1719.4" stroke="#86b9ee" stroke-width="1.5"/></g>
<g fill="none" stroke-linecap="round" stroke-linejoin="round"><path d="M903.9 1683.6C905 1684.9 907.3 1689.9 910.7 1691.3C914.1 1692.8 922 1692.1 924.2 1692.3" stroke="#36557e" stroke-width="3.5"/><path d="M903.9 1683.6C905 1684.9 907.3 1689.9 910.7 1691.3C914.1 1692.8 922 1692.1 924.2 1692.3" stroke="#86b9ee" stroke-width="1.5"/></g>
<g fill="none" stroke-linecap="round" stroke-linejoin="round"><path d="M899.1 1711.7C899.5 1712.6 901.5 1715.4 902 1717.5C902.4 1719.6 902.4 1722 902 1724.3C901.5 1726.5 899.5 1729.9 899.1 1731" stroke="#36557e" stroke-width="3.5"/><path d="M899.1 1711.7C899.5 1712.6 901.5 1715.4 902 1717.5C902.4 1719.6 902.4 1722 902 1724.3C901.5 1726.5 899.5 1729.9 899.1 1731" stroke="#86b9ee" stroke-width="1.5"/></g>
<g fill="none" stroke-linecap="round" stroke-linejoin="round"><path d="M902.9 1724.3C903.9 1723.9 907 1721.8 908.7 1722.3C910.5 1722.8 912 1726 913.6 1727.2C915.2 1728.3 917.9 1727.5 918.4 1729.1C918.9 1730.7 917.1 1734.9 916.5 1736.9C915.8 1738.8 915.4 1741 914.6 1740.7C913.7 1740.4 912.1 1735.9 911.6 1734.9" stroke="#36557e" stroke-width="3.5"/><path d="M902.9 1724.3C903.9 1723.9 907 1721.8 908.7 1722.3C910.5 1722.8 912 1726 913.6 1727.2C915.2 1728.3 917.9 1727.5 918.4 1729.1C918.9 1730.7 917.1 1734.9 916.5 1736.9C915.8 1738.8 915.4 1741 914.6 1740.7C913.7 1740.4 912.1 1735.9 911.6 1734.9" stroke="#86b9ee" stroke-width="1.5"/></g>
<g stroke-linejoin="round"><path d="M887.4 1680.7C886.9 1681.5 884.4 1683.3 884.5 1685.5C884.7 1687.8 886.9 1691.8 888.4 1694.2C889.9 1696.7 892.4 1699.1 893.2 1700" fill="none" stroke="#36557e" stroke-width="8.1"/><path d="M887.4 1680.7C886.9 1681.5 884.4 1683.3 884.5 1685.5C884.7 1687.8 886.9 1691.8 888.4 1694.2C889.9 1696.7 892.4 1699.1 893.2 1700" fill="none" stroke="#7aa6d6" stroke-width="6"/></g>
<g stroke-linejoin="round"><path d="M932 1702C933 1703.3 936.2 1707.8 937.8 1709.7C939.4 1711.7 941 1713 941.7 1713.6" fill="none" stroke="#36557e" stroke-width="7.6"/><path d="M932 1702C933 1703.3 936.2 1707.8 937.8 1709.7C939.4 1711.7 941 1713 941.7 1713.6" fill="none" stroke="#7aa6d6" stroke-width="5.5"/></g>
<g stroke-linejoin="round"><path d="M902.9 1684.6C902.3 1687.1 900.7 1694.9 899.1 1700C897.4 1705.2 894.9 1711.8 893.2 1715.5C891.6 1719.3 890 1721.2 889.4 1722.3" fill="none" stroke="#36557e" stroke-width="8.4"/><path d="M902.9 1684.6C902.3 1687.1 900.7 1694.9 899.1 1700C897.4 1705.2 894.9 1711.8 893.2 1715.5C891.6 1719.3 890 1721.2 889.4 1722.3" fill="none" stroke="#86b9ee" stroke-width="6.3"/></g>
<g stroke-linejoin="round"><path d="M930 1692.3C929.2 1694.9 927 1702.6 925.2 1707.8C923.4 1713 920.8 1719.7 919.4 1723.3C917.9 1726.8 917 1728.1 916.5 1729.1" fill="none" stroke="#36557e" stroke-width="7.8"/><path d="M930 1692.3C929.2 1694.9 927 1702.6 925.2 1707.8C923.4 1713 920.8 1719.7 919.4 1723.3C917.9 1726.8 917 1728.1 916.5 1729.1" fill="none" stroke="#86b9ee" stroke-width="5.7"/></g>
<g stroke-linejoin="round"><path d="M911.6 1653.6C912.8 1655.3 916.3 1660.5 918.4 1664.2C920.5 1667.9 922.6 1672.9 924.2 1675.8C925.9 1678.7 927.5 1680.7 928.1 1681.6" fill="none" stroke="#36557e" stroke-width="8.4"/><path d="M911.6 1653.6C912.8 1655.3 916.3 1660.5 918.4 1664.2C920.5 1667.9 922.6 1672.9 924.2 1675.8C925.9 1678.7 927.5 1680.7 928.1 1681.6" fill="none" stroke="#7aa6d6" stroke-width="6.3"/></g>
<g stroke-linejoin="round"><path d="M924.2 1664.2C925 1663.8 927.5 1662.4 929.1 1661.8C930.7 1661.1 933.1 1660.6 933.9 1660.3" fill="none" stroke="#36557e" stroke-width="7.8"/><path d="M939.9 1658.5L935.5 1665.5L932.4 1655.1Z" fill="#86b9ee" stroke="#36557e" stroke-width="1.05"/><path d="M924.2 1664.2C925 1663.8 927.5 1662.4 929.1 1661.8C930.7 1661.1 933.1 1660.6 933.9 1660.3" fill="none" stroke="#86b9ee" stroke-width="5.7"/></g>
<g transform="translate(932 1681.6) rotate(26.6)"><rect x="-3.9" y="-7.3" width="16.5" height="14.5" rx="4.4" ry="3.2" fill="url(#gg15)" stroke="#36557e" stroke-width="1.1"/></g>
<path d="M978 1644.4L930 1683.6" stroke="#111" stroke-width="1.2" fill="none"/>
<rect transform="translate(874.8 1651.6) rotate(93.8)" x="0" y="-0.7" width="14.6" height="1.4" fill="#fff" stroke="#8a8a80" stroke-width="0.8"/>
<rect transform="translate(880.2 1664.2) rotate(96)" x="0" y="-0.7" width="18.5" height="1.4" fill="#fff" stroke="#8a8a80" stroke-width="0.8"/>
<rect transform="translate(873.4 1677.8) rotate(92.2)" x="0" y="-0.7" width="12.6" height="1.4" fill="#fff" stroke="#8a8a80" stroke-width="0.8"/>
<rect transform="translate(875.3 1702) rotate(96.3)" x="0" y="-0.7" width="17.5" height="1.4" fill="#fff" stroke="#8a8a80" stroke-width="0.8"/>
<rect transform="translate(872.9 1703) rotate(95.7)" x="0" y="-0.7" width="17.5" height="1.4" fill="#fff" stroke="#8a8a80" stroke-width="0.8"/>
<g fill="none" stroke-linecap="round" stroke-linejoin="round"><path d="M657.3 1694.5C658.9 1695.7 663.5 1701.5 667.2 1701.8C671 1702.1 675.4 1695.4 680 1696.3C684.5 1697.2 689.6 1705.1 694.5 1707.2C699.3 1709.3 705.4 1710.2 709 1709C712.6 1707.8 713.5 1699.6 716.3 1700C719 1700.3 722 1709.6 725.4 1710.8C728.7 1712.1 733.1 1708.6 736.2 1707.2C739.4 1705.9 743.1 1703.4 744.4 1702.7" stroke="#6e1616" stroke-width="3"/><path d="M657.3 1694.5C658.9 1695.7 663.5 1701.5 667.2 1701.8C671 1702.1 675.4 1695.4 680 1696.3C684.5 1697.2 689.6 1705.1 694.5 1707.2C699.3 1709.3 705.4 1710.2 709 1709C712.6 1707.8 713.5 1699.6 716.3 1700C719 1700.3 722 1709.6 725.4 1710.8C728.7 1712.1 733.1 1708.6 736.2 1707.2C739.4 1705.9 743.1 1703.4 744.4 1702.7" stroke="#f23535" stroke-width="1"/></g>
<g fill="none" stroke-linecap="round" stroke-linejoin="round"><path d="M779.8 1689.1C780.7 1687.5 782.9 1681.8 785.3 1680C787.7 1678.2 793.1 1677.6 794.4 1678.2C795.6 1678.8 794.4 1682.1 792.5 1683.6C790.7 1685.1 785 1686.6 783.5 1687.2" stroke="#6e1616" stroke-width="3.7"/><path d="M779.8 1689.1C780.7 1687.5 782.9 1681.8 785.3 1680C787.7 1678.2 793.1 1677.6 794.4 1678.2C795.6 1678.8 794.4 1682.1 792.5 1683.6C790.7 1685.1 785 1686.6 783.5 1687.2" stroke="#f23535" stroke-width="1.7"/></g>
<g fill="none" stroke-linecap="round" stroke-linejoin="round"><path d="M819.8 1709C820.4 1710.2 820.7 1714.8 823.4 1716.3C826.1 1717.8 832.5 1718.1 836.1 1718.1C839.8 1718.1 843.7 1716.6 845.2 1716.3" stroke="#6e1616" stroke-width="3.7"/><path d="M819.8 1709C820.4 1710.2 820.7 1714.8 823.4 1716.3C826.1 1717.8 832.5 1718.1 836.1 1718.1C839.8 1718.1 843.7 1716.6 845.2 1716.3" stroke="#f23535" stroke-width="1.7"/></g>
<g fill="none" stroke-linecap="round" stroke-linejoin="round"><path d="M796.2 1696.3C796.8 1697.8 798.6 1703.3 799.8 1705.4C801 1707.5 802.8 1708.4 803.4 1709" stroke="#6e1616" stroke-width="3.7"/><path d="M796.2 1696.3C796.8 1697.8 798.6 1703.3 799.8 1705.4C801 1707.5 802.8 1708.4 803.4 1709" stroke="#f23535" stroke-width="1.7"/></g>
<g fill="none" stroke-linecap="round" stroke-linejoin="round"><path d="M756.2 1778C755.9 1780.2 753.2 1786.8 754.4 1790.7C755.6 1794.7 762 1799.8 763.5 1801.6" stroke="#6e1616" stroke-width="3.7"/><path d="M756.2 1778C755.9 1780.2 753.2 1786.8 754.4 1790.7C755.6 1794.7 762 1799.8 763.5 1801.6" stroke="#f23535" stroke-width="1.7"/></g>
<g fill="none" stroke-linecap="round" stroke-linejoin="round"><path d="M734.4 1816.2C735.9 1815 739.9 1809.5 743.5 1808.9C747.1 1808.3 752.3 1812.8 756.2 1812.5C760.2 1812.2 764.7 1805.9 767.1 1807.1C769.5 1808.3 770.1 1817.7 770.7 1819.8" stroke="#6e1616" stroke-width="3.7"/><path d="M734.4 1816.2C735.9 1815 739.9 1809.5 743.5 1808.9C747.1 1808.3 752.3 1812.8 756.2 1812.5C760.2 1812.2 764.7 1805.9 767.1 1807.1C769.5 1808.3 770.1 1817.7 770.7 1819.8" stroke="#f23535" stroke-width="1.7"/></g>
<g fill="none" stroke-linecap="round" stroke-linejoin="round"><path d="M734.4 1816.2L739.9 1827.1" stroke="#6e1616" stroke-width="3.7"/><path d="M734.4 1816.2L739.9 1827.1" stroke="#f23535" stroke-width="1.7"/></g>
<g fill="none" stroke-linecap="round" stroke-linejoin="round"><path d="M798 1818C800.4 1816.8 808.6 1811 812.5 1810.7C816.5 1810.4 817.1 1815.6 821.6 1816.2C826.1 1816.8 835.5 1816.2 839.8 1814.4C844 1812.5 847 1808 847 1805.3C847 1802.6 843.7 1800.4 839.8 1798C835.8 1795.6 826.1 1792 823.4 1790.7" stroke="#6e1616" stroke-width="3.7"/><path d="M798 1818C800.4 1816.8 808.6 1811 812.5 1810.7C816.5 1810.4 817.1 1815.6 821.6 1816.2C826.1 1816.8 835.5 1816.2 839.8 1814.4C844 1812.5 847 1808 847 1805.3C847 1802.6 843.7 1800.4 839.8 1798C835.8 1795.6 826.1 1792 823.4 1790.7" stroke="#f23535" stroke-width="1.7"/></g>
<g fill="none" stroke-linecap="round" stroke-linejoin="round"><path d="M794.4 1830.7C796.5 1829.5 803.1 1825.9 807.1 1823.4C811 1821 816.1 1817.4 818 1816.2" stroke="#6e1616" stroke-width="3.7"/><path d="M794.4 1830.7C796.5 1829.5 803.1 1825.9 807.1 1823.4C811 1821 816.1 1817.4 818 1816.2" stroke="#f23535" stroke-width="1.7"/></g>
<g fill="none" stroke-linecap="round" stroke-linejoin="round"><path d="M799.8 1743.5C800.4 1742.3 801.6 1736.9 803.4 1736.3C805.3 1735.7 810.7 1740.5 810.7 1739.9C810.7 1739.3 804.6 1733.8 803.4 1732.6" stroke="#6e1616" stroke-width="3.7"/><path d="M799.8 1743.5C800.4 1742.3 801.6 1736.9 803.4 1736.3C805.3 1735.7 810.7 1740.5 810.7 1739.9C810.7 1739.3 804.6 1733.8 803.4 1732.6" stroke="#f23535" stroke-width="1.7"/></g>
<g transform="translate(818.9 1665.4) rotate(57)"><rect x="-3.9" y="-7.3" width="29.5" height="14.5" rx="4.4" ry="3.2" fill="url(#gg2)" stroke="#6e1616" stroke-width="1.1"/></g>
<g transform="translate(796.2 1759.9) rotate(20.2)"><rect x="-3.9" y="-7.3" width="44.6" height="14.5" rx="4.4" ry="3.2" fill="url(#gg1)" stroke="#6e1616" stroke-width="1.1"/></g>
<g transform="translate(778 1785.3) rotate(23.2)"><rect x="-3.9" y="-7.3" width="49.3" height="14.5" rx="4.4" ry="3.2" fill="url(#gg1)" stroke="#6e1616" stroke-width="1.1"/></g>
<g transform="translate(745.3 1754.4) rotate(18.4)"><rect x="-2.9" y="-5.4" width="17.4" height="10.9" rx="3.3" ry="2.4" fill="url(#gg1)" stroke="#6e1616" stroke-width="1.1"/></g>
<g transform="translate(821.6 1787.1) rotate(-50.2)"><rect x="-2.9" y="-5.4" width="20.1" height="10.9" rx="3.3" ry="2.4" fill="url(#gg1)" stroke="#6e1616" stroke-width="1.1"/></g>
<g transform="translate(765.3 1801.6) rotate(11.3)"><rect x="-3.9" y="-7.3" width="17.1" height="14.5" rx="4.4" ry="3.2" fill="url(#gg1)" stroke="#6e1616" stroke-width="1.1"/></g>
<g transform="translate(846.1 1676.3) rotate(88.6)"><rect x="-3.7" y="-6.8" width="43.7" height="13.6" rx="4.1" ry="3" fill="url(#gg0)" stroke="#6e1616" stroke-width="1.1"/></g>
<g transform="translate(803.4 1702.7) rotate(-21.8)"><rect x="-3.7" y="-6.8" width="26.9" height="13.6" rx="4.1" ry="3" fill="url(#gg3)" stroke="#6e1616" stroke-width="1.1"/></g>
<g transform="translate(848.8 1720.8) rotate(90)"><rect x="-3.9" y="-7.3" width="15.1" height="14.5" rx="4.4" ry="3.2" fill="url(#gg4)" stroke="#6e1616" stroke-width="1.1"/></g>
<g transform="translate(848.8 1733.5) rotate(90)"><rect x="-3.9" y="-7.3" width="15.1" height="14.5" rx="4.4" ry="3.2" fill="url(#gg5)" stroke="#6e1616" stroke-width="1.1"/></g>
<g stroke-linejoin="round"><path d="M756.2 1709C755.6 1712.4 753.5 1723 752.6 1729C751.7 1735.1 751.1 1742.6 750.8 1745.4" fill="none" stroke="#6e1616" stroke-width="7.4"/><path d="M750.1 1751.1L745.8 1744.8L755.7 1745.9Z" fill="#f23535" stroke="#6e1616" stroke-width="1.05"/><path d="M756.2 1709C755.6 1712.4 753.5 1723 752.6 1729C751.7 1735.1 751.1 1742.6 750.8 1745.4" fill="none" stroke="#f23535" stroke-width="5.3"/></g>
<g stroke-linejoin="round"><path d="M765.3 1710.8C764.5 1714.5 762 1726.3 760.8 1732.6C759.6 1739 758.5 1746.3 758 1749" fill="none" stroke="#6e1616" stroke-width="8.5"/><path d="M765.3 1710.8C764.5 1714.5 762 1726.3 760.8 1732.6C759.6 1739 758.5 1746.3 758 1749" fill="none" stroke="#f23535" stroke-width="6.4"/></g>
<g stroke-linejoin="round"><path d="M778 1707.2C777 1710.8 773.5 1722.3 771.7 1729C769.8 1735.7 767.9 1744.1 767.1 1747.2" fill="none" stroke="#6e1616" stroke-width="8.5"/><path d="M778 1707.2C777 1710.8 773.5 1722.3 771.7 1729C769.8 1735.7 767.9 1744.1 767.1 1747.2" fill="none" stroke="#f23535" stroke-width="6.4"/></g>
<g stroke-linejoin="round"><path d="M783.5 1696.3C782.6 1700 779.5 1711.5 778 1718.1C776.5 1724.8 775 1733.2 774.4 1736.3" fill="none" stroke="#6e1616" stroke-width="7.4"/><path d="M783.5 1696.3C782.6 1700 779.5 1711.5 778 1718.1C776.5 1724.8 775 1733.2 774.4 1736.3" fill="none" stroke="#f23535" stroke-width="5.3"/></g>
<g stroke-linejoin="round"><path d="M776.2 1730.8C778.9 1730.1 788 1727.4 792.5 1726.3C797.1 1725.1 801.6 1724.3 803.4 1723.9" fill="none" stroke="#6e1616" stroke-width="5.7"/><path d="M807.3 1723.1L804.2 1727.3L802.7 1720.6Z" fill="#f23535" stroke="#6e1616" stroke-width="1.05"/><path d="M776.2 1730.8C778.9 1730.1 788 1727.4 792.5 1726.3C797.1 1725.1 801.6 1724.3 803.4 1723.9" fill="none" stroke="#f23535" stroke-width="3.6"/></g>
<g transform="translate(747.1 1701.8) rotate(-3.2)"><rect x="-4.2" y="-7.7" width="24.7" height="15.4" rx="4.6" ry="3.4" fill="url(#gg0)" stroke="#6e1616" stroke-width="1.1"/></g>
<g transform="translate(767.1 1758.1) rotate(77)"><rect x="-4.2" y="-7.7" width="32.6" height="15.4" rx="4.6" ry="3.4" fill="url(#gg0)" stroke="#6e1616" stroke-width="1.1"/></g>
<g transform="translate(790.7 1781.7) rotate(-53.5)"><rect x="-4.2" y="-7.7" width="60.3" height="15.4" rx="4.6" ry="3.4" fill="url(#gg0)" stroke="#6e1616" stroke-width="1.1"/></g>
<g transform="translate(744.4 1828.9) rotate(0)"><rect x="-3.9" y="-7.3" width="43.3" height="14.5" rx="4.4" ry="3.2" fill="url(#gg6)" stroke="#6e1616" stroke-width="1.1"/></g>
<g transform="translate(783.5 1823.4) rotate(-33.7)"><rect x="-3.9" y="-7.3" width="20.9" height="14.5" rx="4.4" ry="3.2" fill="url(#gg6)" stroke="#6e1616" stroke-width="1.1"/></g>
<rect transform="translate(803.4 1710.8) rotate(82.9)" x="0" y="-0.6" width="7.3" height="1.3" fill="#fff" stroke="#8a8a80" stroke-width="0.8"/>
<rect transform="translate(825.2 1821.6) rotate(76)" x="0" y="-0.6" width="15" height="1.3" fill="#fff" stroke="#8a8a80" stroke-width="0.8"/>
<rect transform="translate(859.7 1816.2) rotate(98.5)" x="0" y="-0.6" width="18.4" height="1.3" fill="#fff" stroke="#8a8a80" stroke-width="0.8"/>
<rect transform="translate(831.6 1852.5) rotate(79.4)" x="0" y="-0.6" width="14.8" height="1.3" fill="#fff" stroke="#8a8a80" stroke-width="0.8"/>
<rect transform="translate(854.3 1854.3) rotate(95.7)" x="0" y="-0.6" width="18.3" height="1.3" fill="#fff" stroke="#8a8a80" stroke-width="0.8"/>
<rect transform="translate(793.4 1919.7) rotate(85.2)" x="0" y="-0.6" width="10.9" height="1.3" fill="#fff" stroke="#8a8a80" stroke-width="0.8"/>
<g fill="none" stroke-linecap="round" stroke-linejoin="round"><path d="M832.5 1861.6C834.9 1860.7 844 1855.8 847 1856.1C850 1856.4 851.6 1860.7 850.7 1863.4C849.7 1866.1 843.1 1871 841.6 1872.5" stroke="#6e1616" stroke-width="3.7"/><path d="M832.5 1861.6C834.9 1860.7 844 1855.8 847 1856.1C850 1856.4 851.6 1860.7 850.7 1863.4C849.7 1866.1 843.1 1871 841.6 1872.5" stroke="#f23535" stroke-width="1.7"/></g>
<g fill="none" stroke-linecap="round" stroke-linejoin="round"><path d="M837.9 1876.1C839.8 1877.6 846.7 1882.2 848.8 1885.2C851 1888.2 850.3 1892.7 850.7 1894.3" stroke="#6e1616" stroke-width="3.7"/><path d="M837.9 1876.1C839.8 1877.6 846.7 1882.2 848.8 1885.2C851 1888.2 850.3 1892.7 850.7 1894.3" stroke="#f23535" stroke-width="1.7"/></g>
<g fill="none" stroke-linecap="round" stroke-linejoin="round"><path d="M848.8 1908.8L857.9 1901.5" stroke="#6e1616" stroke-width="3.7"/><path d="M848.8 1908.8L857.9 1901.5" stroke="#f23535" stroke-width="1.7"/></g>
<g fill="none" stroke-linecap="round" stroke-linejoin="round"><path d="M792.5 1917.9L794.4 1928.8" stroke="#6e1616" stroke-width="3.7"/><path d="M792.5 1917.9L794.4 1928.8" stroke="#f23535" stroke-width="1.7"/></g>
<g stroke-linejoin="round"><path d="M781.6 1881.5C781.9 1884.6 782.6 1894.3 783.5 1899.7C784.4 1905.2 786.5 1911.8 787.1 1914.2" fill="none" stroke="#6e1616" stroke-width="9"/><path d="M781.6 1881.5C781.9 1884.6 782.6 1894.3 783.5 1899.7C784.4 1905.2 786.5 1911.8 787.1 1914.2" fill="none" stroke="#f23535" stroke-width="6.9"/></g>
<g stroke-linejoin="round"><path d="M790.7 1892.4C790.9 1894.6 791.2 1900.9 791.6 1905.2C792.1 1909.4 793.1 1915.7 793.4 1917.9" fill="none" stroke="#6e1616" stroke-width="7.9"/><path d="M790.7 1892.4C790.9 1894.6 791.2 1900.9 791.6 1905.2C792.1 1909.4 793.1 1915.7 793.4 1917.9" fill="none" stroke="#f23535" stroke-width="5.8"/></g>
<g stroke-linejoin="round"><path d="M792.5 1877.9C796.2 1877.9 807.1 1878.2 814.3 1877.9C821.6 1877.6 832.5 1876.4 836.1 1876.1" fill="none" stroke="#6e1616" stroke-width="9"/><path d="M843.7 1875.5L836.7 1882.6L835.6 1869.6Z" fill="#f23535" stroke="#6e1616" stroke-width="1.05"/><path d="M792.5 1877.9C796.2 1877.9 807.1 1878.2 814.3 1877.9C821.6 1877.6 832.5 1876.4 836.1 1876.1" fill="none" stroke="#f23535" stroke-width="6.9"/></g>
<g stroke-linejoin="round"><path d="M798 1890.6C800.7 1888.5 809.5 1881.5 814.3 1877.9C819.2 1874.3 824.9 1870.3 827 1868.8" fill="none" stroke="#6e1616" stroke-width="7.9"/><path d="M832.2 1865.1L830.3 1873.3L823.8 1864.3Z" fill="#f23535" stroke="#6e1616" stroke-width="1.05"/><path d="M798 1890.6C800.7 1888.5 809.5 1881.5 814.3 1877.9C819.2 1874.3 824.9 1870.3 827 1868.8" fill="none" stroke="#f23535" stroke-width="5.8"/></g>
<g transform="translate(821.6 1896.1) rotate(49.1)"><rect x="-4.2" y="-7.7" width="44.4" height="15.4" rx="4.6" ry="3.4" fill="url(#gg0)" stroke="#6e1616" stroke-width="1.1"/></g>
<g transform="translate(818 1897.9) rotate(103.4)"><rect x="-4.4" y="-8.2" width="48" height="16.3" rx="4.9" ry="3.6" fill="url(#gg0)" stroke="#6e1616" stroke-width="1.1"/></g>
<path d="M743.5 1930.6L819.8 1899.7" stroke="#111" stroke-width="1.2" fill="none"/>
<text transform="translate(654.5 1966) scale(0.955 1)" font-size="36.78" text-anchor="start" style="fill:#d4393c">α-CTD</text>
<g fill="none" stroke-linecap="round" stroke-linejoin="round"><path d="M838.2 1798C840 1796.2 845.1 1789.2 849.1 1787.1C853 1785 860.6 1787.1 861.8 1785.3C863 1783.5 857.8 1778.3 856.3 1776.2C854.8 1774.1 852.1 1772.3 852.7 1772.6C853.3 1772.9 858.1 1775 860 1778C861.8 1781.1 863.6 1786.8 863.6 1790.7C863.6 1794.7 859.3 1798.3 860 1801.6C860.6 1805 864.8 1808 867.2 1810.7C869.6 1813.4 871.8 1815.9 874.5 1818C877.2 1820.1 882 1822.5 883.6 1823.4" stroke="#6f6a20" stroke-width="3.7"/><path d="M838.2 1798C840 1796.2 845.1 1789.2 849.1 1787.1C853 1785 860.6 1787.1 861.8 1785.3C863 1783.5 857.8 1778.3 856.3 1776.2C854.8 1774.1 852.1 1772.3 852.7 1772.6C853.3 1772.9 858.1 1775 860 1778C861.8 1781.1 863.6 1786.8 863.6 1790.7C863.6 1794.7 859.3 1798.3 860 1801.6C860.6 1805 864.8 1808 867.2 1810.7C869.6 1813.4 871.8 1815.9 874.5 1818C877.2 1820.1 882 1822.5 883.6 1823.4" stroke="#ddd070" stroke-width="1.7"/></g>
<g fill="none" stroke-linecap="round" stroke-linejoin="round"><path d="M861.8 1747.2C862.7 1745.7 865.1 1740.2 867.2 1738.1C869.3 1736 872.7 1734.2 874.5 1734.5C876.3 1734.8 877.5 1739 878.1 1739.9" stroke="#6f6a20" stroke-width="3.7"/><path d="M861.8 1747.2C862.7 1745.7 865.1 1740.2 867.2 1738.1C869.3 1736 872.7 1734.2 874.5 1734.5C876.3 1734.8 877.5 1739 878.1 1739.9" stroke="#ddd070" stroke-width="1.7"/></g>
<g fill="none" stroke-linecap="round" stroke-linejoin="round"><path d="M914.4 1750.8L925.3 1749" stroke="#6f6a20" stroke-width="3.7"/><path d="M914.4 1750.8L925.3 1749" stroke="#ddd070" stroke-width="1.7"/></g>
<g fill="none" stroke-linecap="round" stroke-linejoin="round"><path d="M892.6 1856.1C894.2 1856.7 899 1860.1 901.7 1859.8C904.4 1859.5 908.7 1856.1 909 1854.3C909.3 1852.5 904.4 1849.8 903.5 1848.9" stroke="#6f6a20" stroke-width="3.7"/><path d="M892.6 1856.1C894.2 1856.7 899 1860.1 901.7 1859.8C904.4 1859.5 908.7 1856.1 909 1854.3C909.3 1852.5 904.4 1849.8 903.5 1848.9" stroke="#ddd070" stroke-width="1.7"/></g>
<g fill="none" stroke-linecap="round" stroke-linejoin="round"><path d="M967.1 1785.3C968.3 1783.8 970.7 1778.3 974.4 1776.2C978 1774.1 985 1775 988.9 1772.6C992.8 1770.2 995.8 1764.4 998 1761.7C1000.1 1759 1000.1 1756.2 1001.6 1756.2C1003.1 1756.2 1007 1759 1007 1761.7C1007 1764.4 1004.3 1768.7 1001.6 1772.6C998.9 1776.5 993.7 1782 990.7 1785.3C987.7 1788.6 984.6 1791.4 983.4 1792.6" stroke="#6f6a20" stroke-width="3.7"/><path d="M967.1 1785.3C968.3 1783.8 970.7 1778.3 974.4 1776.2C978 1774.1 985 1775 988.9 1772.6C992.8 1770.2 995.8 1764.4 998 1761.7C1000.1 1759 1000.1 1756.2 1001.6 1756.2C1003.1 1756.2 1007 1759 1007 1761.7C1007 1764.4 1004.3 1768.7 1001.6 1772.6C998.9 1776.5 993.7 1782 990.7 1785.3C987.7 1788.6 984.6 1791.4 983.4 1792.6" stroke="#ddd070" stroke-width="1.7"/></g>
<g fill="none" stroke-linecap="round" stroke-linejoin="round"><path d="M983.4 1816.2C986.5 1815.9 996.8 1816.2 1001.6 1814.4C1006.4 1812.5 1010.1 1806.5 1012.5 1805.3C1014.9 1804.1 1016.7 1805.3 1016.1 1807.1C1015.5 1808.9 1009.5 1813.4 1008.9 1816.2C1008.3 1818.9 1012.5 1820.4 1012.5 1823.4C1012.5 1826.5 1011.9 1831.9 1008.9 1834.3C1005.8 1836.8 998.6 1836.8 994.3 1838C990.1 1839.2 985.3 1841 983.4 1841.6" stroke="#6f6a20" stroke-width="3.7"/><path d="M983.4 1816.2C986.5 1815.9 996.8 1816.2 1001.6 1814.4C1006.4 1812.5 1010.1 1806.5 1012.5 1805.3C1014.9 1804.1 1016.7 1805.3 1016.1 1807.1C1015.5 1808.9 1009.5 1813.4 1008.9 1816.2C1008.3 1818.9 1012.5 1820.4 1012.5 1823.4C1012.5 1826.5 1011.9 1831.9 1008.9 1834.3C1005.8 1836.8 998.6 1836.8 994.3 1838C990.1 1839.2 985.3 1841 983.4 1841.6" stroke="#ddd070" stroke-width="1.7"/></g>
<g fill="none" stroke-linecap="round" stroke-linejoin="round"><path d="M932.6 1834.3C935 1836.1 941.7 1843.7 947.1 1845.2C952.6 1846.7 959.8 1843.4 965.3 1843.4C970.7 1843.4 976.8 1846.1 979.8 1845.2C982.8 1844.3 982.8 1839.2 983.4 1838" stroke="#6f6a20" stroke-width="3.7"/><path d="M932.6 1834.3C935 1836.1 941.7 1843.7 947.1 1845.2C952.6 1846.7 959.8 1843.4 965.3 1843.4C970.7 1843.4 976.8 1846.1 979.8 1845.2C982.8 1844.3 982.8 1839.2 983.4 1838" stroke="#ddd070" stroke-width="1.7"/></g>
<g fill="none" stroke-linecap="round" stroke-linejoin="round"><path d="M865.4 1801.6C866.9 1805.3 871.8 1818 874.5 1823.4C877.2 1828.9 880.5 1832.5 881.7 1834.3" stroke="#6f6a20" stroke-width="3.7"/><path d="M865.4 1801.6C866.9 1805.3 871.8 1818 874.5 1823.4C877.2 1828.9 880.5 1832.5 881.7 1834.3" stroke="#ddd070" stroke-width="1.7"/></g>
<g fill="none" stroke-linecap="round" stroke-linejoin="round"><path d="M889 1750.8C889.6 1753.2 891.1 1762.3 892.6 1765.3C894.2 1768.4 897.2 1768.4 898.1 1769" stroke="#6f6a20" stroke-width="3.7"/><path d="M889 1750.8C889.6 1753.2 891.1 1762.3 892.6 1765.3C894.2 1768.4 897.2 1768.4 898.1 1769" stroke="#ddd070" stroke-width="1.7"/></g>
<g transform="translate(894.5 1827.1) rotate(81.9)"><rect x="-3.4" y="-6.4" width="32.5" height="12.7" rx="3.8" ry="2.8" fill="url(#gg10)" stroke="#6f6a20" stroke-width="1.1"/></g>
<g transform="translate(909 1767.1) rotate(84.8)"><rect x="-3.4" y="-6.4" width="26.9" height="12.7" rx="3.8" ry="2.8" fill="url(#gg11)" stroke="#6f6a20" stroke-width="1.1"/></g>
<g transform="translate(921.7 1787.1) rotate(76)"><rect x="-2.9" y="-5.4" width="13.4" height="10.9" rx="3.3" ry="2.4" fill="url(#gg11)" stroke="#6f6a20" stroke-width="1.1"/></g>
<g transform="translate(976.2 1792.6) rotate(81.9)"><rect x="-3.4" y="-6.4" width="19.7" height="12.7" rx="3.8" ry="2.8" fill="url(#gg12)" stroke="#6f6a20" stroke-width="1.1"/></g>
<g transform="translate(876.3 1785.3) rotate(56.3)"><rect x="-3.9" y="-7.3" width="34" height="14.5" rx="4.4" ry="3.2" fill="url(#gg9)" stroke="#6f6a20" stroke-width="1.1"/></g>
<g transform="translate(896.3 1799.8) rotate(11.3)"><rect x="-3.9" y="-7.3" width="35.6" height="14.5" rx="4.4" ry="3.2" fill="url(#gg9)" stroke="#6f6a20" stroke-width="1.1"/></g>
<g fill="none" stroke-linecap="round" stroke-linejoin="round"><path d="M918.1 1819.8C918.4 1823.4 918.1 1835.7 919.9 1841.6C921.7 1847.5 924.4 1852.6 929 1855.2C933.5 1857.9 939.2 1858 947.1 1857.6C955 1857.2 971.3 1853.6 976.2 1852.9" stroke="#6f6a20" stroke-width="14"/><path d="M918.1 1819.8C918.4 1823.4 918.1 1835.7 919.9 1841.6C921.7 1847.5 924.4 1852.6 929 1855.2C933.5 1857.9 939.2 1858 947.1 1857.6C955 1857.2 971.3 1853.6 976.2 1852.9" stroke="#f1de55" stroke-width="12"/></g>
<g stroke-linejoin="round"><path d="M947.1 1823.4C950.7 1824.3 961.9 1827.1 968.9 1828.9C975.9 1830.6 985.6 1833.1 988.9 1834" fill="none" stroke="#6f6a20" stroke-width="9.5"/><path d="M996.8 1836L987.1 1840.8L990.6 1827.1Z" fill="#fbe956" stroke="#6f6a20" stroke-width="1.05"/><path d="M947.1 1823.4C950.7 1824.3 961.9 1827.1 968.9 1828.9C975.9 1830.6 985.6 1833.1 988.9 1834" fill="none" stroke="#fbe956" stroke-width="7.4"/></g>
<g stroke-linejoin="round"><path d="M950.7 1810.7C953.2 1811.3 960.7 1813.2 965.3 1814.4C969.8 1815.5 975.9 1817.1 978 1817.6" fill="none" stroke="#6f6a20" stroke-width="9.5"/><path d="M985.9 1819.7L976.2 1824.5L979.8 1810.8Z" fill="#fbe956" stroke="#6f6a20" stroke-width="1.05"/><path d="M950.7 1810.7C953.2 1811.3 960.7 1813.2 965.3 1814.4C969.8 1815.5 975.9 1817.1 978 1817.6" fill="none" stroke="#fbe956" stroke-width="7.4"/></g>
<g transform="translate(869 1761.7) rotate(53.1)"><rect x="-4.9" y="-9.1" width="28" height="18.2" rx="5.4" ry="4" fill="url(#gg9)" stroke="#6f6a20" stroke-width="1.1"/></g>
<g transform="translate(883.9 1733) rotate(46.2)"><rect x="-3.9" y="-7.3" width="80.3" height="14.5" rx="4.4" ry="3.2" fill="url(#gg9)" stroke="#6f6a20" stroke-width="1.1"/></g>
<circle cx="947.1" cy="1778" r="7.6" fill="#fbe956" stroke="#6f6a20" stroke-width="0.9"/>
<g transform="translate(938.9 1810.7) rotate(40.6)"><rect x="-4.7" y="-8.6" width="17.7" height="17.3" rx="5.2" ry="3.8" fill="url(#gg9)" stroke="#6f6a20" stroke-width="1.1"/></g>
<g transform="translate(872.7 1838.9) rotate(39.8)"><rect x="-4.4" y="-8.2" width="15.9" height="16.3" rx="4.9" ry="3.6" fill="url(#gg9)" stroke="#6f6a20" stroke-width="1.1"/></g>
<path d="M872.7 1738.1L938 1853.4" stroke="#111" stroke-width="1.2" fill="none"/>
<g fill="none" stroke-linecap="round" stroke-linejoin="round"><path d="M881.7 1888.8C882.3 1887 883.9 1880.3 885.4 1877.9C886.9 1875.5 889.9 1873.1 890.8 1874.3C891.7 1875.5 892 1883.1 890.8 1885.2C889.6 1887.3 884.8 1886.7 883.6 1887" stroke="#36557e" stroke-width="3.7"/><path d="M881.7 1888.8C882.3 1887 883.9 1880.3 885.4 1877.9C886.9 1875.5 889.9 1873.1 890.8 1874.3C891.7 1875.5 892 1883.1 890.8 1885.2C889.6 1887.3 884.8 1886.7 883.6 1887" stroke="#86b9ee" stroke-width="1.7"/></g>
<g fill="none" stroke-linecap="round" stroke-linejoin="round"><path d="M907.2 1897.9C909 1897.3 914.7 1894.3 918.1 1894.3C921.4 1894.3 925 1895.8 927.1 1897.9C929.3 1900 927.7 1905.8 930.8 1907C933.8 1908.2 941.4 1903.9 945.3 1905.2C949.2 1906.4 953.2 1911.2 954.4 1914.2C955.6 1917.3 955 1920.9 952.6 1923.3C950.1 1925.7 944.4 1926.9 939.9 1928.8C935.3 1930.6 929 1934.5 925.3 1934.2C921.7 1933.9 920.5 1929.1 918.1 1926.9C915.6 1924.8 913.5 1921.2 910.8 1921.5C908.1 1921.8 904.7 1926.9 901.7 1928.8C898.7 1930.6 894.2 1931.8 892.6 1932.4" stroke="#36557e" stroke-width="3.7"/><path d="M907.2 1897.9C909 1897.3 914.7 1894.3 918.1 1894.3C921.4 1894.3 925 1895.8 927.1 1897.9C929.3 1900 927.7 1905.8 930.8 1907C933.8 1908.2 941.4 1903.9 945.3 1905.2C949.2 1906.4 953.2 1911.2 954.4 1914.2C955.6 1917.3 955 1920.9 952.6 1923.3C950.1 1925.7 944.4 1926.9 939.9 1928.8C935.3 1930.6 929 1934.5 925.3 1934.2C921.7 1933.9 920.5 1929.1 918.1 1926.9C915.6 1924.8 913.5 1921.2 910.8 1921.5C908.1 1921.8 904.7 1926.9 901.7 1928.8C898.7 1930.6 894.2 1931.8 892.6 1932.4" stroke="#86b9ee" stroke-width="1.7"/></g>
<g fill="none" stroke-linecap="round" stroke-linejoin="round"><path d="M850.9 1883.4L858.1 1886.1" stroke="#36557e" stroke-width="3.7"/><path d="M850.9 1883.4L858.1 1886.1" stroke="#86b9ee" stroke-width="1.7"/></g>
<g stroke-linejoin="round"><path d="M874.5 1896.1C873.3 1897.6 869.3 1902.4 867.2 1905.2C865.1 1907.9 862.7 1911.2 861.8 1912.4" fill="none" stroke="#36557e" stroke-width="8.5"/><path d="M874.5 1896.1C873.3 1897.6 869.3 1902.4 867.2 1905.2C865.1 1907.9 862.7 1911.2 861.8 1912.4" fill="none" stroke="#86b9ee" stroke-width="6.4"/></g>
<g stroke-linejoin="round"><path d="M883.6 1928.8C884.2 1930.9 886.1 1937.5 887.2 1941.5C888.3 1945.4 889.5 1950.6 889.9 1952.4" fill="none" stroke="#36557e" stroke-width="9"/><path d="M891.8 1959.7L883.6 1954L896.3 1950.8Z" fill="#7aa6d6" stroke="#36557e" stroke-width="1.05"/><path d="M883.6 1928.8C884.2 1930.9 886.1 1937.5 887.2 1941.5C888.3 1945.4 889.5 1950.6 889.9 1952.4" fill="none" stroke="#7aa6d6" stroke-width="6.9"/></g>
<g stroke-linejoin="round"><path d="M872.7 1928.8C873 1931.2 874 1939.1 874.5 1943.3C874.9 1947.5 875.2 1952.4 875.4 1954.2" fill="none" stroke="#36557e" stroke-width="9.5"/><path d="M876.1 1962.3L868.3 1954.8L882.4 1953.6Z" fill="#86b9ee" stroke="#36557e" stroke-width="1.05"/><path d="M872.7 1928.8C873 1931.2 874 1939.1 874.5 1943.3C874.9 1947.5 875.2 1952.4 875.4 1954.2" fill="none" stroke="#86b9ee" stroke-width="7.4"/></g>
<g transform="translate(860 1886.1) rotate(10.3)"><rect x="-4.2" y="-7.7" width="28.6" height="15.4" rx="4.6" ry="3.4" fill="url(#gg15)" stroke="#36557e" stroke-width="1.1"/></g>
<g transform="translate(860 1917.9) rotate(6.3)"><rect x="-4.2" y="-7.7" width="24.8" height="15.4" rx="4.6" ry="3.4" fill="url(#gg15)" stroke="#36557e" stroke-width="1.1"/></g>
<g transform="translate(894.5 1897.9) rotate(23.2)"><rect x="-3.2" y="-5.9" width="20.2" height="11.8" rx="3.5" ry="2.6" fill="url(#gg15)" stroke="#36557e" stroke-width="1.1"/></g>
<path d="M923.5 1950.6L876.3 1903.3" stroke="#111" stroke-width="1.2" fill="none"/>
<text transform="translate(912 1984.5) scale(0.955 1)" font-size="36.05" text-anchor="start" style="fill:#5a82ae">β-CTD</text>
<g fill="none" stroke-linecap="round" stroke-linejoin="round"><path d="M778 1736.3C779.2 1737.2 782.3 1741.4 785.3 1741.7C788.3 1742 793.1 1737.5 796.2 1738.1C799.2 1738.7 803.1 1742.9 803.4 1745.4C803.7 1747.8 798.9 1751.4 798 1752.6" stroke="#6e1616" stroke-width="3.7"/><path d="M778 1736.3C779.2 1737.2 782.3 1741.4 785.3 1741.7C788.3 1742 793.1 1737.5 796.2 1738.1C799.2 1738.7 803.1 1742.9 803.4 1745.4C803.7 1747.8 798.9 1751.4 798 1752.6" stroke="#f23535" stroke-width="1.7"/></g>
<g fill="none" stroke-linecap="round" stroke-linejoin="round"><path d="M785.3 1719.9C786.8 1719 791.3 1714.8 794.4 1714.5C797.4 1714.2 801.9 1717.5 803.4 1718.1" stroke="#6e1616" stroke-width="3.7"/><path d="M785.3 1719.9C786.8 1719 791.3 1714.8 794.4 1714.5C797.4 1714.2 801.9 1717.5 803.4 1718.1" stroke="#f23535" stroke-width="1.7"/></g>
<g fill="none" stroke-linecap="round" stroke-linejoin="round"><path d="M823.4 1779.9C825.5 1781.1 832.5 1784.1 836.1 1787.1C839.8 1790.1 844 1794.1 845.2 1798C846.4 1801.9 843.7 1808.6 843.4 1810.7" stroke="#6e1616" stroke-width="3.7"/><path d="M823.4 1779.9C825.5 1781.1 832.5 1784.1 836.1 1787.1C839.8 1790.1 844 1794.1 845.2 1798C846.4 1801.9 843.7 1808.6 843.4 1810.7" stroke="#f23535" stroke-width="1.7"/></g>
<g fill="none" stroke-linecap="round" stroke-linejoin="round"><path d="M821.6 1819.8C823.4 1820.4 829.5 1823.7 832.5 1823.4C835.5 1823.1 838.5 1818.9 839.8 1818" stroke="#6e1616" stroke-width="3.7"/><path d="M821.6 1819.8C823.4 1820.4 829.5 1823.7 832.5 1823.4C835.5 1823.1 838.5 1818.9 839.8 1818" stroke="#f23535" stroke-width="1.7"/></g>
<g fill="none" stroke-linecap="round" stroke-linejoin="round"><path d="M749 1769C747.7 1770.2 741.7 1773.5 741.7 1776.2C741.7 1778.9 746.2 1783.5 749 1785.3C751.7 1787.1 756.5 1786.8 758 1787.1" stroke="#6e1616" stroke-width="3.7"/><path d="M749 1769C747.7 1770.2 741.7 1773.5 741.7 1776.2C741.7 1778.9 746.2 1783.5 749 1785.3C751.7 1787.1 756.5 1786.8 758 1787.1" stroke="#f23535" stroke-width="1.7"/></g>
<g fill="none" stroke-linecap="round" stroke-linejoin="round"><path d="M767.1 1714.5C768.3 1716 771.4 1721.1 774.4 1723.6C777.4 1726 783.5 1728.1 785.3 1729" stroke="#6e1616" stroke-width="3.7"/><path d="M767.1 1714.5C768.3 1716 771.4 1721.1 774.4 1723.6C777.4 1726 783.5 1728.1 785.3 1729" stroke="#f23535" stroke-width="1.7"/></g>
<g fill="none" stroke-linecap="round" stroke-linejoin="round"><path d="M832.5 1745.4C833.7 1746.3 837.6 1750.8 839.8 1750.8C841.9 1750.8 844.3 1746.3 845.2 1745.4" stroke="#6e1616" stroke-width="3.7"/><path d="M832.5 1745.4C833.7 1746.3 837.6 1750.8 839.8 1750.8C841.9 1750.8 844.3 1746.3 845.2 1745.4" stroke="#f23535" stroke-width="1.7"/></g>
<g transform="translate(798 1745.4) rotate(18.4)"><rect x="-2.7" y="-5" width="11.1" height="10" rx="3" ry="2.2" fill="url(#gg0)" stroke="#6e1616" stroke-width="1.1"/></g>
<g fill="none" stroke-linecap="round" stroke-linejoin="round"><path d="M921.7 1798C923.5 1799.2 930.2 1801.6 932.6 1805.3C935 1808.9 935.6 1817.4 936.2 1819.8" stroke="#6f6a20" stroke-width="3.7"/><path d="M921.7 1798C923.5 1799.2 930.2 1801.6 932.6 1805.3C935 1808.9 935.6 1817.4 936.2 1819.8" stroke="#ddd070" stroke-width="1.7"/></g>
<g fill="none" stroke-linecap="round" stroke-linejoin="round"><path d="M899.9 1779.9C900.8 1781.7 902.3 1788.3 905.4 1790.7C908.4 1793.2 915.9 1793.8 918.1 1794.4" stroke="#6f6a20" stroke-width="3.7"/><path d="M899.9 1779.9C900.8 1781.7 902.3 1788.3 905.4 1790.7C908.4 1793.2 915.9 1793.8 918.1 1794.4" stroke="#ddd070" stroke-width="1.7"/></g>
<g fill="none" stroke-linecap="round" stroke-linejoin="round"><path d="M954.4 1787.1C955.6 1788.9 958.6 1795.6 961.6 1798C964.7 1800.4 970.7 1801 972.5 1801.6" stroke="#6f6a20" stroke-width="3.7"/><path d="M954.4 1787.1C955.6 1788.9 958.6 1795.6 961.6 1798C964.7 1800.4 970.7 1801 972.5 1801.6" stroke="#ddd070" stroke-width="1.7"/></g>
<g fill="none" stroke-linecap="round" stroke-linejoin="round"><path d="M979.8 1852.5C981.3 1851.9 987.1 1851 988.9 1848.9C990.7 1846.7 990.4 1841.3 990.7 1839.8" stroke="#6f6a20" stroke-width="3.7"/><path d="M979.8 1852.5C981.3 1851.9 987.1 1851 988.9 1848.9C990.7 1846.7 990.4 1841.3 990.7 1839.8" stroke="#ddd070" stroke-width="1.7"/></g>
<g fill="none" stroke-linecap="round" stroke-linejoin="round"><path d="M849.1 1808.9C850.3 1810.1 853.9 1813.8 856.3 1816.2C858.7 1818.6 862.4 1822.2 863.6 1823.4" stroke="#6f6a20" stroke-width="3.7"/><path d="M849.1 1808.9C850.3 1810.1 853.9 1813.8 856.3 1816.2C858.7 1818.6 862.4 1822.2 863.6 1823.4" stroke="#ddd070" stroke-width="1.7"/></g>
<g fill="none" stroke-linecap="round" stroke-linejoin="round"><path d="M781.6 1736.3C783.2 1735.7 787.7 1733.8 790.7 1732.6C793.8 1731.4 796.8 1729 799.8 1729C802.8 1729 807.4 1732 808.9 1732.6" stroke="#6e1616" stroke-width="3.7"/><path d="M781.6 1736.3C783.2 1735.7 787.7 1733.8 790.7 1732.6C793.8 1731.4 796.8 1729 799.8 1729C802.8 1729 807.4 1732 808.9 1732.6" stroke="#f23535" stroke-width="1.7"/></g>
<g fill="none" stroke-linecap="round" stroke-linejoin="round"><path d="M767.1 1750.8C768.9 1751.4 774.4 1754.4 778 1754.4C781.6 1754.4 787.1 1751.4 788.9 1750.8" stroke="#6e1616" stroke-width="3.7"/><path d="M767.1 1750.8C768.9 1751.4 774.4 1754.4 778 1754.4C781.6 1754.4 787.1 1751.4 788.9 1750.8" stroke="#f23535" stroke-width="1.7"/></g>
<g fill="none" stroke-linecap="round" stroke-linejoin="round"><path d="M807.1 1750.8C808.9 1751.4 814.3 1754.4 818 1754.4C821.6 1754.4 825.8 1750.2 828.9 1750.8C831.9 1751.4 834.9 1756.9 836.1 1758.1" stroke="#6e1616" stroke-width="3.7"/><path d="M807.1 1750.8C808.9 1751.4 814.3 1754.4 818 1754.4C821.6 1754.4 825.8 1750.2 828.9 1750.8C831.9 1751.4 834.9 1756.9 836.1 1758.1" stroke="#f23535" stroke-width="1.7"/></g>
<g fill="none" stroke-linecap="round" stroke-linejoin="round"><path d="M749 1787.1C750.2 1788.9 755.6 1794.4 756.2 1798C756.8 1801.6 755 1806.5 752.6 1808.9C750.2 1811.3 743.5 1811.9 741.7 1812.5" stroke="#6e1616" stroke-width="3.7"/><path d="M749 1787.1C750.2 1788.9 755.6 1794.4 756.2 1798C756.8 1801.6 755 1806.5 752.6 1808.9C750.2 1811.3 743.5 1811.9 741.7 1812.5" stroke="#f23535" stroke-width="1.7"/></g>
<g fill="none" stroke-linecap="round" stroke-linejoin="round"><path d="M799.8 1805.3C801.6 1804.7 807.1 1801.6 810.7 1801.6C814.3 1801.6 819.8 1804.7 821.6 1805.3" stroke="#6e1616" stroke-width="3.7"/><path d="M799.8 1805.3C801.6 1804.7 807.1 1801.6 810.7 1801.6C814.3 1801.6 819.8 1804.7 821.6 1805.3" stroke="#f23535" stroke-width="1.7"/></g>
<g fill="none" stroke-linecap="round" stroke-linejoin="round"><path d="M863.6 1758.1C862.4 1759.3 858.1 1762.3 856.3 1765.3C854.5 1768.4 853.3 1774.4 852.7 1776.2" stroke="#6f6a20" stroke-width="3.7"/><path d="M863.6 1758.1C862.4 1759.3 858.1 1762.3 856.3 1765.3C854.5 1768.4 853.3 1774.4 852.7 1776.2" stroke="#ddd070" stroke-width="1.7"/></g>
<g fill="none" stroke-linecap="round" stroke-linejoin="round"><path d="M929 1798C930.2 1798.9 933.2 1802.9 936.2 1803.5C939.2 1804.1 945.3 1801.9 947.1 1801.6" stroke="#6f6a20" stroke-width="3.7"/><path d="M929 1798C930.2 1798.9 933.2 1802.9 936.2 1803.5C939.2 1804.1 945.3 1801.9 947.1 1801.6" stroke="#ddd070" stroke-width="1.7"/></g>
<g fill="none" stroke-linecap="round" stroke-linejoin="round"><path d="M903.5 1816.2C905.4 1816.8 912 1817.4 914.4 1819.8C916.9 1822.2 917.5 1828.9 918.1 1830.7" stroke="#6f6a20" stroke-width="3.7"/><path d="M903.5 1816.2C905.4 1816.8 912 1817.4 914.4 1819.8C916.9 1822.2 917.5 1828.9 918.1 1830.7" stroke="#ddd070" stroke-width="1.7"/></g>
<g fill="none" stroke-linecap="round" stroke-linejoin="round"><path d="M947.1 1834.3C948.9 1834.9 954.4 1838 958 1838C961.6 1838 967.1 1834.9 968.9 1834.3" stroke="#6f6a20" stroke-width="3.7"/><path d="M947.1 1834.3C948.9 1834.9 954.4 1838 958 1838C961.6 1838 967.1 1834.9 968.9 1834.3" stroke="#ddd070" stroke-width="1.7"/></g>
<g fill="none" stroke-linecap="round" stroke-linejoin="round"><path d="M881.7 1816.2C883 1817.4 888.4 1820.4 889 1823.4C889.6 1826.5 886 1832.5 885.4 1834.3" stroke="#6f6a20" stroke-width="3.7"/><path d="M881.7 1816.2C883 1817.4 888.4 1820.4 889 1823.4C889.6 1826.5 886 1832.5 885.4 1834.3" stroke="#ddd070" stroke-width="1.7"/></g>
<g fill="none" stroke-linecap="round" stroke-linejoin="round"><path d="M620 2387.4C623.2 2387.6 633.2 2387.4 639.1 2388.8C645 2390.3 650.3 2395.5 655.4 2396.1C660.5 2396.7 666 2393.7 669.9 2392.5C673.9 2391.3 676 2387.6 679 2388.8C682 2390 684.5 2398.2 688.1 2399.7C691.7 2401.2 696.9 2398.5 700.8 2397.9C704.7 2397.3 709.9 2396.4 711.7 2396.1" stroke="#6e1616" stroke-width="3"/><path d="M620 2387.4C623.2 2387.6 633.2 2387.4 639.1 2388.8C645 2390.3 650.3 2395.5 655.4 2396.1C660.5 2396.7 666 2393.7 669.9 2392.5C673.9 2391.3 676 2387.6 679 2388.8C682 2390 684.5 2398.2 688.1 2399.7C691.7 2401.2 696.9 2398.5 700.8 2397.9C704.7 2397.3 709.9 2396.4 711.7 2396.1" stroke="#f23535" stroke-width="1"/></g>
<g fill="none" stroke-linecap="round" stroke-linejoin="round"><path d="M715.3 2218.1C716.5 2219.3 719.3 2225.1 722.6 2225.4C725.9 2225.7 732.9 2221.5 735.3 2220C737.7 2218.4 736.8 2216.9 737.1 2216.3" stroke="#6e1616" stroke-width="3.7"/><path d="M715.3 2218.1C716.5 2219.3 719.3 2225.1 722.6 2225.4C725.9 2225.7 732.9 2221.5 735.3 2220C737.7 2218.4 736.8 2216.9 737.1 2216.3" stroke="#f23535" stroke-width="1.7"/></g>
<g fill="none" stroke-linecap="round" stroke-linejoin="round"><path d="M722.6 2227.2C722.9 2229 725 2234.5 724.4 2238.1C723.8 2241.7 719.9 2247.2 719 2249" stroke="#6e1616" stroke-width="3.7"/><path d="M722.6 2227.2C722.9 2229 725 2234.5 724.4 2238.1C723.8 2241.7 719.9 2247.2 719 2249" stroke="#f23535" stroke-width="1.7"/></g>
<g fill="none" stroke-linecap="round" stroke-linejoin="round"><path d="M704.4 2258.1C705.6 2257.2 708.7 2253.5 711.7 2252.6C714.7 2251.7 720.8 2252.6 722.6 2252.6" stroke="#6e1616" stroke-width="3.7"/><path d="M704.4 2258.1C705.6 2257.2 708.7 2253.5 711.7 2252.6C714.7 2251.7 720.8 2252.6 722.6 2252.6" stroke="#f23535" stroke-width="1.7"/></g>
<g fill="none" stroke-linecap="round" stroke-linejoin="round"><path d="M715.3 2305.3C715.9 2307.4 716.5 2315.3 719 2318C721.4 2320.7 727.1 2319.5 729.9 2321.6C732.6 2323.8 732.3 2330.1 735.3 2330.7C738.3 2331.3 745.9 2326.2 748 2325.3" stroke="#6e1616" stroke-width="3.7"/><path d="M715.3 2305.3C715.9 2307.4 716.5 2315.3 719 2318C721.4 2320.7 727.1 2319.5 729.9 2321.6C732.6 2323.8 732.3 2330.1 735.3 2330.7C738.3 2331.3 745.9 2326.2 748 2325.3" stroke="#f23535" stroke-width="1.7"/></g>
<g fill="none" stroke-linecap="round" stroke-linejoin="round"><path d="M704.4 2352.5C705 2350.4 705 2342.5 708.1 2339.8C711.1 2337.1 720.8 2335.6 722.6 2336.2C724.4 2336.8 719.6 2342.2 719 2343.4" stroke="#6e1616" stroke-width="3.7"/><path d="M704.4 2352.5C705 2350.4 705 2342.5 708.1 2339.8C711.1 2337.1 720.8 2335.6 722.6 2336.2C724.4 2336.8 719.6 2342.2 719 2343.4" stroke="#f23535" stroke-width="1.7"/></g>
<g fill="none" stroke-linecap="round" stroke-linejoin="round"><path d="M704.4 2352.5C706.2 2354.6 712.3 2361.9 715.3 2365.2C718.4 2368.6 719 2370.7 722.6 2372.5C726.2 2374.3 732.9 2374.9 737.1 2376.1C741.4 2377.3 745 2378.2 748 2379.8C751 2381.3 752.6 2385.5 755.3 2385.2C758 2384.9 761.3 2378.8 764.4 2377.9C767.4 2377 768.9 2379.5 773.4 2379.8C778 2380.1 786.1 2379.8 791.6 2379.8C797 2379.8 803.7 2379.8 806.1 2379.8" stroke="#6e1616" stroke-width="3.7"/><path d="M704.4 2352.5C706.2 2354.6 712.3 2361.9 715.3 2365.2C718.4 2368.6 719 2370.7 722.6 2372.5C726.2 2374.3 732.9 2374.9 737.1 2376.1C741.4 2377.3 745 2378.2 748 2379.8C751 2381.3 752.6 2385.5 755.3 2385.2C758 2384.9 761.3 2378.8 764.4 2377.9C767.4 2377 768.9 2379.5 773.4 2379.8C778 2380.1 786.1 2379.8 791.6 2379.8C797 2379.8 803.7 2379.8 806.1 2379.8" stroke="#f23535" stroke-width="1.7"/></g>
<g fill="none" stroke-linecap="round" stroke-linejoin="round"><path d="M744.4 2385.2C744.1 2386.7 744.4 2392.2 742.6 2394.3C740.7 2396.4 735 2397.3 733.5 2397.9" stroke="#6e1616" stroke-width="3.7"/><path d="M744.4 2385.2C744.1 2386.7 744.4 2392.2 742.6 2394.3C740.7 2396.4 735 2397.3 733.5 2397.9" stroke="#f23535" stroke-width="1.7"/></g>
<g fill="none" stroke-linecap="round" stroke-linejoin="round"><path d="M791.6 2281.7C792.8 2282.9 796.4 2286.2 798.9 2289C801.3 2291.7 804.9 2296.5 806.1 2298" stroke="#6e1616" stroke-width="3.7"/><path d="M791.6 2281.7C792.8 2282.9 796.4 2286.2 798.9 2289C801.3 2291.7 804.9 2296.5 806.1 2298" stroke="#f23535" stroke-width="1.7"/></g>
<g fill="none" stroke-linecap="round" stroke-linejoin="round"><path d="M766.2 2299.9C768 2301.1 774 2304.1 777.1 2307.1C780.1 2310.1 781.9 2315 784.3 2318C786.8 2321 790.4 2324.1 791.6 2325.3" stroke="#6e1616" stroke-width="3.7"/><path d="M766.2 2299.9C768 2301.1 774 2304.1 777.1 2307.1C780.1 2310.1 781.9 2315 784.3 2318C786.8 2321 790.4 2324.1 791.6 2325.3" stroke="#f23535" stroke-width="1.7"/></g>
<g fill="none" stroke-linecap="round" stroke-linejoin="round"><path d="M737.1 2307.1C738.9 2306.8 744.4 2304.7 748 2305.3C751.6 2305.9 757.1 2309.8 758.9 2310.7" stroke="#6e1616" stroke-width="3.7"/><path d="M737.1 2307.1C738.9 2306.8 744.4 2304.7 748 2305.3C751.6 2305.9 757.1 2309.8 758.9 2310.7" stroke="#f23535" stroke-width="1.7"/></g>
<g fill="none" stroke-linecap="round" stroke-linejoin="round"><path d="M726.2 2289C728 2289.9 733.5 2292.9 737.1 2294.4C740.7 2295.9 744.1 2297.7 748 2298C751.9 2298.3 756.5 2295.3 760.7 2296.2C765 2297.1 769.5 2302.6 773.4 2303.5C777.4 2304.4 782.5 2302 784.3 2301.7" stroke="#6e1616" stroke-width="3.7"/><path d="M726.2 2289C728 2289.9 733.5 2292.9 737.1 2294.4C740.7 2295.9 744.1 2297.7 748 2298C751.9 2298.3 756.5 2295.3 760.7 2296.2C765 2297.1 769.5 2302.6 773.4 2303.5C777.4 2304.4 782.5 2302 784.3 2301.7" stroke="#f23535" stroke-width="1.7"/></g>
<g fill="none" stroke-linecap="round" stroke-linejoin="round"><path d="M728 2303.5C730.2 2304.1 736.8 2306.8 740.7 2307.1C744.7 2307.4 747.7 2304.7 751.6 2305.3C755.6 2305.9 762.2 2309.8 764.4 2310.7" stroke="#6e1616" stroke-width="3.7"/><path d="M728 2303.5C730.2 2304.1 736.8 2306.8 740.7 2307.1C744.7 2307.4 747.7 2304.7 751.6 2305.3C755.6 2305.9 762.2 2309.8 764.4 2310.7" stroke="#f23535" stroke-width="1.7"/></g>
<g fill="none" stroke-linecap="round" stroke-linejoin="round"><path d="M769.8 2289C771.3 2290.2 775.3 2294.7 778.9 2296.2C782.5 2297.7 789.5 2297.7 791.6 2298" stroke="#6e1616" stroke-width="3.7"/><path d="M769.8 2289C771.3 2290.2 775.3 2294.7 778.9 2296.2C782.5 2297.7 789.5 2297.7 791.6 2298" stroke="#f23535" stroke-width="1.7"/></g>
<g fill="none" stroke-linecap="round" stroke-linejoin="round"><path d="M711.7 2310.7C712.9 2310.1 716.5 2307.1 719 2307.1C721.4 2307.1 725 2310.1 726.2 2310.7" stroke="#6e1616" stroke-width="3.7"/><path d="M711.7 2310.7C712.9 2310.1 716.5 2307.1 719 2307.1C721.4 2307.1 725 2310.1 726.2 2310.7" stroke="#f23535" stroke-width="1.7"/></g>
<g fill="none" stroke-linecap="round" stroke-linejoin="round"><path d="M737.1 2336.2C738.3 2336.8 742.6 2337.4 744.4 2339.8C746.2 2342.2 747.4 2348.9 748 2350.7" stroke="#6e1616" stroke-width="3.7"/><path d="M737.1 2336.2C738.3 2336.8 742.6 2337.4 744.4 2339.8C746.2 2342.2 747.4 2348.9 748 2350.7" stroke="#f23535" stroke-width="1.7"/></g>
<g fill="none" stroke-linecap="round" stroke-linejoin="round"><path d="M711.7 2368.9C714.1 2370.7 721.4 2377.3 726.2 2379.8C731.1 2382.2 738.3 2382.8 740.7 2383.4" stroke="#6e1616" stroke-width="3.7"/><path d="M711.7 2368.9C714.1 2370.7 721.4 2377.3 726.2 2379.8C731.1 2382.2 738.3 2382.8 740.7 2383.4" stroke="#f23535" stroke-width="1.7"/></g>
<g fill="none" stroke-linecap="round" stroke-linejoin="round"><path d="M762.5 2361.6C763.1 2363.4 766.2 2369.2 766.2 2372.5C766.2 2375.8 763.1 2380.1 762.5 2381.6" stroke="#6e1616" stroke-width="3.7"/><path d="M762.5 2361.6C763.1 2363.4 766.2 2369.2 766.2 2372.5C766.2 2375.8 763.1 2380.1 762.5 2381.6" stroke="#f23535" stroke-width="1.7"/></g>
<g fill="none" stroke-linecap="round" stroke-linejoin="round"><path d="M791.6 2361.6C792.2 2363.4 795.2 2369.5 795.2 2372.5C795.2 2375.5 792.2 2378.5 791.6 2379.8" stroke="#6e1616" stroke-width="3.7"/><path d="M791.6 2361.6C792.2 2363.4 795.2 2369.5 795.2 2372.5C795.2 2375.5 792.2 2378.5 791.6 2379.8" stroke="#f23535" stroke-width="1.7"/></g>
<g transform="translate(804.3 2252.6) rotate(91.9)"><rect x="-3.4" y="-6.4" width="61.4" height="12.7" rx="3.8" ry="2.8" fill="url(#gg8)" stroke="#a86868" stroke-width="1.1"/></g>
<g transform="translate(818.8 2296.2) rotate(97.1)"><rect x="-3.4" y="-6.4" width="50.8" height="12.7" rx="3.8" ry="2.8" fill="url(#gg8)" stroke="#a86868" stroke-width="1.1"/></g>
<g transform="translate(720.8 2272.6) rotate(35.5)"><rect x="-3.4" y="-6.4" width="22.5" height="12.7" rx="3.8" ry="2.8" fill="url(#gg8)" stroke="#a86868" stroke-width="1.1"/></g>
<g transform="translate(737.1 2281.7) rotate(21.8)"><rect x="-2.9" y="-5.4" width="25.4" height="10.9" rx="3.3" ry="2.4" fill="url(#gg8)" stroke="#a86868" stroke-width="1.1"/></g>
<g transform="translate(717.1 2258.1) rotate(21.8)"><rect x="-2.9" y="-5.4" width="15.7" height="10.9" rx="3.3" ry="2.4" fill="url(#gg7)" stroke="#6e1616" stroke-width="1.1"/></g>
<g transform="translate(744.4 2220) rotate(63.4)"><rect x="-4.7" y="-8.6" width="37.7" height="17.3" rx="5.2" ry="3.8" fill="url(#gg0)" stroke="#6e1616" stroke-width="1.1"/></g>
<g transform="translate(760.7 2232.7) rotate(26.6)"><rect x="-4.4" y="-8.2" width="16.9" height="16.3" rx="4.9" ry="3.6" fill="url(#gg0)" stroke="#6e1616" stroke-width="1.1"/></g>
<g transform="translate(778.9 2245.4) rotate(60.3)"><rect x="-4.2" y="-7.7" width="23" height="15.4" rx="4.6" ry="3.4" fill="url(#gg0)" stroke="#6e1616" stroke-width="1.1"/></g>
<g transform="translate(777.1 2265.4) rotate(26.6)"><rect x="-4.4" y="-8.2" width="16.9" height="16.3" rx="4.9" ry="3.6" fill="url(#gg0)" stroke="#6e1616" stroke-width="1.1"/></g>
<g transform="translate(697.2 2274.4) rotate(42)"><rect x="-5.4" y="-10" width="35.2" height="20" rx="6" ry="4.4" fill="url(#gg0)" stroke="#6e1616" stroke-width="1.1"/></g>
<g transform="translate(728 2249) rotate(33)"><rect x="-4.4" y="-8.2" width="95.5" height="16.3" rx="4.9" ry="3.6" fill="url(#gg0)" stroke="#6e1616" stroke-width="1.1"/></g>
<circle cx="731.7" cy="2296.2" r="7.6" fill="#d42a2a" stroke="#6e1616" stroke-width="0.9"/>
<g stroke-linejoin="round"><path d="M719 2354.3C722 2355.5 732.9 2358.6 737.1 2361.6C741.4 2364.6 743.2 2370.7 744.4 2372.5" fill="none" stroke="#6e1616" stroke-width="9.4"/><path d="M719 2354.3C722 2355.5 732.9 2358.6 737.1 2361.6C741.4 2364.6 743.2 2370.7 744.4 2372.5" fill="none" stroke="#f23535" stroke-width="7.3"/></g>
<g stroke-linejoin="round"><path d="M722.6 2343.4C723.8 2344 727.4 2345.9 729.9 2347.1C732.3 2348.3 735.9 2350.1 737.1 2350.7" fill="none" stroke="#6e1616" stroke-width="8.6"/><path d="M722.6 2343.4C723.8 2344 727.4 2345.9 729.9 2347.1C732.3 2348.3 735.9 2350.1 737.1 2350.7" fill="none" stroke="#f23535" stroke-width="6.5"/></g>
<g stroke-linejoin="round"><path d="M753.5 2347.1C753.3 2349.5 753.2 2356.8 752.6 2361.6C751.9 2366.4 750.3 2373.7 749.8 2376.1" fill="none" stroke="#6e1616" stroke-width="9.4"/><path d="M753.5 2347.1C753.3 2349.5 753.2 2356.8 752.6 2361.6C751.9 2366.4 750.3 2373.7 749.8 2376.1" fill="none" stroke="#f23535" stroke-width="7.3"/></g>
<g transform="translate(753.5 2314.4) rotate(66)"><rect x="-4.2" y="-7.7" width="44.1" height="15.4" rx="4.6" ry="3.4" fill="url(#gg0)" stroke="#6e1616" stroke-width="1.1"/></g>
<g transform="translate(807.9 2308.9) rotate(90)"><rect x="-4.2" y="-7.7" width="22.9" height="15.4" rx="4.6" ry="3.4" fill="url(#gg0)" stroke="#6e1616" stroke-width="1.1"/></g>
<g transform="translate(807.9 2350.7) rotate(94.4)"><rect x="-4.4" y="-8.2" width="32.5" height="16.3" rx="4.9" ry="3.6" fill="url(#gg0)" stroke="#6e1616" stroke-width="1.1"/></g>
<g transform="translate(784.3 2336.2) rotate(111)"><rect x="-4.9" y="-9.1" width="35.1" height="18.2" rx="5.4" ry="4" fill="url(#gg0)" stroke="#6e1616" stroke-width="1.1"/></g>
<g transform="translate(771.6 2367) rotate(45)"><rect x="-4.7" y="-8.6" width="14.5" height="17.3" rx="5.2" ry="3.8" fill="url(#gg0)" stroke="#6e1616" stroke-width="1.1"/></g>
<g transform="translate(715.3 2397) rotate(0)"><rect x="-3.9" y="-7.3" width="22.4" height="14.5" rx="4.4" ry="3.2" fill="url(#gg0)" stroke="#6e1616" stroke-width="1.1"/></g>
<g fill="none" stroke-linecap="round" stroke-linejoin="round"><path d="M828.1 2232.6C829.6 2232.9 835.4 2232.3 837.2 2234.4C839 2236.5 838.7 2243.5 839 2245.3" stroke="#6a7aa0" stroke-width="3.7"/><path d="M828.1 2232.6C829.6 2232.9 835.4 2232.3 837.2 2234.4C839 2236.5 838.7 2243.5 839 2245.3" stroke="#b9c6e6" stroke-width="1.7"/></g>
<g fill="none" stroke-linecap="round" stroke-linejoin="round"><path d="M851.7 2285.3C853 2287.1 855.1 2294.7 859 2296.2C862.9 2297.7 872.6 2294.7 875.4 2294.4" stroke="#6a7aa0" stroke-width="3.7"/><path d="M851.7 2285.3C853 2287.1 855.1 2294.7 859 2296.2C862.9 2297.7 872.6 2294.7 875.4 2294.4" stroke="#b9c6e6" stroke-width="1.7"/></g>
<g fill="none" stroke-linecap="round" stroke-linejoin="round"><path d="M899 2294.4C902 2293.4 912.9 2290.4 917.1 2288.9C921.4 2287.4 923.2 2285.9 924.4 2285.3" stroke="#6a7aa0" stroke-width="3.7"/><path d="M899 2294.4C902 2293.4 912.9 2290.4 917.1 2288.9C921.4 2287.4 923.2 2285.9 924.4 2285.3" stroke="#b9c6e6" stroke-width="1.7"/></g>
<g fill="none" stroke-linecap="round" stroke-linejoin="round"><path d="M849.9 2241.7C850.5 2244.1 852 2252 853.6 2256.2C855.1 2260.5 858.1 2265.3 859 2267.1" stroke="#6a7aa0" stroke-width="3.7"/><path d="M849.9 2241.7C850.5 2244.1 852 2252 853.6 2256.2C855.1 2260.5 858.1 2265.3 859 2267.1" stroke="#b9c6e6" stroke-width="1.7"/></g>
<g fill="none" stroke-linecap="round" stroke-linejoin="round"><path d="M920.7 2203.6C920.1 2201.7 917.1 2195.2 917.1 2192.7C917.1 2190.1 919.2 2187.8 920.7 2188.1C922.3 2188.4 925 2191.9 926.2 2194.5C927.4 2197.1 927.7 2202 928 2203.6" stroke="#6f6a20" stroke-width="3.7"/><path d="M920.7 2203.6C920.1 2201.7 917.1 2195.2 917.1 2192.7C917.1 2190.1 919.2 2187.8 920.7 2188.1C922.3 2188.4 925 2191.9 926.2 2194.5C927.4 2197.1 927.7 2202 928 2203.6" stroke="#ddd070" stroke-width="1.7"/></g>
<g fill="none" stroke-linecap="round" stroke-linejoin="round"><path d="M849.9 2223.5C852 2222.9 858.4 2222.3 862.6 2219.9C866.9 2217.5 871.4 2209.9 875.4 2209C879.3 2208.1 883.2 2214.8 886.2 2214.5C889.3 2214.2 892.3 2208.4 893.5 2207.2" stroke="#6f6a20" stroke-width="3.7"/><path d="M849.9 2223.5C852 2222.9 858.4 2222.3 862.6 2219.9C866.9 2217.5 871.4 2209.9 875.4 2209C879.3 2208.1 883.2 2214.8 886.2 2214.5C889.3 2214.2 892.3 2208.4 893.5 2207.2" stroke="#ddd070" stroke-width="1.7"/></g>
<g fill="none" stroke-linecap="round" stroke-linejoin="round"><path d="M817.2 2241.7C818.8 2240.8 823 2235.3 826.3 2236.2C829.6 2237.2 836.3 2243.8 837.2 2247.1C838.1 2250.5 832.7 2254.7 831.8 2256.2" stroke="#6f6a20" stroke-width="3.7"/><path d="M817.2 2241.7C818.8 2240.8 823 2235.3 826.3 2236.2C829.6 2237.2 836.3 2243.8 837.2 2247.1C838.1 2250.5 832.7 2254.7 831.8 2256.2" stroke="#ddd070" stroke-width="1.7"/></g>
<g fill="none" stroke-linecap="round" stroke-linejoin="round"><path d="M848.1 2234.4L849.9 2223.5" stroke="#6f6a20" stroke-width="3.7"/><path d="M848.1 2234.4L849.9 2223.5" stroke="#ddd070" stroke-width="1.7"/></g>
<g fill="none" stroke-linecap="round" stroke-linejoin="round"><path d="M949.8 2259.9C952.2 2259.6 959.5 2257.1 964.3 2258C969.2 2258.9 976.1 2262.3 978.9 2265.3C981.6 2268.3 981.9 2272.3 980.7 2276.2C979.5 2280.1 974.9 2285.6 971.6 2288.9C968.3 2292.2 962.5 2295 960.7 2296.2" stroke="#6f6a20" stroke-width="3.7"/><path d="M949.8 2259.9C952.2 2259.6 959.5 2257.1 964.3 2258C969.2 2258.9 976.1 2262.3 978.9 2265.3C981.6 2268.3 981.9 2272.3 980.7 2276.2C979.5 2280.1 974.9 2285.6 971.6 2288.9C968.3 2292.2 962.5 2295 960.7 2296.2" stroke="#ddd070" stroke-width="1.7"/></g>
<g fill="none" stroke-linecap="round" stroke-linejoin="round"><path d="M964.3 2261.7C965.5 2263.2 971.6 2267.4 971.6 2270.7C971.6 2274.1 967.4 2280.1 964.3 2281.6C961.3 2283.2 955.3 2280.1 953.4 2279.8" stroke="#6f6a20" stroke-width="3.7"/><path d="M964.3 2261.7C965.5 2263.2 971.6 2267.4 971.6 2270.7C971.6 2274.1 967.4 2280.1 964.3 2281.6C961.3 2283.2 955.3 2280.1 953.4 2279.8" stroke="#ddd070" stroke-width="1.7"/></g>
<g fill="none" stroke-linecap="round" stroke-linejoin="round"><path d="M949.8 2308.9C952.2 2309.2 960.1 2310.1 964.3 2310.7C968.6 2311.3 974 2310.4 975.2 2312.5C976.4 2314.6 970.7 2320.4 971.6 2323.4C972.5 2326.4 980.1 2328.6 980.7 2330.7C981.3 2332.8 978 2335.8 975.2 2336.1C972.5 2336.4 967.1 2334.6 964.3 2332.5C961.6 2330.4 961.6 2325.2 958.9 2323.4C956.2 2321.6 949.8 2321.9 948 2321.6" stroke="#6f6a20" stroke-width="3.7"/><path d="M949.8 2308.9C952.2 2309.2 960.1 2310.1 964.3 2310.7C968.6 2311.3 974 2310.4 975.2 2312.5C976.4 2314.6 970.7 2320.4 971.6 2323.4C972.5 2326.4 980.1 2328.6 980.7 2330.7C981.3 2332.8 978 2335.8 975.2 2336.1C972.5 2336.4 967.1 2334.6 964.3 2332.5C961.6 2330.4 961.6 2325.2 958.9 2323.4C956.2 2321.6 949.8 2321.9 948 2321.6" stroke="#ddd070" stroke-width="1.7"/></g>
<g fill="none" stroke-linecap="round" stroke-linejoin="round"><path d="M937.1 2299.8C938.3 2298.3 941.6 2292.5 944.4 2290.7C947.1 2288.9 951.9 2289.2 953.4 2288.9" stroke="#6f6a20" stroke-width="3.7"/><path d="M937.1 2299.8C938.3 2298.3 941.6 2292.5 944.4 2290.7C947.1 2288.9 951.9 2289.2 953.4 2288.9" stroke="#ddd070" stroke-width="1.7"/></g>
<g fill="none" stroke-linecap="round" stroke-linejoin="round"><path d="M935.3 2312.5C935.9 2315.5 939.5 2326.1 938.9 2330.7C938.3 2335.2 934.1 2337.9 931.6 2339.8C929.2 2341.6 925.6 2341.3 924.4 2341.6" stroke="#6f6a20" stroke-width="3.7"/><path d="M935.3 2312.5C935.9 2315.5 939.5 2326.1 938.9 2330.7C938.3 2335.2 934.1 2337.9 931.6 2339.8C929.2 2341.6 925.6 2341.3 924.4 2341.6" stroke="#ddd070" stroke-width="1.7"/></g>
<g fill="none" stroke-linecap="round" stroke-linejoin="round"><path d="M804.5 2278C805.4 2276.8 807.3 2272 810 2270.7C812.7 2269.5 818.1 2269.5 820.9 2270.7C823.6 2272 826.3 2275 826.3 2278C826.3 2281 823.6 2286.8 820.9 2288.9C818.1 2291 812.7 2291.6 810 2290.7C807.3 2289.8 805.4 2284.7 804.5 2283.5" stroke="#6f6a20" stroke-width="3.7"/><path d="M804.5 2278C805.4 2276.8 807.3 2272 810 2270.7C812.7 2269.5 818.1 2269.5 820.9 2270.7C823.6 2272 826.3 2275 826.3 2278C826.3 2281 823.6 2286.8 820.9 2288.9C818.1 2291 812.7 2291.6 810 2290.7C807.3 2289.8 805.4 2284.7 804.5 2283.5" stroke="#ddd070" stroke-width="1.7"/></g>
<g fill="none" stroke-linecap="round" stroke-linejoin="round"><path d="M826.3 2303.4L830 2314.3" stroke="#6f6a20" stroke-width="3.7"/><path d="M826.3 2303.4L830 2314.3" stroke="#ddd070" stroke-width="1.7"/></g>
<g fill="none" stroke-linecap="round" stroke-linejoin="round"><path d="M835.4 2336.1L837.2 2354.3" stroke="#6f6a20" stroke-width="3.7"/><path d="M835.4 2336.1L837.2 2354.3" stroke="#ddd070" stroke-width="1.7"/></g>
<g fill="none" stroke-linecap="round" stroke-linejoin="round"><path d="M859 2270.7C860.8 2271.4 866.3 2272 869.9 2274.4C873.5 2276.8 879.6 2285.3 880.8 2285.3C882 2285.3 877.8 2276.2 877.2 2274.4" stroke="#6f6a20" stroke-width="3.7"/><path d="M859 2270.7C860.8 2271.4 866.3 2272 869.9 2274.4C873.5 2276.8 879.6 2285.3 880.8 2285.3C882 2285.3 877.8 2276.2 877.2 2274.4" stroke="#ddd070" stroke-width="1.7"/></g>
<g fill="none" stroke-linecap="round" stroke-linejoin="round"><path d="M906.2 2290.7C908 2290.1 914.1 2286.5 917.1 2287.1C920.1 2287.7 923.2 2293.1 924.4 2294.4" stroke="#6f6a20" stroke-width="3.7"/><path d="M906.2 2290.7C908 2290.1 914.1 2286.5 917.1 2287.1C920.1 2287.7 923.2 2293.1 924.4 2294.4" stroke="#ddd070" stroke-width="1.7"/></g>
<g fill="none" stroke-linecap="round" stroke-linejoin="round"><path d="M880.8 2263.5C882.6 2264.7 888.7 2270.1 891.7 2270.7C894.7 2271.4 897.7 2267.7 899 2267.1" stroke="#6f6a20" stroke-width="3.7"/><path d="M880.8 2263.5C882.6 2264.7 888.7 2270.1 891.7 2270.7C894.7 2271.4 897.7 2267.7 899 2267.1" stroke="#ddd070" stroke-width="1.7"/></g>
<g fill="none" stroke-linecap="round" stroke-linejoin="round"><path d="M826.3 2292.5C828.1 2293.1 834.2 2293.8 837.2 2296.2C840.2 2298.6 843.3 2305.3 844.5 2307.1" stroke="#6f6a20" stroke-width="3.7"/><path d="M826.3 2292.5C828.1 2293.1 834.2 2293.8 837.2 2296.2C840.2 2298.6 843.3 2305.3 844.5 2307.1" stroke="#ddd070" stroke-width="1.7"/></g>
<g fill="none" stroke-linecap="round" stroke-linejoin="round"><path d="M844.5 2267.1C846.3 2267.7 851.7 2268.9 855.4 2270.7C859 2272.6 863.2 2275 866.3 2278C869.3 2281 872.3 2287.1 873.5 2288.9" stroke="#6f6a20" stroke-width="3.7"/><path d="M844.5 2267.1C846.3 2267.7 851.7 2268.9 855.4 2270.7C859 2272.6 863.2 2275 866.3 2278C869.3 2281 872.3 2287.1 873.5 2288.9" stroke="#ddd070" stroke-width="1.7"/></g>
<g fill="none" stroke-linecap="round" stroke-linejoin="round"><path d="M891.7 2278C893.5 2279.2 901.4 2282.3 902.6 2285.3C903.8 2288.3 899.6 2294.4 899 2296.2" stroke="#6f6a20" stroke-width="3.7"/><path d="M891.7 2278C893.5 2279.2 901.4 2282.3 902.6 2285.3C903.8 2288.3 899.6 2294.4 899 2296.2" stroke="#ddd070" stroke-width="1.7"/></g>
<g fill="none" stroke-linecap="round" stroke-linejoin="round"><path d="M924.4 2299.8C925.6 2300.4 929.8 2304 931.6 2303.4C933.5 2302.8 934.7 2297.4 935.3 2296.2" stroke="#6f6a20" stroke-width="3.7"/><path d="M924.4 2299.8C925.6 2300.4 929.8 2304 931.6 2303.4C933.5 2302.8 934.7 2297.4 935.3 2296.2" stroke="#ddd070" stroke-width="1.7"/></g>
<g fill="none" stroke-linecap="round" stroke-linejoin="round"><path d="M833.6 2296.2C835.4 2296.8 841.5 2297.4 844.5 2299.8C847.5 2302.2 850.5 2308.9 851.7 2310.7" stroke="#6f6a20" stroke-width="3.7"/><path d="M833.6 2296.2C835.4 2296.8 841.5 2297.4 844.5 2299.8C847.5 2302.2 850.5 2308.9 851.7 2310.7" stroke="#ddd070" stroke-width="1.7"/></g>
<g fill="none" stroke-linecap="round" stroke-linejoin="round"><path d="M884.4 2330.7C886.2 2331.6 891.7 2335.8 895.3 2336.1C899 2336.4 904.4 2333.1 906.2 2332.5" stroke="#6f6a20" stroke-width="3.7"/><path d="M884.4 2330.7C886.2 2331.6 891.7 2335.8 895.3 2336.1C899 2336.4 904.4 2333.1 906.2 2332.5" stroke="#ddd070" stroke-width="1.7"/></g>
<g transform="translate(902.6 2212.6) rotate(102.1)"><rect x="-3.4" y="-6.4" width="32.9" height="12.7" rx="3.8" ry="2.8" fill="url(#gg13)" stroke="#6f6a20" stroke-width="1.1"/></g>
<g transform="translate(933.5 2238.1) rotate(121)"><rect x="-3.4" y="-6.4" width="28" height="12.7" rx="3.8" ry="2.8" fill="url(#gg13)" stroke="#6f6a20" stroke-width="1.1"/></g>
<g transform="translate(860.8 2230.8) rotate(70)"><rect x="-3.9" y="-7.3" width="29.1" height="14.5" rx="4.4" ry="3.2" fill="url(#gg9)" stroke="#6f6a20" stroke-width="1.1"/></g>
<g transform="translate(880.8 2225.4) rotate(71.6)"><rect x="-4.7" y="-8.6" width="43.8" height="17.3" rx="5.2" ry="3.8" fill="url(#gg9)" stroke="#6f6a20" stroke-width="1.1"/></g>
<g transform="translate(917.1 2210.8) rotate(97.9)"><rect x="-4.4" y="-8.2" width="62" height="16.3" rx="4.9" ry="3.6" fill="url(#gg9)" stroke="#6f6a20" stroke-width="1.1"/></g>
<g transform="translate(935.3 2210.8) rotate(66)"><rect x="-3.9" y="-7.3" width="25.7" height="14.5" rx="4.4" ry="3.2" fill="url(#gg9)" stroke="#6f6a20" stroke-width="1.1"/></g>
<circle cx="949.8" cy="2247.1" r="9.1" fill="#fbe956" stroke="#6f6a20" stroke-width="0.9"/>
<g stroke-linejoin="round"><path d="M833.6 2258C835.1 2257.9 839.9 2257.4 842.7 2257.1C845.4 2256.8 848.7 2256.4 849.9 2256.2" fill="none" stroke="#6f6a20" stroke-width="8.6"/><path d="M857.1 2255.3L850.7 2262.4L849.2 2250.1Z" fill="#fbe956" stroke="#6f6a20" stroke-width="1.05"/><path d="M833.6 2258C835.1 2257.9 839.9 2257.4 842.7 2257.1C845.4 2256.8 848.7 2256.4 849.9 2256.2" fill="none" stroke="#fbe956" stroke-width="6.5"/></g>
<g stroke-linejoin="round"><path d="M862.6 2263.5C863.8 2263.6 867.5 2264.1 869.9 2264.4C872.3 2264.7 876 2265.2 877.2 2265.3" fill="none" stroke="#6f6a20" stroke-width="7.5"/><path d="M883.1 2266L876.5 2270.4L877.8 2260.2Z" fill="#fbe956" stroke="#6f6a20" stroke-width="1.05"/><path d="M862.6 2263.5C863.8 2263.6 867.5 2264.1 869.9 2264.4C872.3 2264.7 876 2265.2 877.2 2265.3" fill="none" stroke="#fbe956" stroke-width="5.4"/></g>
<g stroke-linejoin="round"><path d="M899 2272.6C900.2 2272.7 903.8 2273.2 906.2 2273.5C908.6 2273.8 912.3 2274.2 913.5 2274.4" fill="none" stroke="#6f6a20" stroke-width="7.5"/><path d="M919.4 2275.1L912.8 2279.5L914.1 2269.2Z" fill="#fbe956" stroke="#6f6a20" stroke-width="1.05"/><path d="M899 2272.6C900.2 2272.7 903.8 2273.2 906.2 2273.5C908.6 2273.8 912.3 2274.2 913.5 2274.4" fill="none" stroke="#fbe956" stroke-width="5.4"/></g>
<g stroke-linejoin="round"><path d="M924.4 2274.4C925.9 2275 930.7 2276.8 933.5 2278C936.2 2279.2 939.5 2281 940.7 2281.6" fill="none" stroke="#6f6a20" stroke-width="8.6"/><path d="M947.2 2284.9L937.9 2287.2L943.5 2276.1Z" fill="#fbe956" stroke="#6f6a20" stroke-width="1.05"/><path d="M924.4 2274.4C925.9 2275 930.7 2276.8 933.5 2278C936.2 2279.2 939.5 2281 940.7 2281.6" fill="none" stroke="#fbe956" stroke-width="6.5"/></g>
<g stroke-linejoin="round"><path d="M949.8 2281.6C950.7 2282.7 953.4 2285.9 955.3 2288C957.1 2290.1 959.8 2293.3 960.7 2294.4" fill="none" stroke="#6f6a20" stroke-width="7.5"/><path d="M949.8 2281.6C950.7 2282.7 953.4 2285.9 955.3 2288C957.1 2290.1 959.8 2293.3 960.7 2294.4" fill="none" stroke="#fbe956" stroke-width="5.4"/></g>
<g stroke-linejoin="round"><path d="M935.3 2310.7C936.5 2310.5 940.1 2310.1 942.5 2309.8C945 2309.5 948.6 2309 949.8 2308.9" fill="none" stroke="#6f6a20" stroke-width="7.5"/><path d="M955.8 2308.1L950.4 2314L949.2 2303.7Z" fill="#fbe956" stroke="#6f6a20" stroke-width="1.05"/><path d="M935.3 2310.7C936.5 2310.5 940.1 2310.1 942.5 2309.8C945 2309.5 948.6 2309 949.8 2308.9" fill="none" stroke="#fbe956" stroke-width="5.4"/></g>
<g stroke-linejoin="round"><path d="M937.1 2314.3C938 2315.1 940.7 2317.4 942.5 2318.9C944.4 2320.4 947.1 2322.7 948 2323.4" fill="none" stroke="#6f6a20" stroke-width="7.5"/><path d="M937.1 2314.3C938 2315.1 940.7 2317.4 942.5 2318.9C944.4 2320.4 947.1 2322.7 948 2323.4" fill="none" stroke="#fbe956" stroke-width="5.4"/></g>
<g stroke-linejoin="round"><path d="M822.7 2274.4C824.5 2275 830.3 2276.8 833.6 2278C836.9 2279.2 841.1 2281 842.7 2281.6" fill="none" stroke="#6f6a20" stroke-width="7.5"/><path d="M848.2 2283.9L840.7 2286.5L844.6 2276.8Z" fill="#fbe956" stroke="#6f6a20" stroke-width="1.05"/><path d="M822.7 2274.4C824.5 2275 830.3 2276.8 833.6 2278C836.9 2279.2 841.1 2281 842.7 2281.6" fill="none" stroke="#fbe956" stroke-width="5.4"/></g>
<g stroke-linejoin="round"><path d="M844.5 2281.6C846.3 2282.4 851.7 2284.7 855.4 2286.2C859 2287.7 864.5 2290 866.3 2290.7" fill="none" stroke="#6f6a20" stroke-width="7.5"/><path d="M844.5 2281.6C846.3 2282.4 851.7 2284.7 855.4 2286.2C859 2287.7 864.5 2290 866.3 2290.7" fill="none" stroke="#fbe956" stroke-width="5.4"/></g>
<g transform="translate(849.9 2361.5) rotate(2.1)"><rect x="-3.4" y="-6.4" width="55.9" height="12.7" rx="3.8" ry="2.8" fill="url(#gg9)" stroke="#6f6a20" stroke-width="1.1"/></g>
<g transform="translate(879 2303.4) rotate(84.8)"><rect x="-3.4" y="-6.4" width="26.9" height="12.7" rx="3.8" ry="2.8" fill="url(#gg9)" stroke="#6f6a20" stroke-width="1.1"/></g>
<g transform="translate(915.3 2303.4) rotate(90)"><rect x="-3.9" y="-7.3" width="40.5" height="14.5" rx="4.4" ry="3.2" fill="url(#gg9)" stroke="#6f6a20" stroke-width="1.1"/></g>
<g transform="translate(831.8 2317.1) rotate(45)"><rect x="-4.2" y="-7.7" width="17.3" height="15.4" rx="4.6" ry="3.4" fill="url(#gg9)" stroke="#6f6a20" stroke-width="1.1"/></g>
<g transform="translate(842.7 2343.4) rotate(51.3)"><rect x="-3.9" y="-7.3" width="19.5" height="14.5" rx="4.4" ry="3.2" fill="url(#gg9)" stroke="#6f6a20" stroke-width="1.1"/></g>
<g transform="translate(860.8 2310.7) rotate(45)"><rect x="-2.9" y="-5.4" width="18.7" height="10.9" rx="3.3" ry="2.4" fill="url(#gg14)" stroke="#6f6a20" stroke-width="1.1"/></g>
<g fill="none" stroke-linecap="round" stroke-linejoin="round"><path d="M839 2318C840.2 2317.1 843.9 2311.9 846.3 2312.5C848.7 2313.1 850.8 2318.3 853.6 2321.6C856.3 2324.9 861.1 2330.7 862.6 2332.5" stroke="#36557e" stroke-width="3.7"/><path d="M839 2318C840.2 2317.1 843.9 2311.9 846.3 2312.5C848.7 2313.1 850.8 2318.3 853.6 2321.6C856.3 2324.9 861.1 2330.7 862.6 2332.5" stroke="#86b9ee" stroke-width="1.7"/></g>
<g fill="none" stroke-linecap="round" stroke-linejoin="round"><path d="M906.2 2343.4C908.6 2342.8 916.5 2339.5 920.7 2339.8C925 2340.1 930.4 2342.5 931.6 2345.2C932.9 2347.9 930.7 2354 928 2356.1C925.3 2358.2 917.4 2357.6 915.3 2357.9" stroke="#36557e" stroke-width="3.7"/><path d="M906.2 2343.4C908.6 2342.8 916.5 2339.5 920.7 2339.8C925 2340.1 930.4 2342.5 931.6 2345.2C932.9 2347.9 930.7 2354 928 2356.1C925.3 2358.2 917.4 2357.6 915.3 2357.9" stroke="#86b9ee" stroke-width="1.7"/></g>
<g fill="none" stroke-linecap="round" stroke-linejoin="round"><path d="M906.2 2374.3C907.7 2373.7 914.1 2370.3 915.3 2370.6C916.5 2370.9 913.8 2375.2 913.5 2376.1" stroke="#36557e" stroke-width="3.7"/><path d="M906.2 2374.3C907.7 2373.7 914.1 2370.3 915.3 2370.6C916.5 2370.9 913.8 2375.2 913.5 2376.1" stroke="#86b9ee" stroke-width="1.7"/></g>
<g fill="none" stroke-linecap="round" stroke-linejoin="round"><path d="M844.5 2408.8C846 2406.9 851.1 2400.6 853.6 2397.9C856 2395.1 858.1 2393.3 859 2392.4" stroke="#36557e" stroke-width="3.7"/><path d="M844.5 2408.8C846 2406.9 851.1 2400.6 853.6 2397.9C856 2395.1 858.1 2393.3 859 2392.4" stroke="#86b9ee" stroke-width="1.7"/></g>
<g fill="none" stroke-linecap="round" stroke-linejoin="round"><path d="M860.8 2401.5C862 2402.4 865.7 2407.6 868.1 2406.9C870.5 2406.3 874.1 2399.4 875.4 2397.9" stroke="#36557e" stroke-width="3.7"/><path d="M860.8 2401.5C862 2402.4 865.7 2407.6 868.1 2406.9C870.5 2406.3 874.1 2399.4 875.4 2397.9" stroke="#86b9ee" stroke-width="1.7"/></g>
<g fill="none" stroke-linecap="round" stroke-linejoin="round"><path d="M891.7 2314.3C892.9 2313.7 895.9 2309.8 899 2310.7C902 2311.6 908 2318.3 909.9 2319.8" stroke="#36557e" stroke-width="3.7"/><path d="M891.7 2314.3C892.9 2313.7 895.9 2309.8 899 2310.7C902 2311.6 908 2318.3 909.9 2319.8" stroke="#86b9ee" stroke-width="1.7"/></g>
<g stroke-linejoin="round"><path d="M849.9 2321.6C851.1 2324.6 856.6 2332.2 857.2 2339.8C857.8 2347.3 854.8 2358.2 853.6 2367C852.3 2375.8 850.5 2388.2 849.9 2392.4" fill="none" stroke="#36557e" stroke-width="9"/><path d="M849.9 2321.6C851.1 2324.6 856.6 2332.2 857.2 2339.8C857.8 2347.3 854.8 2358.2 853.6 2367C852.3 2375.8 850.5 2388.2 849.9 2392.4" fill="none" stroke="#8fc3f3" stroke-width="6.9"/></g>
<g stroke-linejoin="round"><path d="M877.2 2394.2C879 2390.9 885 2381.2 888.1 2374.3C891.1 2367.3 894.1 2356.1 895.3 2352.5" fill="none" stroke="#36557e" stroke-width="9"/><path d="M877.2 2394.2C879 2390.9 885 2381.2 888.1 2374.3C891.1 2367.3 894.1 2356.1 895.3 2352.5" fill="none" stroke="#8fc3f3" stroke-width="6.9"/></g>
<g stroke-linejoin="round"><path d="M862.6 2390.6C865.7 2386.7 875.7 2374.6 880.8 2367C885.9 2359.4 889.9 2352.8 893.5 2345.2C897.1 2337.6 901.1 2325.5 902.6 2321.6" fill="none" stroke="#36557e" stroke-width="10.1"/><path d="M862.6 2390.6C865.7 2386.7 875.7 2374.6 880.8 2367C885.9 2359.4 889.9 2352.8 893.5 2345.2C897.1 2337.6 901.1 2325.5 902.6 2321.6" fill="none" stroke="#8fc3f3" stroke-width="8"/></g>
<g stroke-linejoin="round"><path d="M868.1 2345.2C870.8 2346.1 879.6 2349.6 884.4 2350.7C889.3 2351.7 895 2351.4 897.1 2351.6" fill="none" stroke="#36557e" stroke-width="9.4"/><path d="M905.1 2352.1L896.7 2358.4L897.6 2344.7Z" fill="#8fc3f3" stroke="#36557e" stroke-width="1.05"/><path d="M868.1 2345.2C870.8 2346.1 879.6 2349.6 884.4 2350.7C889.3 2351.7 895 2351.4 897.1 2351.6" fill="none" stroke="#8fc3f3" stroke-width="7.3"/></g>
<g stroke-linejoin="round"><path d="M891.7 2321.6C892.9 2321.9 896.5 2323.3 899 2323.4C901.4 2323.6 905 2322.7 906.2 2322.5" fill="none" stroke="#36557e" stroke-width="7.5"/><path d="M912.2 2321.8L906.9 2327.6L905.6 2317.4Z" fill="#8fc3f3" stroke="#36557e" stroke-width="1.05"/><path d="M891.7 2321.6C892.9 2321.9 896.5 2323.3 899 2323.4C901.4 2323.6 905 2322.7 906.2 2322.5" fill="none" stroke="#8fc3f3" stroke-width="5.4"/></g>
<g transform="translate(897.1 2379.7) rotate(32)"><rect x="-4.2" y="-7.7" width="16.9" height="15.4" rx="4.6" ry="3.4" fill="url(#gg16)" stroke="#36557e" stroke-width="1.1"/></g>
<rect transform="translate(839 2330.7) rotate(90)" x="0" y="-0.6" width="9.1" height="1.3" fill="#fff" stroke="#8a8a80" stroke-width="0.8"/>
<rect transform="translate(841.2 2343.4) rotate(86.6)" x="0" y="-0.6" width="9.1" height="1.3" fill="#fff" stroke="#8a8a80" stroke-width="0.8"/>
<rect transform="translate(840.1 2365.2) rotate(90)" x="0" y="-0.6" width="14.5" height="1.3" fill="#fff" stroke="#8a8a80" stroke-width="0.8"/>
<rect transform="translate(840.8 2394.2) rotate(90)" x="0" y="-0.6" width="9.1" height="1.3" fill="#fff" stroke="#8a8a80" stroke-width="0.8"/>
<rect transform="translate(841.8 2417.8) rotate(88.4)" x="0" y="-0.6" width="12.7" height="1.3" fill="#fff" stroke="#8a8a80" stroke-width="0.8"/>
<path d="M846.3 2186.3L838.7 2258" stroke="#111" stroke-width="1.2" fill="none"/>
<path d="M1004.3 2233.5L948 2276.2" stroke="#111" stroke-width="1.2" fill="none"/>
<path d="M1007.9 2336.1L954.3 2318" stroke="#111" stroke-width="1.2" fill="none"/>
<path d="M967.1 2387L844.5 2279.8" stroke="#111" stroke-width="1.2" fill="none"/>
<path d="M782.5 2426.1L860.6 2391.6" stroke="#111" stroke-width="1.2" fill="none"/>
<text transform="translate(808 2179) scale(0.955 1)" font-size="36.05" text-anchor="start" style="fill:#a49c4c">CBS3</text>
<text transform="translate(975 2222.5) scale(0.955 1)" font-size="36.05" text-anchor="start" style="fill:#a49c4c">CBS1</text>
<text transform="translate(990.5 2371.5) scale(0.955 1)" font-size="36.05" text-anchor="start" style="fill:#a49c4c">CBS2</text>
<text transform="translate(925 2418) scale(0.955 1)" font-size="36.05" text-anchor="start" style="fill:#a49c4c">CBS4</text>
<text transform="translate(733 2461.5) scale(0.955 1)" font-size="36.05" text-anchor="start" style="fill:#5a82ae">CBM</text>
<text transform="translate(950.5 2499) scale(0.955 1)" font-size="36.05" text-anchor="start" style="fill:#a49c4c">CBM</text>
<g fill="none" stroke-linecap="round" stroke-linejoin="round"><path d="M897.1 2430.9C895.6 2430.6 890.8 2430.3 888.1 2429.1C885.3 2427.8 881.4 2425.4 880.8 2423.6C880.2 2421.8 882.6 2419.2 884.4 2418.2C886.2 2417.1 889.6 2416.3 891.7 2417.3C893.8 2418.2 896.2 2422.5 897.1 2423.6" stroke="#6f6a20" stroke-width="3.7"/><path d="M897.1 2430.9C895.6 2430.6 890.8 2430.3 888.1 2429.1C885.3 2427.8 881.4 2425.4 880.8 2423.6C880.2 2421.8 882.6 2419.2 884.4 2418.2C886.2 2417.1 889.6 2416.3 891.7 2417.3C893.8 2418.2 896.2 2422.5 897.1 2423.6" stroke="#fbe956" stroke-width="1.7"/></g>
<g fill="none" stroke-linecap="round" stroke-linejoin="round"><path d="M895.3 2465.4C896.2 2467.8 898.7 2476 900.8 2479.9C902.9 2483.8 905.3 2488.1 908 2489C910.8 2489.9 915.6 2487.2 917.1 2485.4C918.6 2483.5 918.3 2479.3 917.1 2478.1C915.9 2476.9 912.3 2477.5 909.9 2478.1C907.4 2478.7 903.8 2481.1 902.6 2481.7" stroke="#6f6a20" stroke-width="3.7"/><path d="M895.3 2465.4C896.2 2467.8 898.7 2476 900.8 2479.9C902.9 2483.8 905.3 2488.1 908 2489C910.8 2489.9 915.6 2487.2 917.1 2485.4C918.6 2483.5 918.3 2479.3 917.1 2478.1C915.9 2476.9 912.3 2477.5 909.9 2478.1C907.4 2478.7 903.8 2481.1 902.6 2481.7" stroke="#fbe956" stroke-width="1.7"/></g>
<g fill="none" stroke-linecap="round" stroke-linejoin="round"><path d="M822.7 2503.5C824.2 2503.2 829 2500.8 831.8 2501.7C834.5 2502.6 837.8 2507.7 839 2509" stroke="#6f6a20" stroke-width="3.7"/><path d="M822.7 2503.5C824.2 2503.2 829 2500.8 831.8 2501.7C834.5 2502.6 837.8 2507.7 839 2509" stroke="#fbe956" stroke-width="1.7"/></g>
<g fill="none" stroke-linecap="round" stroke-linejoin="round"><path d="M875.4 2532.6C874.7 2534.7 871.7 2541.6 871.7 2545.3C871.7 2548.9 873.2 2552.7 875.4 2554.4C877.5 2556 882.2 2556.8 884.4 2555.3C886.7 2553.8 888.4 2547.9 889 2545.3C889.6 2542.7 888.2 2540.7 888.1 2539.8" stroke="#6f6a20" stroke-width="3.7"/><path d="M875.4 2532.6C874.7 2534.7 871.7 2541.6 871.7 2545.3C871.7 2548.9 873.2 2552.7 875.4 2554.4C877.5 2556 882.2 2556.8 884.4 2555.3C886.7 2553.8 888.4 2547.9 889 2545.3C889.6 2542.7 888.2 2540.7 888.1 2539.8" stroke="#fbe956" stroke-width="1.7"/></g>
<g fill="none" stroke-linecap="round" stroke-linejoin="round"><path d="M831.8 2452.7C832.4 2452.1 833.3 2449.6 835.4 2449C837.5 2448.4 843 2449 844.5 2449" stroke="#6f6a20" stroke-width="3.7"/><path d="M831.8 2452.7C832.4 2452.1 833.3 2449.6 835.4 2449C837.5 2448.4 843 2449 844.5 2449" stroke="#fbe956" stroke-width="1.7"/></g>
<g fill="none" stroke-linecap="round" stroke-linejoin="round"><path d="M844.5 2472.6C844.8 2476.9 843.9 2491.4 846.3 2498.1C848.7 2504.7 856.9 2510.2 859 2512.6" stroke="#6f6a20" stroke-width="3.7"/><path d="M844.5 2472.6C844.8 2476.9 843.9 2491.4 846.3 2498.1C848.7 2504.7 856.9 2510.2 859 2512.6" stroke="#fbe956" stroke-width="1.7"/></g>
<g fill="none" stroke-linecap="round" stroke-linejoin="round"><path d="M888.1 2494.4C889.9 2496.2 895.9 2504.1 899 2505.3C902 2506.5 905 2502.3 906.2 2501.7" stroke="#6f6a20" stroke-width="3.7"/><path d="M888.1 2494.4C889.9 2496.2 895.9 2504.1 899 2505.3C902 2506.5 905 2502.3 906.2 2501.7" stroke="#fbe956" stroke-width="1.7"/></g>
<g fill="none" stroke-linecap="round" stroke-linejoin="round"><path d="M875.4 2459.9C876 2459 877.5 2455.7 879 2454.5C880.5 2453.3 883.5 2453 884.4 2452.7" stroke="#6f6a20" stroke-width="3.7"/><path d="M875.4 2459.9C876 2459 877.5 2455.7 879 2454.5C880.5 2453.3 883.5 2453 884.4 2452.7" stroke="#fbe956" stroke-width="1.7"/></g>
<g stroke-linejoin="round"><path d="M899 2429.1C899.1 2431.8 899.9 2439.6 899.9 2445.4C899.9 2451.1 899.1 2460.5 899 2463.6" fill="none" stroke="#6f6a20" stroke-width="8.6"/><path d="M899 2429.1C899.1 2431.8 899.9 2439.6 899.9 2445.4C899.9 2451.1 899.1 2460.5 899 2463.6" fill="none" stroke="#fbe956" stroke-width="6.5"/></g>
<g stroke-linejoin="round"><path d="M837.2 2458.1C838.4 2458.3 842.1 2458.7 844.5 2459C846.9 2459.3 850.5 2459.8 851.7 2459.9" fill="none" stroke="#6f6a20" stroke-width="11.5"/><path d="M837.2 2458.1C838.4 2458.3 842.1 2458.7 844.5 2459C846.9 2459.3 850.5 2459.8 851.7 2459.9" fill="none" stroke="#fbe956" stroke-width="9.4"/></g>
<g stroke-linejoin="round"><path d="M853.6 2463.6C854.8 2466.3 858.1 2476 860.8 2479.9C863.5 2483.8 868.4 2486 869.9 2487.2" fill="none" stroke="#6f6a20" stroke-width="8.6"/><path d="M853.6 2463.6C854.8 2466.3 858.1 2476 860.8 2479.9C863.5 2483.8 868.4 2486 869.9 2487.2" fill="none" stroke="#fbe956" stroke-width="6.5"/></g>
<g stroke-linejoin="round"><path d="M871.7 2487.2C873.2 2486 878.4 2482.9 880.8 2479.9C883.2 2476.9 885.3 2470.8 886.2 2469" fill="none" stroke="#6f6a20" stroke-width="9.4"/><path d="M871.7 2487.2C873.2 2486 878.4 2482.9 880.8 2479.9C883.2 2476.9 885.3 2470.8 886.2 2469" fill="none" stroke="#ecc934" stroke-width="7.3"/></g>
<g stroke-linejoin="round"><path d="M866.3 2469C867.2 2469.3 869.9 2470.2 871.7 2470.8C873.5 2471.4 876.3 2472.3 877.2 2472.6" fill="none" stroke="#6f6a20" stroke-width="7.5"/><path d="M866.3 2469C867.2 2469.3 869.9 2470.2 871.7 2470.8C873.5 2471.4 876.3 2472.3 877.2 2472.6" fill="none" stroke="#fbe956" stroke-width="5.4"/></g>
<g stroke-linejoin="round"><path d="M880.8 2454.5C881.7 2454.8 884.4 2455.7 886.2 2456.3C888.1 2456.9 890.8 2457.8 891.7 2458.1" fill="none" stroke="#6f6a20" stroke-width="9.4"/><path d="M880.8 2454.5C881.7 2454.8 884.4 2455.7 886.2 2456.3C888.1 2456.9 890.8 2457.8 891.7 2458.1" fill="none" stroke="#fbe956" stroke-width="7.3"/></g>
<g stroke-linejoin="round"><path d="M839 2490.8C839.9 2493.8 839.9 2505.9 844.5 2509C849 2512 858.4 2510.2 866.3 2509C874.1 2507.7 887.5 2502.9 891.7 2501.7" fill="none" stroke="#6f6a20" stroke-width="7.5"/><path d="M839 2490.8C839.9 2493.8 839.9 2505.9 844.5 2509C849 2512 858.4 2510.2 866.3 2509C874.1 2507.7 887.5 2502.9 891.7 2501.7" fill="none" stroke="#fbe956" stroke-width="5.4"/></g>
<g stroke-linejoin="round"><path d="M840.8 2512.6C844.5 2513.2 854.8 2515.6 862.6 2516.2C870.5 2516.8 883.2 2514.4 888.1 2516.2C892.9 2518 891.7 2523.2 891.7 2527.1C891.7 2531.1 888.7 2537.7 888.1 2539.8" fill="none" stroke="#6f6a20" stroke-width="8.6"/><path d="M840.8 2512.6C844.5 2513.2 854.8 2515.6 862.6 2516.2C870.5 2516.8 883.2 2514.4 888.1 2516.2C892.9 2518 891.7 2523.2 891.7 2527.1C891.7 2531.1 888.7 2537.7 888.1 2539.8" fill="none" stroke="#fbe956" stroke-width="6.5"/></g>
<g stroke-linejoin="round"><path d="M859 2514.4C860.8 2516.5 866.9 2524.4 869.9 2527.1C872.9 2529.8 876 2530.1 877.2 2530.7" fill="none" stroke="#6f6a20" stroke-width="7.5"/><path d="M859 2514.4C860.8 2516.5 866.9 2524.4 869.9 2527.1C872.9 2529.8 876 2530.1 877.2 2530.7" fill="none" stroke="#fbe956" stroke-width="5.4"/></g>
<path d="M941.6 2489L890.8 2509.5" stroke="#111" stroke-width="1.2" fill="none"/>
<path d="M784 2063.2H902.5" stroke="#7d7d7d" stroke-width="1.1" fill="none"/>
<path d="M810.8 2062.3A41.9 41.9 0 1 1 866.2 2093.7" stroke="#111" stroke-width="1.3" fill="none"/>
<path d="M841.9 2093.9L861.9 2083.9L860.6 2091.5L863.9 2099.6Z" fill="#000"/>
<text transform="translate(780 2102.5) scale(0.955 1)" font-size="26.65">~90º</text>
</g>
<!-- 08_h -->
<g id="panel-h">
<text class="b" x="1108" y="1450">h</text>
<rect x="1298.3" y="1640.9" width="9.1" height="64.4" fill="#147a14" stroke="#0c3d0c" stroke-width="0.9"/>
<rect x="1319.4" y="1640.9" width="9.1" height="64.4" fill="#147a14" stroke="#0c3d0c" stroke-width="0.9"/>
<rect x="1341.3" y="1640.9" width="9.1" height="64.4" fill="#147a14" stroke="#0c3d0c" stroke-width="0.9"/>
<rect x="1350.4" y="1451.2" width="8.8" height="254.1" fill="#147a14" stroke="#0c3d0c" stroke-width="0.9"/>
<rect x="1380.3" y="1640.9" width="8.3" height="64.4" fill="#147a14" stroke="#0c3d0c" stroke-width="0.9"/>
<rect x="1388.6" y="1640.9" width="8.9" height="64.4" fill="#147a14" stroke="#0c3d0c" stroke-width="0.9"/>
<rect x="1397.5" y="1640.9" width="8.8" height="64.4" fill="#147a14" stroke="#0c3d0c" stroke-width="0.9"/>
<rect x="1406.3" y="1640.9" width="8.7" height="64.4" fill="#147a14" stroke="#0c3d0c" stroke-width="0.9"/>
<rect x="1415" y="1640.9" width="8.5" height="64.4" fill="#147a14" stroke="#0c3d0c" stroke-width="0.9"/>
<rect x="1423.5" y="1576.4" width="9.1" height="128.9" fill="#147a14" stroke="#0c3d0c" stroke-width="0.9"/>
<rect x="1432.6" y="1640.9" width="8.4" height="64.4" fill="#147a14" stroke="#0c3d0c" stroke-width="0.9"/>
<rect x="1441" y="1640.9" width="8.6" height="64.4" fill="#147a14" stroke="#0c3d0c" stroke-width="0.9"/>
<rect x="1473" y="1640.9" width="8.8" height="64.4" fill="#147a14" stroke="#0c3d0c" stroke-width="0.9"/>
<rect x="1481.8" y="1640.9" width="8.9" height="64.4" fill="#147a14" stroke="#0c3d0c" stroke-width="0.9"/>
<rect x="1503.4" y="1640.9" width="9.2" height="64.4" fill="#147a14" stroke="#0c3d0c" stroke-width="0.9"/>
<rect x="1534.2" y="1576.4" width="9.4" height="128.9" fill="#147a14" stroke="#0c3d0c" stroke-width="0.9"/>
<rect x="1555.8" y="1640.9" width="9.0" height="64.4" fill="#147a14" stroke="#0c3d0c" stroke-width="0.9"/>
<rect x="1580.4" y="1576.4" width="9.0" height="128.9" fill="#147a14" stroke="#0c3d0c" stroke-width="0.9"/>
<rect x="1589.4" y="1576.4" width="8.4" height="128.9" fill="#147a14" stroke="#0c3d0c" stroke-width="0.9"/>
<rect x="1597.8" y="1576.4" width="8.7" height="128.9" fill="#147a14" stroke="#0c3d0c" stroke-width="0.9"/>
<rect x="1606.5" y="1640.9" width="8.3" height="64.4" fill="#147a14" stroke="#0c3d0c" stroke-width="0.9"/>
<rect x="1648.5" y="1640.9" width="9.1" height="64.4" fill="#147a14" stroke="#0c3d0c" stroke-width="0.9"/>
<rect x="1670.3" y="1640.9" width="9.0" height="64.4" fill="#147a14" stroke="#0c3d0c" stroke-width="0.9"/>
<rect x="1690.2" y="1640.9" width="9.1" height="64.4" fill="#147a14" stroke="#0c3d0c" stroke-width="0.9"/>
<rect x="1804.2" y="1576.4" width="9.1" height="128.9" fill="#ffa611" stroke="#5a3a05" stroke-width="0.9"/>
<path d="M1744.3 1443V1705.3" stroke="#d8232a" stroke-width="2.4" stroke-dasharray="2.4 4.1" fill="none"/>
<path d="M1271.8 1438.2V1705.3H1907.3" fill="none" stroke="#1a1a1a" stroke-width="1.4"/>
<text transform="translate(1257 1712.5) scale(0.955 1)" font-size="27.69" text-anchor="end">0</text>
<path d="M1271.8 1640.9h-8" stroke="#1a1a1a" stroke-width="1.3"/>
<text transform="translate(1257 1651.4) scale(0.955 1)" font-size="27.69" text-anchor="end">1</text>
<path d="M1271.8 1576.4h-8" stroke="#1a1a1a" stroke-width="1.3"/>
<text transform="translate(1257 1586.3) scale(0.955 1)" font-size="27.69" text-anchor="end">2</text>
<path d="M1271.8 1512.8h-8" stroke="#1a1a1a" stroke-width="1.3"/>
<text transform="translate(1257 1522.5) scale(0.955 1)" font-size="27.69" text-anchor="end">3</text>
<path d="M1271.8 1451.2h-8" stroke="#1a1a1a" stroke-width="1.3"/>
<text transform="translate(1257 1464.0) scale(0.955 1)" font-size="27.69" text-anchor="end">4</text>
<path d="M1287.4 1705.3v10" stroke="#1a1a1a" stroke-width="1.3"/>
<path d="M1365.0 1705.3v10" stroke="#1a1a1a" stroke-width="1.3"/>
<text transform="translate(1365.5 1743.2) scale(0.955 1)" font-size="27.69" text-anchor="middle">10</text>
<path d="M1440.6 1705.3v10" stroke="#1a1a1a" stroke-width="1.3"/>
<text transform="translate(1441.1 1743.2) scale(0.955 1)" font-size="27.69" text-anchor="middle">15</text>
<path d="M1517.6 1705.3v10" stroke="#1a1a1a" stroke-width="1.3"/>
<text transform="translate(1518.1 1743.2) scale(0.955 1)" font-size="27.69" text-anchor="middle">20</text>
<path d="M1594.0 1705.3v10" stroke="#1a1a1a" stroke-width="1.3"/>
<text transform="translate(1594.5 1743.2) scale(0.955 1)" font-size="27.69" text-anchor="middle">25</text>
<path d="M1668.4 1705.3v10" stroke="#1a1a1a" stroke-width="1.3"/>
<text transform="translate(1668.9 1743.2) scale(0.955 1)" font-size="27.69" text-anchor="middle">30</text>
<path d="M1744.3 1705.3v10" stroke="#1a1a1a" stroke-width="1.3"/>
<text transform="translate(1744.8 1743.2) scale(0.955 1)" font-size="27.69" text-anchor="middle">35</text>
<path d="M1821.3 1705.3v10" stroke="#1a1a1a" stroke-width="1.3"/>
<text transform="translate(1821.8 1743.2) scale(0.955 1)" font-size="27.69" text-anchor="middle">40</text>
<text transform="translate(1586 1779) scale(0.955 1)" font-size="29.99" text-anchor="middle">Cross-link length (Å)</text>
<text transform="translate(1233.4 1566) rotate(-90) scale(0.955 1)" font-size="29.47" text-anchor="middle">Cross-link count</text>
<text transform="translate(1751.5 1469.2) scale(0.955 1)" font-size="27.17" fill="#d8232a" style="fill:#d8232a">35 Å</text>
</g>
<!-- 09_i -->
<g id="panel-i">
<defs>
<filter id="ib" x="-5%" y="-5%" width="110%" height="110%"><feTurbulence type="fractalNoise" baseFrequency="0.11 0.11" numOctaves="2" seed="7" result="n"/><feDisplacementMap in="SourceGraphic" in2="n" scale="9" xChannelSelector="R" yChannelSelector="G" result="d"/><feGaussianBlur in="d" stdDeviation="0.7"/></filter>
<filter id="ib2" x="-5%" y="-5%" width="110%" height="110%"><feTurbulence type="fractalNoise" baseFrequency="0.09 0.09" numOctaves="2" seed="3" result="n"/><feDisplacementMap in="SourceGraphic" in2="n" scale="7" xChannelSelector="R" yChannelSelector="G" result="d"/><feGaussianBlur in="d" stdDeviation="1.6"/></filter>
<linearGradient id="icb" x1="0" x2="1" y1="0" y2="0"><stop offset="0" stop-color="#fff"/><stop offset="0.3" stop-color="#f4f7fb"/><stop offset="0.65" stop-color="#9db0cf"/><stop offset="1" stop-color="#6f88b5"/></linearGradient>
<radialGradient id="xg" cx="0.5" cy="0.45" r="0.6"><stop offset="0" stop-color="#58b058"/><stop offset="0.55" stop-color="#3d9a3d"/><stop offset="1" stop-color="#2a862a"/></radialGradient>
<radialGradient id="xo" cx="0.5" cy="0.45" r="0.6"><stop offset="0" stop-color="#ffc766"/><stop offset="1" stop-color="#f7b548"/></radialGradient>
</defs>
<text class="b" x="1107" y="1824">i</text>
<clipPath id="ic1"><rect x="1218.4" y="1897.8" width="254.2" height="254.4"/></clipPath>
<g clip-path="url(#ic1)"><g filter="url(#ib2)"><rect x="1386.3" y="1906.1" width="86.4" height="7.3" fill="#6f88b5" fill-opacity="0.2"/><rect x="1386.3" y="1923" width="86.4" height="7.3" fill="#6f88b5" fill-opacity="0.32000000000000006"/><rect x="1386.3" y="1938.6" width="86.4" height="7.3" fill="#6f88b5" fill-opacity="0.16000000000000003"/><rect x="1386.3" y="1955.5" width="86.4" height="7.3" fill="#6f88b5" fill-opacity="0.36000000000000004"/><rect x="1386.3" y="1968.6" width="86.4" height="7.3" fill="#6f88b5" fill-opacity="0.4"/><rect x="1386.3" y="1984.2" width="86.4" height="7.3" fill="#6f88b5" fill-opacity="0.44000000000000006"/><rect x="1386.3" y="1999.8" width="86.4" height="7.3" fill="#6f88b5" fill-opacity="0.36000000000000004"/><rect x="1386.3" y="2015.4" width="86.4" height="7.3" fill="#6f88b5" fill-opacity="0.24"/><rect x="1408.7" y="1901.9" width="7.3" height="122.3" fill="#6f88b5" fill-opacity="0.18"/><rect x="1432.1" y="1901.9" width="7.3" height="122.3" fill="#6f88b5" fill-opacity="0.21"/><rect x="1453" y="1901.9" width="7.3" height="122.3" fill="#6f88b5" fill-opacity="0.27"/><rect x="1463.4" y="1901.9" width="7.3" height="122.3" fill="#6f88b5" fill-opacity="0.24"/><path d="M1383.7 1956.6L1472.7 1946.2L1472.7 1977.4L1386.3 2024.3Z" fill="#6f88b5" fill-opacity="0.35"/><rect x="1226.5" y="2065.9" width="7.3" height="86.4" fill="#6f88b5" fill-opacity="0.3375"/><rect x="1242.1" y="2065.9" width="7.3" height="86.4" fill="#6f88b5" fill-opacity="0.22499999999999998"/><rect x="1257.7" y="2065.9" width="7.3" height="86.4" fill="#6f88b5" fill-opacity="0.375"/><rect x="1278.6" y="2065.9" width="7.3" height="86.4" fill="#6f88b5" fill-opacity="0.30000000000000004"/><rect x="1296.8" y="2065.9" width="7.3" height="86.4" fill="#6f88b5" fill-opacity="0.375"/><rect x="1312.4" y="2065.9" width="7.3" height="86.4" fill="#6f88b5" fill-opacity="0.3375"/><rect x="1330.6" y="2065.9" width="7.3" height="86.4" fill="#6f88b5" fill-opacity="0.30000000000000004"/><rect x="1346.2" y="2065.9" width="7.3" height="86.4" fill="#6f88b5" fill-opacity="0.22499999999999998"/><rect x="1218.4" y="2078.4" width="193.9" height="6.2" fill="#6f88b5" fill-opacity="0.18"/><rect x="1218.4" y="2133.1" width="193.9" height="6.2" fill="#6f88b5" fill-opacity="0.27"/><rect x="1218.4" y="2140.9" width="193.9" height="6.2" fill="#6f88b5" fill-opacity="0.18"/><path d="M1269.2 2065.9L1360.3 2065.9L1386.3 2086.7L1334.3 2102.3L1282.2 2089.3Z" fill="#6f88b5" fill-opacity="0.4"/></g><g filter="url(#ib)"><path d="M1218.4 1898L1385 1898L1386.3 1935.8L1381.1 1972.2L1375.9 1987.8L1381.1 2024.3L1391.5 2050.3L1412.3 2076.3L1438.4 2099.7L1472.7 2128.4L1472.7 2152.3L1446.2 2152.3L1428 2128.4L1407.1 2110.2L1381.1 2084.1L1360.3 2068.5L1334.3 2065.9L1303 2068.5L1269.2 2063.3L1235.3 2065.9L1218.4 2060.7Z" fill="#6f88b5"/><ellipse cx="1317.3" cy="1917" rx="18.2" ry="3.6" fill="#fff"/><ellipse cx="1274.9" cy="1941" rx="7.8" ry="2.6" fill="#fff"/><ellipse cx="1331.7" cy="1943.6" rx="28.6" ry="2.6" fill="#fff"/><ellipse cx="1369.4" cy="1954" rx="9.9" ry="5.7" fill="#fff"/><ellipse cx="1235.3" cy="2000.8" rx="5.7" ry="24.7" fill="#fff"/><ellipse cx="1261.4" cy="2011.2" rx="5.7" ry="20.8" fill="#fff"/><ellipse cx="1274.9" cy="2049" rx="8.3" ry="4.2" fill="#fff"/><ellipse cx="1329.1" cy="2050.3" rx="29.2" ry="10.4" fill="#fff"/><ellipse cx="1369.4" cy="2011.2" rx="7.8" ry="28.6" fill="#fff"/><ellipse cx="1292.6" cy="2006" rx="2.6" ry="15.6" fill="#fff"/><ellipse cx="1258.8" cy="1956.6" rx="2.6" ry="5.2" fill="#fff"/><ellipse cx="1308.2" cy="1912.3" rx="3.1" ry="5.2" fill="#fff"/><ellipse cx="1360.3" cy="2026.9" rx="10.4" ry="7.8" fill="#fff"/><ellipse cx="1245.8" cy="2024.3" rx="5.2" ry="10.4" fill="#fff"/><ellipse cx="1356.4" cy="1987.8" rx="3.1" ry="10.4" fill="#fff"/><path d="M1425.4 2152.3L1472.7 2152.3L1472.7 2102.3L1446.2 2115.4Z" fill="#6f88b5"/><ellipse cx="1441" cy="2136.2" rx="7.8" ry="2.1" fill="#fff"/><ellipse cx="1455.3" cy="2116.7" rx="2.1" ry="5.7" fill="#fff"/><ellipse cx="1428" cy="2121.9" rx="1.6" ry="5.2" fill="#fff"/><rect x="1407.1" y="2133.6" width="31.2" height="6.5" fill="#6f88b5" fill-opacity="0.8"/></g><path d="M1218.4 1897.8L1472.6 2152.2" stroke="#e4eaf3" stroke-width="0.9" fill="none"/></g>
<rect x="1218.4" y="1897.8" width="254.2" height="254.4" fill="none" stroke="#111" stroke-width="1.3"/>
<clipPath id="ic2"><rect x="1496.5" y="1897.8" width="144" height="254.4"/></clipPath>
<g clip-path="url(#ic2)"><g filter="url(#ib2)"><ellipse cx="1591.9" cy="1920.3" rx="6.2" ry="21.2" fill="#6f88b5" fill-opacity="0.55"/><path d="M1593.3 2045L1604.6 2028L1627.3 2005.3L1638.6 2005.3L1616 2033.6L1599 2050.6Z" fill="#6f88b5" fill-opacity="0.3"/><rect x="1525.3" y="2046.4" width="22.7" height="5.7" fill="#6f88b5" fill-opacity="0.4"/><ellipse cx="1616" cy="2092" rx="17" ry="6.2" fill="#6f88b5" fill-opacity="0.7"/><ellipse cx="1618.8" cy="2137.3" rx="17" ry="6.2" fill="#6f88b5" fill-opacity="0.7"/><rect x="1635.2" y="2073.3" width="5.4" height="78.8" fill="#6f88b5" fill-opacity="0.35"/><ellipse cx="1604.6" cy="2110.1" rx="3.4" ry="11.3" fill="#6f88b5" fill-opacity="0.3"/></g><g filter="url(#ib)"><ellipse cx="1548" cy="1904.7" rx="3.6" ry="2.6" fill="#6f88b5" fill-opacity="0.25"/><ellipse cx="1548" cy="1914.6" rx="3.3" ry="2" fill="#6f88b5" fill-opacity="0.19"/><ellipse cx="1548" cy="1931.6" rx="4.9" ry="7.2" fill="#6f88b5" fill-opacity="0.5"/><ellipse cx="1548" cy="1943" rx="3.6" ry="2.6" fill="#6f88b5" fill-opacity="0.25"/><ellipse cx="1548" cy="1962.2" rx="4.9" ry="3.9" fill="#6f88b5" fill-opacity="0.5"/><ellipse cx="1548" cy="1979.2" rx="4.9" ry="3.3" fill="#6f88b5" fill-opacity="0.5"/><ellipse cx="1548" cy="1993.4" rx="3.6" ry="2" fill="#6f88b5" fill-opacity="0.25"/><ellipse cx="1562.7" cy="1904.7" rx="3.6" ry="3" fill="#6f88b5" fill-opacity="0.32"/><ellipse cx="1562.7" cy="1914.6" rx="3.3" ry="2.2" fill="#6f88b5" fill-opacity="0.24"/><ellipse cx="1562.7" cy="1931.6" rx="4.9" ry="8.2" fill="#6f88b5" fill-opacity="0.65"/><ellipse cx="1562.7" cy="1943" rx="3.6" ry="3" fill="#6f88b5" fill-opacity="0.32"/><ellipse cx="1562.7" cy="1962.2" rx="4.9" ry="4.5" fill="#6f88b5" fill-opacity="0.65"/><ellipse cx="1562.7" cy="1979.2" rx="4.9" ry="3.7" fill="#6f88b5" fill-opacity="0.65"/><ellipse cx="1562.7" cy="1993.4" rx="3.6" ry="2.2" fill="#6f88b5" fill-opacity="0.32"/><ellipse cx="1591.9" cy="1931.6" rx="4" ry="8.5" fill="#6f88b5" fill-opacity="0.5"/><ellipse cx="1593.3" cy="1906.2" rx="5.7" ry="3.4" fill="#6f88b5" fill-opacity="0.5"/><ellipse cx="1599" cy="1961.4" rx="8.5" ry="2.8" fill="#6f88b5" fill-opacity="0.23"/><ellipse cx="1599" cy="1981.2" rx="11.2" ry="3.4" fill="#6f88b5" fill-opacity="0.41"/><ellipse cx="1599" cy="1991.7" rx="10.5" ry="3.4" fill="#6f88b5" fill-opacity="0.36"/><ellipse cx="1599" cy="2008.7" rx="7.8" ry="2.3" fill="#6f88b5" fill-opacity="0.18"/><ellipse cx="1599" cy="2024.6" rx="9.2" ry="2.8" fill="#6f88b5" fill-opacity="0.27"/><ellipse cx="1625" cy="1961.4" rx="4" ry="3.7" fill="#6f88b5" fill-opacity="0.41"/><ellipse cx="1625" cy="1981.2" rx="5.2" ry="4.5" fill="#6f88b5" fill-opacity="0.73"/><ellipse cx="1625" cy="1991.7" rx="4.9" ry="4.5" fill="#6f88b5" fill-opacity="0.65"/><ellipse cx="1625" cy="2008.7" rx="3.6" ry="3" fill="#6f88b5" fill-opacity="0.32"/><ellipse cx="1625" cy="2024.6" rx="4.3" ry="3.7" fill="#6f88b5" fill-opacity="0.49"/><ellipse cx="1634.4" cy="1961.4" rx="2.3" ry="2.8" fill="#6f88b5" fill-opacity="0.23"/><ellipse cx="1634.4" cy="1981.2" rx="3" ry="3.4" fill="#6f88b5" fill-opacity="0.41"/><ellipse cx="1634.4" cy="1991.7" rx="2.8" ry="3.4" fill="#6f88b5" fill-opacity="0.36"/><ellipse cx="1634.4" cy="2008.7" rx="2.1" ry="2.3" fill="#6f88b5" fill-opacity="0.18"/><ellipse cx="1634.4" cy="2024.6" rx="2.4" ry="2.8" fill="#6f88b5" fill-opacity="0.27"/><rect x="1536.7" y="2039.3" width="42.5" height="19.8" fill="#6f88b5" fill-opacity="0.9"/><ellipse cx="1556.5" cy="2049.2" rx="21.2" ry="11.3" fill="#6f88b5" fill-opacity="0.9"/><ellipse cx="1589.1" cy="2048.4" rx="7.9" ry="12.7" fill="#6f88b5" fill-opacity="0.95"/><ellipse cx="1562.7" cy="2062" rx="3.4" ry="5.7" fill="#6f88b5" fill-opacity="0.5"/><ellipse cx="1548" cy="2062" rx="2.8" ry="5.1" fill="#6f88b5" fill-opacity="0.5"/><ellipse cx="1621.6" cy="2092" rx="11.3" ry="3.4" fill="#6f88b5" fill-opacity="0.8"/><ellipse cx="1621.6" cy="2137.3" rx="11.3" ry="2.8" fill="#6f88b5" fill-opacity="0.8"/><ellipse cx="1607.5" cy="2147" rx="8.5" ry="3.4" fill="#6f88b5" fill-opacity="0.5"/></g></g>
<rect x="1496.5" y="1897.8" width="144" height="254.4" fill="none" stroke="#111" stroke-width="1.3"/>
<clipPath id="ic3"><rect x="1664.8" y="1897.8" width="242.2" height="254.4"/></clipPath>
<g clip-path="url(#ic3)"><g filter="url(#ib2)"><rect x="1730.7" y="1903.3" width="5.7" height="158.6" fill="#6f88b5" fill-opacity="0.35"/><rect x="1822.8" y="1903.3" width="5.7" height="158.6" fill="#6f88b5" fill-opacity="0.3"/><rect x="1879.4" y="1948.6" width="5.7" height="153" fill="#6f88b5" fill-opacity="0.4"/><rect x="1893.6" y="1948.6" width="5.7" height="153" fill="#6f88b5" fill-opacity="0.4"/><rect x="1852.5" y="2011" width="5.7" height="34" fill="#6f88b5" fill-opacity="0.3"/><ellipse cx="1729.3" cy="2050.6" rx="7.9" ry="17" fill="#6f88b5" fill-opacity="0.6"/><path d="M1718 2062L1735 2062L1726.5 2084.6L1715.1 2079Z" fill="#6f88b5" fill-opacity="0.3"/><ellipse cx="1876.6" cy="2098.8" rx="4.5" ry="11.3" fill="#6f88b5" fill-opacity="0.5"/></g><g filter="url(#ib)"><ellipse cx="1733.5" cy="1909" rx="5.5" ry="5.2" fill="#6f88b5" fill-opacity="0.32"/><ellipse cx="1733.5" cy="1931.6" rx="8" ry="9.7" fill="#6f88b5" fill-opacity="0.77"/><ellipse cx="1733.5" cy="1943" rx="6.2" ry="3.7" fill="#6f88b5" fill-opacity="0.45"/><ellipse cx="1733.5" cy="1962.8" rx="8.7" ry="6" fill="#6f88b5" fill-opacity="0.9"/><ellipse cx="1733.5" cy="1980.4" rx="8.7" ry="6" fill="#6f88b5" fill-opacity="0.9"/><ellipse cx="1733.5" cy="1994" rx="7.2" ry="3.7" fill="#6f88b5" fill-opacity="0.63"/><ellipse cx="1733.5" cy="2011" rx="5.5" ry="3" fill="#6f88b5" fill-opacity="0.32"/><ellipse cx="1733.5" cy="2026.6" rx="7.5" ry="6.7" fill="#6f88b5" fill-opacity="0.68"/><ellipse cx="1733.5" cy="2041.6" rx="8.2" ry="6" fill="#6f88b5" fill-opacity="0.81"/><ellipse cx="1733.5" cy="2056.3" rx="7.7" ry="5.2" fill="#6f88b5" fill-opacity="0.72"/><ellipse cx="1733.5" cy="2091.7" rx="7.2" ry="3.7" fill="#6f88b5" fill-opacity="0.63"/><ellipse cx="1733.5" cy="2136.2" rx="6.7" ry="3" fill="#6f88b5" fill-opacity="0.54"/><ellipse cx="1825.6" cy="1909" rx="6.5" ry="5.6" fill="#6f88b5" fill-opacity="0.35"/><ellipse cx="1825.6" cy="1931.6" rx="9.4" ry="10.3" fill="#6f88b5" fill-opacity="0.85"/><ellipse cx="1825.6" cy="1943" rx="7.4" ry="4" fill="#6f88b5" fill-opacity="0.5"/><ellipse cx="1825.6" cy="1962.8" rx="10.3" ry="6.3" fill="#6f88b5"/><ellipse cx="1825.6" cy="1980.4" rx="10.3" ry="6.3" fill="#6f88b5"/><ellipse cx="1825.6" cy="1994" rx="8.5" ry="4" fill="#6f88b5" fill-opacity="0.7"/><ellipse cx="1825.6" cy="2011" rx="6.5" ry="3.2" fill="#6f88b5" fill-opacity="0.35"/><ellipse cx="1825.6" cy="2026.6" rx="8.8" ry="7.1" fill="#6f88b5" fill-opacity="0.75"/><ellipse cx="1825.6" cy="2041.6" rx="9.7" ry="6.3" fill="#6f88b5" fill-opacity="0.9"/><ellipse cx="1825.6" cy="2056.3" rx="9.1" ry="5.6" fill="#6f88b5" fill-opacity="0.8"/><ellipse cx="1825.6" cy="2091.7" rx="8.5" ry="4" fill="#6f88b5" fill-opacity="0.7"/><ellipse cx="1825.6" cy="2136.2" rx="8" ry="3.2" fill="#6f88b5" fill-opacity="0.6"/><ellipse cx="1832.7" cy="1909" rx="4" ry="4.9" fill="#6f88b5" fill-opacity="0.28"/><ellipse cx="1832.7" cy="1931.6" rx="5.8" ry="9.1" fill="#6f88b5" fill-opacity="0.68"/><ellipse cx="1832.7" cy="1943" rx="4.5" ry="3.5" fill="#6f88b5" fill-opacity="0.4"/><ellipse cx="1832.7" cy="1962.8" rx="6.3" ry="5.6" fill="#6f88b5" fill-opacity="0.8"/><ellipse cx="1832.7" cy="1980.4" rx="6.3" ry="5.6" fill="#6f88b5" fill-opacity="0.8"/><ellipse cx="1832.7" cy="1994" rx="5.3" ry="3.5" fill="#6f88b5" fill-opacity="0.56"/><ellipse cx="1832.7" cy="2011" rx="4" ry="2.8" fill="#6f88b5" fill-opacity="0.28"/><ellipse cx="1832.7" cy="2026.6" rx="5.4" ry="6.3" fill="#6f88b5" fill-opacity="0.6"/><ellipse cx="1832.7" cy="2041.6" rx="6" ry="5.6" fill="#6f88b5" fill-opacity="0.72"/><ellipse cx="1832.7" cy="2056.3" rx="5.6" ry="4.9" fill="#6f88b5" fill-opacity="0.64"/><ellipse cx="1832.7" cy="2091.7" rx="5.3" ry="3.5" fill="#6f88b5" fill-opacity="0.56"/><ellipse cx="1832.7" cy="2136.2" rx="4.9" ry="2.8" fill="#6f88b5" fill-opacity="0.48"/><ellipse cx="1855.4" cy="1909" rx="3" ry="4.9" fill="#6f88b5" fill-opacity="0.28"/><ellipse cx="1855.4" cy="1931.6" rx="4.4" ry="9.1" fill="#6f88b5" fill-opacity="0.68"/><ellipse cx="1855.4" cy="1943" rx="3.4" ry="3.5" fill="#6f88b5" fill-opacity="0.4"/><ellipse cx="1855.4" cy="1962.8" rx="4.8" ry="5.6" fill="#6f88b5" fill-opacity="0.8"/><ellipse cx="1855.4" cy="1980.4" rx="4.8" ry="5.6" fill="#6f88b5" fill-opacity="0.8"/><ellipse cx="1855.4" cy="1994" rx="3.9" ry="3.5" fill="#6f88b5" fill-opacity="0.56"/><ellipse cx="1855.4" cy="2011" rx="3" ry="2.8" fill="#6f88b5" fill-opacity="0.28"/><ellipse cx="1855.4" cy="2026.6" rx="4.1" ry="6.3" fill="#6f88b5" fill-opacity="0.6"/><ellipse cx="1855.4" cy="2041.6" rx="4.5" ry="5.6" fill="#6f88b5" fill-opacity="0.72"/><ellipse cx="1855.4" cy="2056.3" rx="4.2" ry="4.9" fill="#6f88b5" fill-opacity="0.64"/><ellipse cx="1855.4" cy="2091.7" rx="3.9" ry="3.5" fill="#6f88b5" fill-opacity="0.56"/><ellipse cx="1855.4" cy="2136.2" rx="3.7" ry="2.8" fill="#6f88b5" fill-opacity="0.48"/><ellipse cx="1882.3" cy="1909" rx="4" ry="5.6" fill="#6f88b5" fill-opacity="0.35"/><ellipse cx="1882.3" cy="1931.6" rx="5.8" ry="10.3" fill="#6f88b5" fill-opacity="0.85"/><ellipse cx="1882.3" cy="1943" rx="4.5" ry="4" fill="#6f88b5" fill-opacity="0.5"/><ellipse cx="1882.3" cy="1962.8" rx="6.3" ry="6.3" fill="#6f88b5"/><ellipse cx="1882.3" cy="1980.4" rx="6.3" ry="6.3" fill="#6f88b5"/><ellipse cx="1882.3" cy="1994" rx="5.3" ry="4" fill="#6f88b5" fill-opacity="0.7"/><ellipse cx="1882.3" cy="2011" rx="4" ry="3.2" fill="#6f88b5" fill-opacity="0.35"/><ellipse cx="1882.3" cy="2026.6" rx="5.4" ry="7.1" fill="#6f88b5" fill-opacity="0.75"/><ellipse cx="1882.3" cy="2041.6" rx="6" ry="6.3" fill="#6f88b5" fill-opacity="0.9"/><ellipse cx="1882.3" cy="2056.3" rx="5.6" ry="5.6" fill="#6f88b5" fill-opacity="0.8"/><ellipse cx="1882.3" cy="2091.7" rx="5.3" ry="4" fill="#6f88b5" fill-opacity="0.7"/><ellipse cx="1882.3" cy="2136.2" rx="4.9" ry="3.2" fill="#6f88b5" fill-opacity="0.6"/><ellipse cx="1896.4" cy="1909" rx="4" ry="5.6" fill="#6f88b5" fill-opacity="0.35"/><ellipse cx="1896.4" cy="1931.6" rx="5.8" ry="10.3" fill="#6f88b5" fill-opacity="0.85"/><ellipse cx="1896.4" cy="1943" rx="4.5" ry="4" fill="#6f88b5" fill-opacity="0.5"/><ellipse cx="1896.4" cy="1962.8" rx="6.3" ry="6.3" fill="#6f88b5"/><ellipse cx="1896.4" cy="1980.4" rx="6.3" ry="6.3" fill="#6f88b5"/><ellipse cx="1896.4" cy="1994" rx="5.3" ry="4" fill="#6f88b5" fill-opacity="0.7"/><ellipse cx="1896.4" cy="2011" rx="4" ry="3.2" fill="#6f88b5" fill-opacity="0.35"/><ellipse cx="1896.4" cy="2026.6" rx="5.4" ry="7.1" fill="#6f88b5" fill-opacity="0.75"/><ellipse cx="1896.4" cy="2041.6" rx="6" ry="6.3" fill="#6f88b5" fill-opacity="0.9"/><ellipse cx="1896.4" cy="2056.3" rx="5.6" ry="5.6" fill="#6f88b5" fill-opacity="0.8"/><ellipse cx="1896.4" cy="2091.7" rx="5.3" ry="4" fill="#6f88b5" fill-opacity="0.7"/><ellipse cx="1896.4" cy="2136.2" rx="4.9" ry="3.2" fill="#6f88b5" fill-opacity="0.6"/><rect x="1817.1" y="1960.8" width="87.8" height="4" fill="#6f88b5" fill-opacity="0.55"/><rect x="1817.1" y="1978.4" width="87.8" height="4" fill="#6f88b5" fill-opacity="0.6"/><rect x="1820" y="1992" width="85" height="4" fill="#6f88b5" fill-opacity="0.35"/><rect x="1817.1" y="2039.6" width="87.8" height="4" fill="#6f88b5" fill-opacity="0.35"/><rect x="1820" y="2054.3" width="85" height="4" fill="#6f88b5" fill-opacity="0.3"/><rect x="1814.3" y="2089.7" width="90.7" height="4" fill="#6f88b5" fill-opacity="0.5"/><rect x="1839.8" y="2134.2" width="65.2" height="4" fill="#6f88b5" fill-opacity="0.5"/><rect x="1735" y="1978.4" width="36.8" height="4" fill="#6f88b5" fill-opacity="0.45"/><rect x="1732.1" y="1960.8" width="19.8" height="4" fill="#6f88b5" fill-opacity="0.4"/><ellipse cx="1759" cy="1962.8" rx="2" ry="1.1" fill="#6f88b5" fill-opacity="0.55"/><ellipse cx="1759" cy="1980.4" rx="2" ry="1.1" fill="#6f88b5" fill-opacity="0.55"/><ellipse cx="1759" cy="1994" rx="2" ry="1.1" fill="#6f88b5" fill-opacity="0.55"/><ellipse cx="1769" cy="1962.8" rx="2" ry="1.1" fill="#6f88b5" fill-opacity="0.55"/><ellipse cx="1769" cy="1980.4" rx="2" ry="1.1" fill="#6f88b5" fill-opacity="0.55"/><ellipse cx="1769" cy="1994" rx="2" ry="1.1" fill="#6f88b5" fill-opacity="0.55"/><ellipse cx="1801.5" cy="1962.8" rx="2" ry="1.1" fill="#6f88b5" fill-opacity="0.55"/><ellipse cx="1801.5" cy="1980.4" rx="2" ry="1.1" fill="#6f88b5" fill-opacity="0.55"/><ellipse cx="1801.5" cy="1994" rx="2" ry="1.1" fill="#6f88b5" fill-opacity="0.55"/><ellipse cx="1801.5" cy="1928.8" rx="2.3" ry="2.8" fill="#6f88b5" fill-opacity="0.4"/><ellipse cx="1855.4" cy="1931.6" rx="3.4" ry="4.5" fill="#6f88b5" fill-opacity="0.7"/><ellipse cx="1774.6" cy="2090.3" rx="5.7" ry="2.3" fill="#6f88b5" fill-opacity="0.5"/><ellipse cx="1759" cy="2136.2" rx="4" ry="1.7" fill="#6f88b5" fill-opacity="0.6"/><ellipse cx="1820" cy="2136.2" rx="2.3" ry="1.4" fill="#6f88b5" fill-opacity="0.5"/><ellipse cx="1876.6" cy="2136.2" rx="8.5" ry="2.8" fill="#6f88b5" fill-opacity="0.7"/></g></g>
<rect x="1664.8" y="1897.8" width="242.2" height="254.4" fill="none" stroke="#111" stroke-width="1.3"/>
<clipPath id="ic4"><rect x="1218.4" y="2176.6" width="254.2" height="143.6"/></clipPath>
<g clip-path="url(#ic4)"><g filter="url(#ib2)"><ellipse cx="1370.7" cy="2212.5" rx="5.2" ry="10.4" fill="#6f88b5" fill-opacity="0.3"/><rect x="1219.7" y="2268.4" width="46.9" height="16.9" fill="#6f88b5" fill-opacity="0.35"/><rect x="1277" y="2272.3" width="41.6" height="23.4" fill="#6f88b5" fill-opacity="0.25"/><path d="M1329.1 2295.8L1349.9 2274.9L1360.3 2272.3L1349.9 2295.8Z" fill="#6f88b5" fill-opacity="0.3"/><rect x="1396.7" y="2277.5" width="36.4" height="20.8" fill="#6f88b5" fill-opacity="0.3"/><rect x="1446.2" y="2280.1" width="26" height="40.3" fill="#6f88b5" fill-opacity="0.3"/></g><g filter="url(#ib)"><ellipse cx="1224.9" cy="2228.1" rx="2.2" ry="1.9" fill="#6f88b5" fill-opacity="0.2"/><ellipse cx="1224.9" cy="2242.7" rx="2.6" ry="1.9" fill="#6f88b5" fill-opacity="0.29"/><ellipse cx="1235.9" cy="2228.1" rx="2.2" ry="1.9" fill="#6f88b5" fill-opacity="0.2"/><ellipse cx="1235.9" cy="2242.7" rx="2.6" ry="1.9" fill="#6f88b5" fill-opacity="0.29"/><ellipse cx="1253" cy="2228.1" rx="3.8" ry="2.6" fill="#6f88b5" fill-opacity="0.4"/><ellipse cx="1253" cy="2242.7" rx="4.5" ry="2.6" fill="#6f88b5" fill-opacity="0.58"/><ellipse cx="1261.9" cy="2228.1" rx="2.7" ry="2.2" fill="#6f88b5" fill-opacity="0.3"/><ellipse cx="1261.9" cy="2242.7" rx="3.2" ry="2.2" fill="#6f88b5" fill-opacity="0.43"/><ellipse cx="1283.5" cy="2228.1" rx="3.2" ry="2.6" fill="#6f88b5" fill-opacity="0.4"/><ellipse cx="1283.5" cy="2242.7" rx="3.9" ry="2.6" fill="#6f88b5" fill-opacity="0.58"/><ellipse cx="1300.4" cy="2228.1" rx="3.2" ry="2.7" fill="#6f88b5" fill-opacity="0.45"/><ellipse cx="1300.4" cy="2242.7" rx="3.9" ry="2.7" fill="#6f88b5" fill-opacity="0.65"/><ellipse cx="1314" cy="2228.1" rx="2.7" ry="2.2" fill="#6f88b5" fill-opacity="0.3"/><ellipse cx="1314" cy="2242.7" rx="3.2" ry="2.2" fill="#6f88b5" fill-opacity="0.43"/><ellipse cx="1360.3" cy="2228.1" rx="7.7" ry="4.8" fill="#6f88b5" fill-opacity="0.72"/><ellipse cx="1360.3" cy="2242.7" rx="7.2" ry="4.1" fill="#6f88b5" fill-opacity="0.63"/><ellipse cx="1360.3" cy="2254.1" rx="6.2" ry="3.4" fill="#6f88b5" fill-opacity="0.45"/><ellipse cx="1360.3" cy="2269.2" rx="8.7" ry="7.6" fill="#6f88b5" fill-opacity="0.9"/><ellipse cx="1372" cy="2228.1" rx="7.7" ry="5.1" fill="#6f88b5" fill-opacity="0.8"/><ellipse cx="1372" cy="2242.7" rx="7.2" ry="4.4" fill="#6f88b5" fill-opacity="0.7"/><ellipse cx="1372" cy="2254.1" rx="6.2" ry="3.6" fill="#6f88b5" fill-opacity="0.5"/><ellipse cx="1372" cy="2269.2" rx="8.7" ry="8" fill="#6f88b5"/><ellipse cx="1379.8" cy="2228.1" rx="4.5" ry="4.5" fill="#6f88b5" fill-opacity="0.64"/><ellipse cx="1379.8" cy="2242.7" rx="4.2" ry="3.9" fill="#6f88b5" fill-opacity="0.56"/><ellipse cx="1379.8" cy="2254.1" rx="3.6" ry="3.2" fill="#6f88b5" fill-opacity="0.4"/><ellipse cx="1379.8" cy="2269.2" rx="5.1" ry="7.1" fill="#6f88b5" fill-opacity="0.8"/><ellipse cx="1224.9" cy="2273.6" rx="3" ry="5.6" fill="#6f88b5" fill-opacity="0.38"/><ellipse cx="1235.9" cy="2273.6" rx="3.6" ry="6" fill="#6f88b5" fill-opacity="0.44"/><ellipse cx="1253" cy="2273.6" rx="4.8" ry="6.5" fill="#6f88b5" fill-opacity="0.5"/><ellipse cx="1261.9" cy="2273.6" rx="3" ry="6" fill="#6f88b5" fill-opacity="0.44"/><ellipse cx="1283.5" cy="2280.1" rx="2.8" ry="5.6" fill="#6f88b5" fill-opacity="0.32"/><ellipse cx="1283.5" cy="2305.4" rx="3.4" ry="2.8" fill="#6f88b5" fill-opacity="0.49"/><ellipse cx="1300.4" cy="2280.1" rx="3.4" ry="6" fill="#6f88b5" fill-opacity="0.38"/><ellipse cx="1300.4" cy="2305.4" rx="4.1" ry="3" fill="#6f88b5" fill-opacity="0.57"/><ellipse cx="1314" cy="2280.1" rx="2.8" ry="5.6" fill="#6f88b5" fill-opacity="0.32"/><ellipse cx="1314" cy="2305.4" rx="3.4" ry="2.8" fill="#6f88b5" fill-opacity="0.49"/><ellipse cx="1344.7" cy="2305.4" rx="2.1" ry="2.6" fill="#6f88b5" fill-opacity="0.6"/><ellipse cx="1330.4" cy="2305.4" rx="1.3" ry="1.6" fill="#6f88b5" fill-opacity="0.4"/><ellipse cx="1412.3" cy="2288" rx="4.7" ry="5.2" fill="#6f88b5" fill-opacity="0.6"/><ellipse cx="1428.5" cy="2305.4" rx="2.6" ry="3.1" fill="#6f88b5" fill-opacity="0.6"/><ellipse cx="1412.3" cy="2305.4" rx="5.2" ry="3.1" fill="#6f88b5" fill-opacity="0.7"/><ellipse cx="1456.6" cy="2285.3" rx="3.1" ry="4.2" fill="#6f88b5" fill-opacity="0.6"/><ellipse cx="1463.1" cy="2316.6" rx="10.4" ry="3.6" fill="#6f88b5" fill-opacity="0.7"/><ellipse cx="1303" cy="2319.2" rx="7.8" ry="1.6" fill="#6f88b5" fill-opacity="0.5"/><ellipse cx="1420.2" cy="2319.2" rx="7.8" ry="1.6" fill="#6f88b5" fill-opacity="0.4"/></g></g>
<rect x="1218.4" y="2176.6" width="254.2" height="143.6" fill="none" stroke="#111" stroke-width="1.3"/>
<clipPath id="ic5"><rect x="1496.5" y="2176.6" width="144" height="143.6"/></clipPath>
<g clip-path="url(#ic5)"><g filter="url(#ib2)"><rect x="1547.4" y="2176.9" width="6.8" height="42.5" fill="#6f88b5" fill-opacity="0.5"/><rect x="1555.9" y="2176.9" width="6.8" height="42.5" fill="#6f88b5" fill-opacity="0.25"/><rect x="1564.4" y="2176.9" width="6.8" height="42.5" fill="#6f88b5" fill-opacity="0.55"/><rect x="1572.9" y="2176.9" width="6.8" height="42.5" fill="#6f88b5" fill-opacity="0.3"/><rect x="1581.4" y="2176.9" width="6.8" height="42.5" fill="#6f88b5" fill-opacity="0.5"/><rect x="1588.5" y="2176.9" width="6.8" height="42.5" fill="#6f88b5" fill-opacity="0.2"/><rect x="1496.4" y="2227.9" width="43.1" height="5.7" fill="#6f88b5" fill-opacity="0.5"/><rect x="1496.4" y="2236.4" width="43.1" height="5.7" fill="#6f88b5" fill-opacity="0.3"/><rect x="1496.4" y="2246.3" width="43.1" height="5.7" fill="#6f88b5" fill-opacity="0.55"/><rect x="1496.4" y="2256.2" width="43.1" height="5.7" fill="#6f88b5" fill-opacity="0.35"/><rect x="1496.4" y="2226.5" width="40.2" height="42.5" fill="#6f88b5" fill-opacity="0.15"/></g><g filter="url(#ib)"><rect x="1496.4" y="2176.9" width="50.1" height="49.6" fill="#6f88b5"/><rect x="1526.7" y="2176.9" width="9.9" height="9.9" fill="#a9bbd8"/><rect x="1536.7" y="2176.9" width="9.9" height="9.9" fill="#dbe4f0"/><rect x="1496.4" y="2206.7" width="9.9" height="9.9" fill="#a9bbd8"/><rect x="1496.4" y="2216.6" width="9.9" height="9.9" fill="#dbe4f0"/><rect x="1506.9" y="2216.6" width="9.9" height="9.9" fill="#a9bbd8"/><rect x="1506.9" y="2186.8" width="9.9" height="9.9" fill="#fff"/><rect x="1516.8" y="2196.7" width="9.9" height="9.9" fill="#fff"/><rect x="1526.7" y="2206.7" width="9.9" height="9.9" fill="#fff"/><rect x="1536.7" y="2216.6" width="9.9" height="9.9" fill="#fff"/><rect x="1496.4" y="2176.9" width="10.5" height="9.9" fill="#8298c0"/><path d="M1536.7 2218L1593.3 2218L1599 2235L1593.3 2252L1587.7 2269L1604.6 2283.1L1640.6 2283.1L1640.6 2320L1604.6 2320L1599 2297.3L1582 2277.5L1559.3 2280.3L1536.7 2274.6Z" fill="#6f88b5"/><ellipse cx="1565" cy="2283.1" rx="4" ry="2.8" fill="#fff"/><ellipse cx="1596.2" cy="2269" rx="4" ry="4" fill="#fff"/></g><path d="M1496.5 2176.6L1640.5 2320.2" stroke="#e4eaf3" stroke-width="0.9" fill="none"/></g>
<rect x="1496.5" y="2176.6" width="144" height="143.6" fill="none" stroke="#111" stroke-width="1.3"/>
<clipPath id="ic6"><rect x="1664.8" y="2176.6" width="242.2" height="143.6"/></clipPath>
<g clip-path="url(#ic6)"><g filter="url(#ib2)"><ellipse cx="1735" cy="2240.7" rx="13.6" ry="25.5" fill="#6f88b5" fill-opacity="0.5"/><rect x="1720.8" y="2186.8" width="22.7" height="31.2" fill="#6f88b5" fill-opacity="0.2"/><rect x="1791.6" y="2186.8" width="19.8" height="8.5" fill="#6f88b5" fill-opacity="0.2"/><path d="M1729.3 2263.3L1746.3 2263.3L1757.6 2291.6L1774.6 2308.6L1752 2320L1740.6 2291.6Z" fill="#6f88b5" fill-opacity="0.35"/><rect x="1797.3" y="2266.2" width="5.7" height="53.8" fill="#6f88b5" fill-opacity="0.4"/><rect x="1805.8" y="2266.2" width="5.7" height="53.8" fill="#6f88b5" fill-opacity="0.3"/><rect x="1817.1" y="2266.2" width="5.7" height="53.8" fill="#6f88b5" fill-opacity="0.35"/><rect x="1831.3" y="2266.2" width="5.7" height="53.8" fill="#6f88b5" fill-opacity="0.3"/><rect x="1845.4" y="2266.2" width="5.7" height="53.8" fill="#6f88b5" fill-opacity="0.3"/><rect x="1870.9" y="2266.2" width="5.7" height="53.8" fill="#6f88b5" fill-opacity="0.5"/><rect x="1879.4" y="2266.2" width="5.7" height="53.8" fill="#6f88b5" fill-opacity="0.55"/><rect x="1893.6" y="2266.2" width="5.7" height="53.8" fill="#6f88b5" fill-opacity="0.4"/><path d="M1870.9 2283.1L1906.9 2257.7L1906.9 2286L1882.3 2308.6Z" fill="#6f88b5" fill-opacity="0.4"/></g><g filter="url(#ib)"><rect x="1724.2" y="2218" width="22.1" height="45.3" fill="#6f88b5" fill-opacity="0.95"/><ellipse cx="1800.1" cy="2232.2" rx="6.2" ry="3.1" fill="#6f88b5" fill-opacity="0.57"/><ellipse cx="1800.1" cy="2243.5" rx="6.3" ry="3.1" fill="#6f88b5" fill-opacity="0.6"/><ellipse cx="1800.1" cy="2254.3" rx="5.6" ry="2.4" fill="#6f88b5" fill-opacity="0.48"/><ellipse cx="1824.2" cy="2232.2" rx="8.5" ry="4" fill="#6f88b5" fill-opacity="0.95"/><ellipse cx="1824.2" cy="2243.5" rx="8.7" ry="4" fill="#6f88b5"/><ellipse cx="1824.2" cy="2254.3" rx="7.7" ry="3.2" fill="#6f88b5" fill-opacity="0.8"/><ellipse cx="1834.1" cy="2232.2" rx="8.5" ry="4" fill="#6f88b5" fill-opacity="0.95"/><ellipse cx="1834.1" cy="2243.5" rx="8.7" ry="4" fill="#6f88b5"/><ellipse cx="1834.1" cy="2254.3" rx="7.7" ry="3.2" fill="#6f88b5" fill-opacity="0.8"/><ellipse cx="1851.1" cy="2232.2" rx="5.4" ry="3.7" fill="#6f88b5" fill-opacity="0.85"/><ellipse cx="1851.1" cy="2243.5" rx="5.6" ry="3.7" fill="#6f88b5" fill-opacity="0.9"/><ellipse cx="1851.1" cy="2254.3" rx="4.9" ry="3" fill="#6f88b5" fill-opacity="0.72"/><ellipse cx="1887.9" cy="2232.2" rx="6.2" ry="3.7" fill="#6f88b5" fill-opacity="0.85"/><ellipse cx="1887.9" cy="2243.5" rx="6.3" ry="3.7" fill="#6f88b5" fill-opacity="0.9"/><ellipse cx="1887.9" cy="2254.3" rx="5.6" ry="3" fill="#6f88b5" fill-opacity="0.72"/><ellipse cx="1899.3" cy="2232.2" rx="6.9" ry="4" fill="#6f88b5" fill-opacity="0.95"/><ellipse cx="1899.3" cy="2243.5" rx="7.1" ry="4" fill="#6f88b5"/><ellipse cx="1899.3" cy="2254.3" rx="6.3" ry="3.2" fill="#6f88b5" fill-opacity="0.8"/><rect x="1817.1" y="2230.5" width="42.5" height="3.4" fill="#6f88b5" fill-opacity="0.6"/><ellipse cx="1761.9" cy="2232.2" rx="1.7" ry="1.1" fill="#6f88b5" fill-opacity="0.6"/><ellipse cx="1769" cy="2232.2" rx="1.7" ry="1.1" fill="#6f88b5" fill-opacity="0.6"/><rect x="1817.1" y="2241.8" width="42.5" height="3.4" fill="#6f88b5" fill-opacity="0.6"/><ellipse cx="1761.9" cy="2243.5" rx="1.7" ry="1.1" fill="#6f88b5" fill-opacity="0.6"/><ellipse cx="1769" cy="2243.5" rx="1.7" ry="1.1" fill="#6f88b5" fill-opacity="0.6"/><rect x="1817.1" y="2252.6" width="42.5" height="3.4" fill="#6f88b5" fill-opacity="0.6"/><ellipse cx="1761.9" cy="2254.3" rx="1.7" ry="1.1" fill="#6f88b5" fill-opacity="0.6"/><ellipse cx="1769" cy="2254.3" rx="1.7" ry="1.1" fill="#6f88b5" fill-opacity="0.6"/><rect x="1879.4" y="2223.7" width="27.5" height="11.3" fill="#6f88b5" fill-opacity="0.7"/><ellipse cx="1834.1" cy="2263.3" rx="3.4" ry="5.7" fill="#6f88b5" fill-opacity="0.4"/><ellipse cx="1756.2" cy="2305.2" rx="5.2" ry="3.5" fill="#6f88b5" fill-opacity="0.72"/><ellipse cx="1769" cy="2305.2" rx="3" ry="3.1" fill="#6f88b5" fill-opacity="0.54"/><ellipse cx="1777.5" cy="2305.2" rx="3" ry="3.1" fill="#6f88b5" fill-opacity="0.54"/><ellipse cx="1820" cy="2305.2" rx="3.7" ry="3.1" fill="#6f88b5" fill-opacity="0.54"/><ellipse cx="1845.4" cy="2305.2" rx="4.5" ry="3.1" fill="#6f88b5" fill-opacity="0.54"/><ellipse cx="1878" cy="2305.2" rx="6.7" ry="3.7" fill="#6f88b5" fill-opacity="0.81"/><ellipse cx="1890.8" cy="2305.2" rx="3.7" ry="3.5" fill="#6f88b5" fill-opacity="0.72"/><ellipse cx="1897.9" cy="2305.2" rx="3" ry="3.3" fill="#6f88b5" fill-opacity="0.63"/></g></g>
<rect x="1664.8" y="2176.6" width="242.2" height="143.6" fill="none" stroke="#111" stroke-width="1.3"/>
<clipPath id="ic7"><rect x="1218.4" y="2344.8" width="254.2" height="241.6"/></clipPath>
<g clip-path="url(#ic7)"><g filter="url(#ib2)"><rect x="1219.7" y="2399.9" width="46.9" height="20.8" fill="#6f88b5" fill-opacity="0.3"/><rect x="1277" y="2402.5" width="28.6" height="18.2" fill="#6f88b5" fill-opacity="0.25"/><rect x="1347.3" y="2397.3" width="52.1" height="23.4" fill="#6f88b5" fill-opacity="0.3"/><ellipse cx="1408.4" cy="2453.2" rx="5.2" ry="6.8" fill="#6f88b5" fill-opacity="0.45"/><ellipse cx="1407.1" cy="2524.8" rx="10.4" ry="13" fill="#6f88b5" fill-opacity="0.35"/><rect x="1391.5" y="2556" width="41.6" height="26" fill="#6f88b5" fill-opacity="0.3"/></g><g filter="url(#ib)"><ellipse cx="1224.9" cy="2414.2" rx="2.5" ry="5.7" fill="#6f88b5" fill-opacity="0.38"/><ellipse cx="1235.9" cy="2414.2" rx="3.1" ry="6.2" fill="#6f88b5" fill-opacity="0.45"/><ellipse cx="1251" cy="2414.2" rx="6.2" ry="8" fill="#6f88b5" fill-opacity="0.75"/><ellipse cx="1261.9" cy="2414.2" rx="3.1" ry="6.6" fill="#6f88b5" fill-opacity="0.52"/><ellipse cx="1282.2" cy="2414.2" rx="5" ry="8" fill="#6f88b5" fill-opacity="0.75"/><ellipse cx="1300.4" cy="2414.2" rx="5.6" ry="8" fill="#6f88b5" fill-opacity="0.75"/><ellipse cx="1314.7" cy="2414.2" rx="3.7" ry="7.1" fill="#6f88b5" fill-opacity="0.6"/><ellipse cx="1344.7" cy="2414.2" rx="3.7" ry="6.6" fill="#6f88b5" fill-opacity="0.52"/><ellipse cx="1360.3" cy="2414.2" rx="6.2" ry="8" fill="#6f88b5" fill-opacity="0.75"/><ellipse cx="1373.3" cy="2414.2" rx="6.2" ry="8" fill="#6f88b5" fill-opacity="0.75"/><ellipse cx="1381.1" cy="2414.2" rx="3.1" ry="6.2" fill="#6f88b5" fill-opacity="0.45"/><ellipse cx="1368.1" cy="2412.9" rx="15.6" ry="8.8" fill="#6f88b5" fill-opacity="0.9"/><ellipse cx="1253.6" cy="2418.1" rx="10.4" ry="7.8" fill="#6f88b5" fill-opacity="0.6"/><ellipse cx="1300.4" cy="2429.8" rx="2.1" ry="2.7" fill="#6f88b5" fill-opacity="0.45"/><ellipse cx="1300.4" cy="2439.4" rx="2.6" ry="3.4" fill="#6f88b5" fill-opacity="0.72"/><ellipse cx="1300.4" cy="2450.6" rx="2.1" ry="2.7" fill="#6f88b5" fill-opacity="0.45"/><ellipse cx="1283.5" cy="2429.8" rx="1.3" ry="1.9" fill="#6f88b5" fill-opacity="0.2"/><ellipse cx="1283.5" cy="2439.4" rx="1.6" ry="2.4" fill="#6f88b5" fill-opacity="0.32"/><ellipse cx="1283.5" cy="2450.6" rx="1.3" ry="1.9" fill="#6f88b5" fill-opacity="0.2"/><ellipse cx="1313.4" cy="2429.8" rx="1.3" ry="1.9" fill="#6f88b5" fill-opacity="0.2"/><ellipse cx="1313.4" cy="2439.4" rx="1.6" ry="2.4" fill="#6f88b5" fill-opacity="0.32"/><ellipse cx="1313.4" cy="2450.6" rx="1.3" ry="1.9" fill="#6f88b5" fill-opacity="0.2"/><ellipse cx="1455.3" cy="2429.8" rx="2.1" ry="2.6" fill="#6f88b5" fill-opacity="0.4"/><ellipse cx="1455.3" cy="2439.4" rx="2.6" ry="3.2" fill="#6f88b5" fill-opacity="0.64"/><ellipse cx="1455.3" cy="2450.6" rx="2.1" ry="2.6" fill="#6f88b5" fill-opacity="0.4"/><ellipse cx="1468.3" cy="2429.8" rx="1.6" ry="2.1" fill="#6f88b5" fill-opacity="0.25"/><ellipse cx="1468.3" cy="2439.4" rx="1.9" ry="2.6" fill="#6f88b5" fill-opacity="0.4"/><ellipse cx="1468.3" cy="2450.6" rx="1.6" ry="2.1" fill="#6f88b5" fill-opacity="0.25"/><ellipse cx="1251" cy="2483.2" rx="2.6" ry="3.6" fill="#6f88b5" fill-opacity="0.4"/><ellipse cx="1283.5" cy="2483.2" rx="1.6" ry="3.9" fill="#6f88b5" fill-opacity="0.48"/><ellipse cx="1300.4" cy="2483.2" rx="2.6" ry="4.5" fill="#6f88b5" fill-opacity="0.64"/><ellipse cx="1360.3" cy="2483.2" rx="1.6" ry="4.2" fill="#6f88b5" fill-opacity="0.56"/><ellipse cx="1373.8" cy="2483.2" rx="1.9" ry="4.2" fill="#6f88b5" fill-opacity="0.56"/><ellipse cx="1410.3" cy="2483.2" rx="1.9" ry="4.2" fill="#6f88b5" fill-opacity="0.56"/><ellipse cx="1224.9" cy="2501.4" rx="2.2" ry="3.6" fill="#6f88b5" fill-opacity="0.3"/><ellipse cx="1224.9" cy="2510.5" rx="2.9" ry="6.2" fill="#6f88b5" fill-opacity="0.5"/><ellipse cx="1224.9" cy="2520.9" rx="2.2" ry="3.6" fill="#6f88b5" fill-opacity="0.3"/><ellipse cx="1224.9" cy="2535.2" rx="2.7" ry="3.6" fill="#6f88b5" fill-opacity="0.42"/><ellipse cx="1224.9" cy="2556" rx="2.2" ry="3.1" fill="#6f88b5" fill-opacity="0.3"/><ellipse cx="1224.9" cy="2565.9" rx="2.9" ry="5.2" fill="#6f88b5" fill-opacity="0.5"/><ellipse cx="1224.9" cy="2577.4" rx="2.9" ry="4.2" fill="#6f88b5" fill-opacity="0.5"/><ellipse cx="1235.9" cy="2501.4" rx="2.8" ry="3.9" fill="#6f88b5" fill-opacity="0.36"/><ellipse cx="1235.9" cy="2510.5" rx="3.6" ry="6.7" fill="#6f88b5" fill-opacity="0.6"/><ellipse cx="1235.9" cy="2520.9" rx="2.8" ry="3.9" fill="#6f88b5" fill-opacity="0.36"/><ellipse cx="1235.9" cy="2535.2" rx="3.3" ry="3.9" fill="#6f88b5" fill-opacity="0.51"/><ellipse cx="1235.9" cy="2556" rx="2.8" ry="3.4" fill="#6f88b5" fill-opacity="0.36"/><ellipse cx="1235.9" cy="2565.9" rx="3.6" ry="5.6" fill="#6f88b5" fill-opacity="0.6"/><ellipse cx="1235.9" cy="2577.4" rx="3.6" ry="4.5" fill="#6f88b5" fill-opacity="0.6"/><ellipse cx="1251" cy="2501.4" rx="5.6" ry="5.1" fill="#6f88b5" fill-opacity="0.6"/><ellipse cx="1251" cy="2510.5" rx="7.3" ry="8.7" fill="#6f88b5"/><ellipse cx="1251" cy="2520.9" rx="5.6" ry="5.1" fill="#6f88b5" fill-opacity="0.6"/><ellipse cx="1251" cy="2535.2" rx="6.7" ry="5.1" fill="#6f88b5" fill-opacity="0.85"/><ellipse cx="1251" cy="2556" rx="5.6" ry="4.4" fill="#6f88b5" fill-opacity="0.6"/><ellipse cx="1251" cy="2565.9" rx="7.3" ry="7.3" fill="#6f88b5"/><ellipse cx="1251" cy="2577.4" rx="7.3" ry="5.8" fill="#6f88b5"/><ellipse cx="1261.9" cy="2501.4" rx="2.8" ry="4.2" fill="#6f88b5" fill-opacity="0.42"/><ellipse cx="1261.9" cy="2510.5" rx="3.6" ry="7.2" fill="#6f88b5" fill-opacity="0.7"/><ellipse cx="1261.9" cy="2520.9" rx="2.8" ry="4.2" fill="#6f88b5" fill-opacity="0.42"/><ellipse cx="1261.9" cy="2535.2" rx="3.3" ry="4.2" fill="#6f88b5" fill-opacity="0.59"/><ellipse cx="1261.9" cy="2556" rx="2.8" ry="3.6" fill="#6f88b5" fill-opacity="0.42"/><ellipse cx="1261.9" cy="2565.9" rx="3.6" ry="6" fill="#6f88b5" fill-opacity="0.7"/><ellipse cx="1261.9" cy="2577.4" rx="3.6" ry="4.8" fill="#6f88b5" fill-opacity="0.7"/><ellipse cx="1282.2" cy="2501.4" rx="4.5" ry="5.1" fill="#6f88b5" fill-opacity="0.6"/><ellipse cx="1282.2" cy="2510.5" rx="5.8" ry="8.7" fill="#6f88b5"/><ellipse cx="1282.2" cy="2520.9" rx="4.5" ry="5.1" fill="#6f88b5" fill-opacity="0.6"/><ellipse cx="1282.2" cy="2535.2" rx="5.3" ry="5.1" fill="#6f88b5" fill-opacity="0.85"/><ellipse cx="1282.2" cy="2556" rx="4.5" ry="4.4" fill="#6f88b5" fill-opacity="0.6"/><ellipse cx="1282.2" cy="2565.9" rx="5.8" ry="7.3" fill="#6f88b5"/><ellipse cx="1282.2" cy="2577.4" rx="5.8" ry="5.8" fill="#6f88b5"/><ellipse cx="1300.4" cy="2501.4" rx="5.1" ry="5.1" fill="#6f88b5" fill-opacity="0.6"/><ellipse cx="1300.4" cy="2510.5" rx="6.6" ry="8.7" fill="#6f88b5"/><ellipse cx="1300.4" cy="2520.9" rx="5.1" ry="5.1" fill="#6f88b5" fill-opacity="0.6"/><ellipse cx="1300.4" cy="2535.2" rx="6" ry="5.1" fill="#6f88b5" fill-opacity="0.85"/><ellipse cx="1300.4" cy="2556" rx="5.1" ry="4.4" fill="#6f88b5" fill-opacity="0.6"/><ellipse cx="1300.4" cy="2565.9" rx="6.6" ry="7.3" fill="#6f88b5"/><ellipse cx="1300.4" cy="2577.4" rx="6.6" ry="5.8" fill="#6f88b5"/><ellipse cx="1314.7" cy="2501.4" rx="3.4" ry="4.5" fill="#6f88b5" fill-opacity="0.48"/><ellipse cx="1314.7" cy="2510.5" rx="4.4" ry="7.7" fill="#6f88b5" fill-opacity="0.8"/><ellipse cx="1314.7" cy="2520.9" rx="3.4" ry="4.5" fill="#6f88b5" fill-opacity="0.48"/><ellipse cx="1314.7" cy="2535.2" rx="4" ry="4.5" fill="#6f88b5" fill-opacity="0.68"/><ellipse cx="1314.7" cy="2556" rx="3.4" ry="3.9" fill="#6f88b5" fill-opacity="0.48"/><ellipse cx="1314.7" cy="2565.9" rx="4.4" ry="6.5" fill="#6f88b5" fill-opacity="0.8"/><ellipse cx="1314.7" cy="2577.4" rx="4.4" ry="5.2" fill="#6f88b5" fill-opacity="0.8"/><ellipse cx="1344.7" cy="2501.4" rx="3.4" ry="4.2" fill="#6f88b5" fill-opacity="0.42"/><ellipse cx="1344.7" cy="2510.5" rx="4.4" ry="7.2" fill="#6f88b5" fill-opacity="0.7"/><ellipse cx="1344.7" cy="2520.9" rx="3.4" ry="4.2" fill="#6f88b5" fill-opacity="0.42"/><ellipse cx="1344.7" cy="2535.2" rx="4" ry="4.2" fill="#6f88b5" fill-opacity="0.59"/><ellipse cx="1344.7" cy="2556" rx="3.4" ry="3.6" fill="#6f88b5" fill-opacity="0.42"/><ellipse cx="1344.7" cy="2565.9" rx="4.4" ry="6" fill="#6f88b5" fill-opacity="0.7"/><ellipse cx="1344.7" cy="2577.4" rx="4.4" ry="4.8" fill="#6f88b5" fill-opacity="0.7"/><ellipse cx="1360.3" cy="2501.4" rx="5.6" ry="5.1" fill="#6f88b5" fill-opacity="0.6"/><ellipse cx="1360.3" cy="2510.5" rx="7.3" ry="8.7" fill="#6f88b5"/><ellipse cx="1360.3" cy="2520.9" rx="5.6" ry="5.1" fill="#6f88b5" fill-opacity="0.6"/><ellipse cx="1360.3" cy="2535.2" rx="6.7" ry="5.1" fill="#6f88b5" fill-opacity="0.85"/><ellipse cx="1360.3" cy="2556" rx="5.6" ry="4.4" fill="#6f88b5" fill-opacity="0.6"/><ellipse cx="1360.3" cy="2565.9" rx="7.3" ry="7.3" fill="#6f88b5"/><ellipse cx="1360.3" cy="2577.4" rx="7.3" ry="5.8" fill="#6f88b5"/><ellipse cx="1373.3" cy="2501.4" rx="5.6" ry="5.1" fill="#6f88b5" fill-opacity="0.6"/><ellipse cx="1373.3" cy="2510.5" rx="7.3" ry="8.7" fill="#6f88b5"/><ellipse cx="1373.3" cy="2520.9" rx="5.6" ry="5.1" fill="#6f88b5" fill-opacity="0.6"/><ellipse cx="1373.3" cy="2535.2" rx="6.7" ry="5.1" fill="#6f88b5" fill-opacity="0.85"/><ellipse cx="1373.3" cy="2556" rx="5.6" ry="4.4" fill="#6f88b5" fill-opacity="0.6"/><ellipse cx="1373.3" cy="2565.9" rx="7.3" ry="7.3" fill="#6f88b5"/><ellipse cx="1373.3" cy="2577.4" rx="7.3" ry="5.8" fill="#6f88b5"/><ellipse cx="1381.1" cy="2501.4" rx="2.8" ry="3.9" fill="#6f88b5" fill-opacity="0.36"/><ellipse cx="1381.1" cy="2510.5" rx="3.6" ry="6.7" fill="#6f88b5" fill-opacity="0.6"/><ellipse cx="1381.1" cy="2520.9" rx="2.8" ry="3.9" fill="#6f88b5" fill-opacity="0.36"/><ellipse cx="1381.1" cy="2535.2" rx="3.3" ry="3.9" fill="#6f88b5" fill-opacity="0.51"/><ellipse cx="1381.1" cy="2556" rx="2.8" ry="3.4" fill="#6f88b5" fill-opacity="0.36"/><ellipse cx="1381.1" cy="2565.9" rx="3.6" ry="5.6" fill="#6f88b5" fill-opacity="0.6"/><ellipse cx="1381.1" cy="2577.4" rx="3.6" ry="4.5" fill="#6f88b5" fill-opacity="0.6"/><ellipse cx="1410.3" cy="2501.4" rx="3.9" ry="4.5" fill="#6f88b5" fill-opacity="0.48"/><ellipse cx="1410.3" cy="2510.5" rx="5.1" ry="7.7" fill="#6f88b5" fill-opacity="0.8"/><ellipse cx="1410.3" cy="2520.9" rx="3.9" ry="4.5" fill="#6f88b5" fill-opacity="0.48"/><ellipse cx="1410.3" cy="2535.2" rx="4.7" ry="4.5" fill="#6f88b5" fill-opacity="0.68"/><ellipse cx="1410.3" cy="2556" rx="3.9" ry="3.9" fill="#6f88b5" fill-opacity="0.48"/><ellipse cx="1410.3" cy="2565.9" rx="5.1" ry="6.5" fill="#6f88b5" fill-opacity="0.8"/><ellipse cx="1410.3" cy="2577.4" rx="5.1" ry="5.2" fill="#6f88b5" fill-opacity="0.8"/><ellipse cx="1455.3" cy="2501.4" rx="3.4" ry="4.5" fill="#6f88b5" fill-opacity="0.48"/><ellipse cx="1455.3" cy="2510.5" rx="4.4" ry="7.7" fill="#6f88b5" fill-opacity="0.8"/><ellipse cx="1455.3" cy="2520.9" rx="3.4" ry="4.5" fill="#6f88b5" fill-opacity="0.48"/><ellipse cx="1455.3" cy="2535.2" rx="4" ry="4.5" fill="#6f88b5" fill-opacity="0.68"/><ellipse cx="1455.3" cy="2556" rx="3.4" ry="3.9" fill="#6f88b5" fill-opacity="0.48"/><ellipse cx="1455.3" cy="2565.9" rx="4.4" ry="6.5" fill="#6f88b5" fill-opacity="0.8"/><ellipse cx="1455.3" cy="2577.4" rx="4.4" ry="5.2" fill="#6f88b5" fill-opacity="0.8"/><ellipse cx="1468.3" cy="2501.4" rx="2.2" ry="3.6" fill="#6f88b5" fill-opacity="0.3"/><ellipse cx="1468.3" cy="2510.5" rx="2.9" ry="6.2" fill="#6f88b5" fill-opacity="0.5"/><ellipse cx="1468.3" cy="2520.9" rx="2.2" ry="3.6" fill="#6f88b5" fill-opacity="0.3"/><ellipse cx="1468.3" cy="2535.2" rx="2.7" ry="3.6" fill="#6f88b5" fill-opacity="0.42"/><ellipse cx="1468.3" cy="2556" rx="2.2" ry="3.1" fill="#6f88b5" fill-opacity="0.3"/><ellipse cx="1468.3" cy="2565.9" rx="2.9" ry="5.2" fill="#6f88b5" fill-opacity="0.5"/><ellipse cx="1468.3" cy="2577.4" rx="2.9" ry="4.2" fill="#6f88b5" fill-opacity="0.5"/><rect x="1221" y="2508.7" width="165.3" height="3.6" fill="#6f88b5" fill-opacity="0.7"/><rect x="1277" y="2533.4" width="85.9" height="3.6" fill="#6f88b5" fill-opacity="0.5"/><rect x="1277" y="2564.1" width="109.3" height="3.6" fill="#6f88b5" fill-opacity="0.6"/><rect x="1266.6" y="2575.6" width="119.7" height="3.6" fill="#6f88b5" fill-opacity="0.8"/></g></g>
<rect x="1218.4" y="2344.8" width="254.2" height="241.6" fill="none" stroke="#111" stroke-width="1.3"/>
<clipPath id="ic8"><rect x="1496.5" y="2344.8" width="144" height="241.6"/></clipPath>
<g clip-path="url(#ic8)"><g filter="url(#ib2)"><ellipse cx="1565" cy="2413.5" rx="31.2" ry="14.2" fill="#6f88b5" fill-opacity="0.5"/><rect x="1505.5" y="2399.3" width="31.2" height="24.1" fill="#6f88b5" fill-opacity="0.2"/><path d="M1593.3 2413.5L1604.6 2422L1640.6 2433.3L1640.6 2461.6L1601.8 2456Z" fill="#6f88b5" fill-opacity="0.35"/><rect x="1584.8" y="2477.2" width="42.5" height="12.7" fill="#6f88b5" fill-opacity="0.3"/><rect x="1505.5" y="2470.1" width="11.3" height="19.8" fill="#6f88b5" fill-opacity="0.2"/><path d="M1587.7 2507L1610.3 2490L1640.6 2484.3L1640.6 2586.3L1593.3 2586.3L1599 2546.6Z" fill="#6f88b5" fill-opacity="0.35"/><rect x="1599" y="2498.5" width="5.7" height="87.8" fill="#6f88b5" fill-opacity="0.3"/><rect x="1610.3" y="2498.5" width="5.7" height="87.8" fill="#6f88b5" fill-opacity="0.4"/><rect x="1622.2" y="2498.5" width="5.7" height="87.8" fill="#6f88b5" fill-opacity="0.5"/><rect x="1631.6" y="2498.5" width="5.7" height="87.8" fill="#6f88b5" fill-opacity="0.45"/><rect x="1593.3" y="2560.8" width="47.3" height="25.5" fill="#6f88b5" fill-opacity="0.4"/></g><g filter="url(#ib)"><rect x="1536.7" y="2402.1" width="56.7" height="20.4" fill="#6f88b5" fill-opacity="0.95"/><ellipse cx="1550.8" cy="2423.4" rx="4" ry="5.7" fill="#6f88b5" fill-opacity="0.9"/><ellipse cx="1562.2" cy="2423.4" rx="4" ry="5.7" fill="#6f88b5" fill-opacity="0.9"/><ellipse cx="1573.5" cy="2423.4" rx="4" ry="5.7" fill="#6f88b5" fill-opacity="0.9"/><ellipse cx="1583.4" cy="2423.4" rx="4" ry="5.7" fill="#6f88b5" fill-opacity="0.9"/><ellipse cx="1624.5" cy="2439" rx="4.2" ry="4.2" fill="#6f88b5" fill-opacity="0.64"/><ellipse cx="1624.5" cy="2450.9" rx="3.9" ry="3.5" fill="#6f88b5" fill-opacity="0.56"/><ellipse cx="1624.5" cy="2463" rx="3.4" ry="2.8" fill="#6f88b5" fill-opacity="0.4"/><ellipse cx="1634.4" cy="2439" rx="3.5" ry="3.9" fill="#6f88b5" fill-opacity="0.56"/><ellipse cx="1634.4" cy="2450.9" rx="3.3" ry="3.3" fill="#6f88b5" fill-opacity="0.49"/><ellipse cx="1634.4" cy="2463" rx="2.8" ry="2.6" fill="#6f88b5" fill-opacity="0.35"/><ellipse cx="1550.8" cy="2441.8" rx="1.6" ry="2.8" fill="#6f88b5" fill-opacity="0.56"/><ellipse cx="1550.8" cy="2450.3" rx="1.6" ry="2.8" fill="#6f88b5" fill-opacity="0.56"/><ellipse cx="1550.8" cy="2459.4" rx="1.6" ry="2.8" fill="#6f88b5" fill-opacity="0.56"/><ellipse cx="1562.2" cy="2441.8" rx="1.6" ry="2.8" fill="#6f88b5" fill-opacity="0.56"/><ellipse cx="1562.2" cy="2450.3" rx="1.6" ry="2.8" fill="#6f88b5" fill-opacity="0.56"/><ellipse cx="1562.2" cy="2459.4" rx="1.6" ry="2.8" fill="#6f88b5" fill-opacity="0.56"/><ellipse cx="1572.4" cy="2441.8" rx="1.6" ry="2.8" fill="#6f88b5" fill-opacity="0.56"/><ellipse cx="1572.4" cy="2450.3" rx="1.6" ry="2.8" fill="#6f88b5" fill-opacity="0.56"/><ellipse cx="1572.4" cy="2459.4" rx="1.6" ry="2.8" fill="#6f88b5" fill-opacity="0.56"/><rect x="1545.2" y="2475.8" width="34" height="9.1" fill="#6f88b5" fill-opacity="0.6"/><ellipse cx="1550.8" cy="2502.1" rx="6.3" ry="5.6" fill="#6f88b5"/><ellipse cx="1550.8" cy="2511.2" rx="6.3" ry="4.8" fill="#6f88b5"/><ellipse cx="1550.8" cy="2519.7" rx="6.3" ry="5.6" fill="#6f88b5"/><ellipse cx="1550.8" cy="2528.2" rx="6" ry="4" fill="#6f88b5" fill-opacity="0.9"/><ellipse cx="1550.8" cy="2538.1" rx="4.9" ry="4" fill="#6f88b5" fill-opacity="0.6"/><ellipse cx="1550.8" cy="2546.6" rx="4.5" ry="3.2" fill="#6f88b5" fill-opacity="0.5"/><ellipse cx="1550.8" cy="2555.1" rx="4.5" ry="3.2" fill="#6f88b5" fill-opacity="0.5"/><ellipse cx="1562.2" cy="2502.1" rx="6.3" ry="5.6" fill="#6f88b5"/><ellipse cx="1562.2" cy="2511.2" rx="6.3" ry="4.8" fill="#6f88b5"/><ellipse cx="1562.2" cy="2519.7" rx="6.3" ry="5.6" fill="#6f88b5"/><ellipse cx="1562.2" cy="2528.2" rx="6" ry="4" fill="#6f88b5" fill-opacity="0.9"/><ellipse cx="1562.2" cy="2538.1" rx="4.9" ry="4" fill="#6f88b5" fill-opacity="0.6"/><ellipse cx="1562.2" cy="2546.6" rx="4.5" ry="3.2" fill="#6f88b5" fill-opacity="0.5"/><ellipse cx="1562.2" cy="2555.1" rx="4.5" ry="3.2" fill="#6f88b5" fill-opacity="0.5"/><ellipse cx="1573.5" cy="2502.1" rx="6.3" ry="5.6" fill="#6f88b5"/><ellipse cx="1573.5" cy="2511.2" rx="6.3" ry="4.8" fill="#6f88b5"/><ellipse cx="1573.5" cy="2519.7" rx="6.3" ry="5.6" fill="#6f88b5"/><ellipse cx="1573.5" cy="2528.2" rx="6" ry="4" fill="#6f88b5" fill-opacity="0.9"/><ellipse cx="1573.5" cy="2538.1" rx="4.9" ry="4" fill="#6f88b5" fill-opacity="0.6"/><ellipse cx="1573.5" cy="2546.6" rx="4.5" ry="3.2" fill="#6f88b5" fill-opacity="0.5"/><ellipse cx="1573.5" cy="2555.1" rx="4.5" ry="3.2" fill="#6f88b5" fill-opacity="0.5"/><ellipse cx="1582.6" cy="2502.1" rx="3.2" ry="4.3" fill="#6f88b5" fill-opacity="0.6"/><ellipse cx="1582.6" cy="2511.2" rx="3.2" ry="3.7" fill="#6f88b5" fill-opacity="0.6"/><ellipse cx="1582.6" cy="2519.7" rx="3.2" ry="4.3" fill="#6f88b5" fill-opacity="0.6"/><ellipse cx="1582.6" cy="2528.2" rx="3" ry="3.1" fill="#6f88b5" fill-opacity="0.54"/><ellipse cx="1582.6" cy="2538.1" rx="2.4" ry="3.1" fill="#6f88b5" fill-opacity="0.36"/><ellipse cx="1582.6" cy="2546.6" rx="2.3" ry="2.4" fill="#6f88b5" fill-opacity="0.3"/><ellipse cx="1582.6" cy="2555.1" rx="2.3" ry="2.4" fill="#6f88b5" fill-opacity="0.3"/><rect x="1538.1" y="2569.3" width="41.1" height="17" fill="#6f88b5" fill-opacity="0.95"/><ellipse cx="1559.3" cy="2566.4" rx="17" ry="4.5" fill="#6f88b5" fill-opacity="0.6"/></g></g>
<rect x="1496.5" y="2344.8" width="144" height="241.6" fill="none" stroke="#111" stroke-width="1.3"/>
<clipPath id="ic9"><rect x="1664.8" y="2344.8" width="242.2" height="241.6"/></clipPath>
<g clip-path="url(#ic9)"><g filter="url(#ib2)"><path d="M1664.7 2396.5L1706.6 2402.1L1718 2422L1678.3 2413.5L1664.7 2410.6Z" fill="#6f88b5" fill-opacity="0.3"/><path d="M1723.6 2344.9L1735 2344.9L1729.3 2393.6L1720.8 2393.6Z" fill="#6f88b5" fill-opacity="0.3"/><path d="M1715.1 2507L1735 2490L1735 2586.3L1723.6 2586.3Z" fill="#6f88b5" fill-opacity="0.3"/></g><g filter="url(#ib)"><path d="M1664.7 2344.9L1720.8 2344.9L1723.6 2365.3L1720.8 2388L1729.3 2405L1746.3 2422L1763.3 2430.5L1786 2422L1797.3 2413.5L1811.5 2422L1825.6 2416.3L1842.6 2413.5L1856.8 2430.5L1876.6 2416.3L1887.9 2422L1906.9 2405L1906.9 2586.3L1729.3 2586.3L1726.5 2557.9L1740.6 2546.6L1735 2529.6L1723.6 2518.3L1735 2504.1L1746.3 2490L1735 2481.5L1740.6 2467.3L1752 2456L1740.6 2444.6L1735 2427.6L1718 2410.6L1701 2405L1678.3 2399.3L1664.7 2396.5Z" fill="#6f88b5"/><ellipse cx="1859.6" cy="2423.4" rx="14.2" ry="6.2" fill="#fff"/><ellipse cx="1835.5" cy="2444.6" rx="19.8" ry="3.4" fill="#fff"/><ellipse cx="1822.8" cy="2454.5" rx="11.3" ry="2.8" fill="#fff"/><ellipse cx="1848.3" cy="2456" rx="11.3" ry="2.8" fill="#fff"/><ellipse cx="1876.6" cy="2444.6" rx="8.5" ry="2.3" fill="#fff"/><ellipse cx="1892.2" cy="2436.1" rx="3.4" ry="14.2" fill="#fff"/><ellipse cx="1770.4" cy="2518.3" rx="11.3" ry="10.2" fill="#fff"/><ellipse cx="1803" cy="2529.6" rx="10.2" ry="14.2" fill="#fff"/><ellipse cx="1773.2" cy="2565" rx="9.6" ry="8.5" fill="#fff"/><ellipse cx="1822.8" cy="2521.1" rx="5.7" ry="11.3" fill="#fff"/><ellipse cx="1752" cy="2557.9" rx="8.5" ry="2.3" fill="#fff"/><ellipse cx="1752" cy="2572.1" rx="8.5" ry="2.3" fill="#fff"/><ellipse cx="1797.3" cy="2569.3" rx="8.5" ry="2.3" fill="#fff"/><ellipse cx="1820" cy="2546.6" rx="5.7" ry="2.3" fill="#fff"/><ellipse cx="1842.6" cy="2475.8" rx="17" ry="2.3" fill="#fff"/><ellipse cx="1845.4" cy="2494.2" rx="14.2" ry="2.3" fill="#fff"/><ellipse cx="1831.3" cy="2507" rx="8.5" ry="2.3" fill="#fff"/><ellipse cx="1876.6" cy="2481.5" rx="5.7" ry="2.3" fill="#fff"/><ellipse cx="1865.3" cy="2512.6" rx="5.7" ry="2.3" fill="#fff"/><ellipse cx="1760.5" cy="2540.9" rx="8.5" ry="2.3" fill="#fff"/><ellipse cx="1791.6" cy="2501.3" rx="2.8" ry="5.7" fill="#fff"/><ellipse cx="1814.3" cy="2484.3" rx="8.5" ry="1.7" fill="#fff"/><ellipse cx="1856.8" cy="2467.3" rx="8.5" ry="1.7" fill="#fff"/><ellipse cx="1749.1" cy="2450.3" rx="5.7" ry="2.3" fill="#fff"/><ellipse cx="1763.3" cy="2467.3" rx="2.8" ry="2.3" fill="#fff"/><ellipse cx="1837" cy="2574.9" rx="11.3" ry="1.7" fill="#fff"/><ellipse cx="1814.3" cy="2580.6" rx="5.7" ry="1.7" fill="#fff"/></g><path d="M1664.8 2344.8L1907.0 2586.4" stroke="#e4eaf3" stroke-width="0.9" fill="none"/></g>
<rect x="1664.8" y="2344.8" width="242.2" height="241.6" fill="none" stroke="#111" stroke-width="1.3"/>
<circle cx="1229.4" cy="1920.1" r="11.5" fill="url(#xg)" fill-opacity="0.88" stroke="#0b210b" stroke-width="1.2"/>
<circle cx="1240.6" cy="1909.2" r="11.5" fill="url(#xg)" fill-opacity="0.88" stroke="#0b210b" stroke-width="1.2"/>
<circle cx="1268.7" cy="1909.2" r="11.5" fill="url(#xg)" fill-opacity="0.88" stroke="#0b210b" stroke-width="1.2"/>
<circle cx="1268.7" cy="1920.1" r="11.5" fill="url(#xg)" fill-opacity="0.88" stroke="#0b210b" stroke-width="1.2"/>
<circle cx="1229.4" cy="1948.3" r="11.5" fill="url(#xg)" fill-opacity="0.88" stroke="#0b210b" stroke-width="1.2"/>
<circle cx="1240.6" cy="1948.3" r="11.5" fill="url(#xg)" fill-opacity="0.88" stroke="#0b210b" stroke-width="1.2"/>
<circle cx="1346.5" cy="2012.5" r="11.5" fill="url(#xg)" fill-opacity="0.88" stroke="#0b210b" stroke-width="1.2"/>
<circle cx="1333.0" cy="2026.3" r="11.5" fill="url(#xg)" fill-opacity="0.88" stroke="#0b210b" stroke-width="1.2"/>
<circle cx="1412.3" cy="2025.6" r="11.5" fill="url(#xg)" fill-opacity="0.88" stroke="#0b210b" stroke-width="1.2"/>
<circle cx="1455.3" cy="2012.5" r="11.5" fill="url(#xg)" fill-opacity="0.88" stroke="#0b210b" stroke-width="1.2"/>
<circle cx="1346.5" cy="2091.9" r="11.5" fill="url(#xg)" fill-opacity="0.88" stroke="#0b210b" stroke-width="1.2"/>
<circle cx="1333.0" cy="2134.9" r="11.5" fill="url(#xg)" fill-opacity="0.88" stroke="#0b210b" stroke-width="1.2"/>
<circle cx="1457.6" cy="2091.9" r="11.5" fill="#1d8a1d" fill-opacity="0.97" stroke="#0b210b" stroke-width="1.2"/>
<circle cx="1412.3" cy="2136.7" r="11.5" fill="#1d8a1d" fill-opacity="0.97" stroke="#0b210b" stroke-width="1.2"/>
<circle cx="1240.6" cy="1909.2" r="11.5" fill="#1d8a1d" fill-opacity="0.97" stroke="#0b210b" stroke-width="1.2"/>
<circle cx="1229.4" cy="1920.1" r="11.5" fill="#1d8a1d" fill-opacity="0.97" stroke="#0b210b" stroke-width="1.2"/>
<circle cx="1563.6" cy="1932.5" r="11.5" fill="url(#xg)" fill-opacity="0.88" stroke="#0b210b" stroke-width="1.2"/>
<circle cx="1566.7" cy="2043.0" r="11.5" fill="url(#xg)" fill-opacity="0.88" stroke="#0b210b" stroke-width="1.2"/>
<circle cx="1886.5" cy="1932.5" r="11.5" fill="url(#xg)" fill-opacity="0.88" stroke="#0b210b" stroke-width="1.2"/>
<circle cx="1897.0" cy="1932.5" r="11.5" fill="url(#xg)" fill-opacity="0.88" stroke="#0b210b" stroke-width="1.2"/>
<circle cx="1749.7" cy="2092.0" r="11.5" fill="url(#xg)" fill-opacity="0.88" stroke="#0b210b" stroke-width="1.2"/>
<circle cx="1863.3" cy="2092.0" r="11.5" fill="url(#xg)" fill-opacity="0.88" stroke="#0b210b" stroke-width="1.2"/>
<circle cx="1625.0" cy="2092.0" r="11.5" fill="#1d8a1d" fill-opacity="0.97" stroke="#0b210b" stroke-width="1.2"/>
<circle cx="1625.0" cy="2137.3" r="11.5" fill="#1d8a1d" fill-opacity="0.97" stroke="#0b210b" stroke-width="1.2"/>
<circle cx="1253.0" cy="2243.7" r="11.5" fill="url(#xg)" fill-opacity="0.88" stroke="#0b210b" stroke-width="1.2"/>
<circle cx="1363.4" cy="2246.8" r="11.5" fill="url(#xg)" fill-opacity="0.88" stroke="#0b210b" stroke-width="1.2"/>
<circle cx="1412.3" cy="2429.8" r="11.5" fill="url(#xg)" fill-opacity="0.88" stroke="#0b210b" stroke-width="1.2"/>
<circle cx="1412.3" cy="2543.6" r="11.5" fill="url(#xg)" fill-opacity="0.88" stroke="#0b210b" stroke-width="1.2"/>
<circle cx="1253.0" cy="2578.2" r="11.5" fill="url(#xg)" fill-opacity="0.88" stroke="#0b210b" stroke-width="1.2"/>
<circle cx="1253.0" cy="2565.9" r="11.5" fill="url(#xg)" fill-opacity="0.88" stroke="#0b210b" stroke-width="1.2"/>
<circle cx="1412.3" cy="2305.4" r="11.5" fill="#1d8a1d" fill-opacity="0.97" stroke="#0b210b" stroke-width="1.2"/>
<circle cx="1457.6" cy="2305.4" r="11.5" fill="#1d8a1d" fill-opacity="0.97" stroke="#0b210b" stroke-width="1.2"/>
<circle cx="1800.1" cy="2243.5" r="11.5" fill="url(#xg)" fill-opacity="0.88" stroke="#0b210b" stroke-width="1.2"/>
<circle cx="1800.1" cy="2237.8" r="11.5" fill="url(#xg)" fill-opacity="0.88" stroke="#0b210b" stroke-width="1.2"/>
<circle cx="1897.0" cy="2243.5" r="11.5" fill="url(#xg)" fill-opacity="0.88" stroke="#0b210b" stroke-width="1.2"/>
<circle cx="1863.3" cy="2305.2" r="11.5" fill="url(#xg)" fill-opacity="0.88" stroke="#0b210b" stroke-width="1.2"/>
<circle cx="1559.3" cy="2480.0" r="11.5" fill="url(#xg)" fill-opacity="0.88" stroke="#0b210b" stroke-width="1.2"/>
<circle cx="1565.0" cy="2480.0" r="11.5" fill="url(#xg)" fill-opacity="0.88" stroke="#0b210b" stroke-width="1.2"/>
<circle cx="1625.0" cy="2543.2" r="11.5" fill="url(#xg)" fill-opacity="0.88" stroke="#0b210b" stroke-width="1.2"/>
<circle cx="1563.6" cy="2577.2" r="11.5" fill="url(#xg)" fill-opacity="0.88" stroke="#0b210b" stroke-width="1.2"/>
<circle cx="1786.0" cy="2485.7" r="11.5" fill="url(#xg)" fill-opacity="0.88" stroke="#0b210b" stroke-width="1.2"/>
<circle cx="1786.0" cy="2480.0" r="11.5" fill="url(#xg)" fill-opacity="0.88" stroke="#0b210b" stroke-width="1.2"/>
<circle cx="1805.8" cy="2465.9" r="11.5" fill="url(#xg)" fill-opacity="0.88" stroke="#0b210b" stroke-width="1.2"/>
<circle cx="1800.1" cy="2465.9" r="11.5" fill="url(#xg)" fill-opacity="0.88" stroke="#0b210b" stroke-width="1.2"/>
<circle cx="1863.3" cy="2465.9" r="11.5" fill="url(#xg)" fill-opacity="0.88" stroke="#0b210b" stroke-width="1.2"/>
<circle cx="1886.5" cy="2500.7" r="11.5" fill="url(#xg)" fill-opacity="0.88" stroke="#0b210b" stroke-width="1.2"/>
<circle cx="1786.5" cy="2543.2" r="11.5" fill="url(#xg)" fill-opacity="0.88" stroke="#0b210b" stroke-width="1.2"/>
<circle cx="1897.0" cy="2543.2" r="11.5" fill="url(#xg)" fill-opacity="0.88" stroke="#0b210b" stroke-width="1.2"/>
<circle cx="1820.0" cy="2565.9" r="11.5" fill="url(#xg)" fill-opacity="0.88" stroke="#0b210b" stroke-width="1.2"/>
<circle cx="1863.3" cy="2577.2" r="11.5" fill="url(#xg)" fill-opacity="0.88" stroke="#0b210b" stroke-width="1.2"/>
<circle cx="1885.1" cy="2465.9" r="11.5" fill="url(#xo)" fill-opacity="0.88" stroke="#0b210b" stroke-width="1.2"/>
<circle cx="1896.4" cy="2465.9" r="11.5" fill="url(#xo)" fill-opacity="0.88" stroke="#0b210b" stroke-width="1.2"/>
<circle cx="1786.0" cy="2565.0" r="11.5" fill="url(#xo)" fill-opacity="0.88" stroke="#0b210b" stroke-width="1.2"/>
<circle cx="1786.0" cy="2577.2" r="11.5" fill="url(#xo)" fill-opacity="0.88" stroke="#0b210b" stroke-width="1.2"/>
<circle cx="1886.5" cy="2577.2" r="11.5" fill="#1d8a1d" fill-opacity="0.97" stroke="#0b210b" stroke-width="1.2"/>
<circle cx="1896.4" cy="2566.4" r="11.5" fill="#1d8a1d" fill-opacity="0.97" stroke="#0b210b" stroke-width="1.2"/>
<rect x="1224.9" y="1876.5" width="43" height="11.8" fill="#f89494"/>
<rect x="1267.9" y="1876.5" width="42.9" height="11.8" fill="#fdd6d6"/>
<rect x="1310.8" y="1876.5" width="50.2" height="11.8" fill="#f89494"/>
<rect x="1361" y="1876.5" width="33.9" height="11.8" fill="#fbb6b6"/>
<rect x="1409.2" y="1876.5" width="57.8" height="11.8" fill="#fccaca"/>
<rect x="1535.2" y="1876.5" width="48.8" height="11.8" fill="#86d9b5"/>
<rect x="1602.4" y="1876.5" width="34" height="11.8" fill="#c1c0f6"/>
<rect x="1676.3" y="1876.5" width="38.8" height="11.8" fill="#86d9b5"/>
<rect x="1746.3" y="1876.5" width="28.3" height="11.8" fill="#fcc58b"/>
<rect x="1793" y="1876.5" width="31.2" height="11.8" fill="#fcc58b"/>
<rect x="1837.5" y="1876.5" width="27.8" height="11.8" fill="#fcc58b"/>
<rect x="1877.5" y="1876.5" width="26.9" height="11.8" fill="#fcc58b"/>
<rect x="1284.8" y="1868" width="22.9" height="8.3" fill="#c9c9c9"/>
<path d="M1218.4 1888.9H1467.5" stroke="#111" stroke-width="1.2"/>
<path d="M1496.4 1888.9H1637.5" stroke="#111" stroke-width="1.2"/>
<path d="M1665.6 1888.9H1905" stroke="#111" stroke-width="1.2"/>
<rect x="1192.6" y="1906.3" width="12.4" height="42.5" fill="#f89494"/>
<rect x="1192.6" y="1948.8" width="12.4" height="44.2" fill="#fdd6d6"/>
<rect x="1192.6" y="1993" width="12.4" height="50" fill="#f89494"/>
<rect x="1192.6" y="2043" width="12.4" height="34.1" fill="#fbb6b6"/>
<rect x="1192.6" y="2091.9" width="12.4" height="57.3" fill="#fccaca"/>
<rect x="1192.6" y="2217.2" width="12.4" height="48.1" fill="#86d9b5"/>
<rect x="1192.6" y="2284.8" width="12.4" height="33.9" fill="#c1c0f6"/>
<rect x="1192.6" y="2355.6" width="12.4" height="38.3" fill="#86d9b5"/>
<rect x="1192.6" y="2425.9" width="12.4" height="27.3" fill="#fcc58b"/>
<rect x="1192.6" y="2472.2" width="12.4" height="31.3" fill="#fcc58b"/>
<rect x="1192.6" y="2516.5" width="12.4" height="27.8" fill="#fcc58b"/>
<rect x="1192.6" y="2556.6" width="12.4" height="26.8" fill="#fcc58b"/>
<rect x="1185.2" y="1967" width="7.6" height="22.1" fill="#c9c9c9"/>
<path d="M1205.9 1900.6V2149.5" stroke="#111" stroke-width="1.2"/>
<path d="M1205.9 2177.3V2319.2" stroke="#111" stroke-width="1.2"/>
<path d="M1205.9 2344.7V2584.2" stroke="#111" stroke-width="1.2"/>
<text transform="translate(1218.2 1870.2) scale(0.955 1)" font-size="17.77" text-anchor="start" style="fill:#000">N-lobe</text>
<text transform="translate(1309.3 1870.2) scale(0.955 1)" font-size="17.77" text-anchor="start" style="fill:#000">C-lobe</text>
<text transform="translate(1365.3 1870.2) scale(0.955 1)" font-size="17.77" text-anchor="start" style="fill:#000">UBA</text>
<text transform="translate(1413.5 1870.2) scale(0.955 1)" font-size="17.77" text-anchor="start" style="fill:#000">α-CTD</text>
<text transform="translate(1538 1870.2) scale(0.955 1)" font-size="17.77" text-anchor="start" style="fill:#000">CBM</text>
<text transform="translate(1594.5 1870.2) scale(0.955 1)" font-size="17.77" text-anchor="start" style="fill:#000">β-CTD</text>
<text transform="translate(1674.8 1870.2) scale(0.955 1)" font-size="17.77" text-anchor="start" style="fill:#000">CBM</text>
<text transform="translate(1730 1870.2) scale(0.955 1)" font-size="17.77" text-anchor="start" style="fill:#000">CBS1</text>
<text transform="translate(1778 1870.2) scale(0.955 1)" font-size="17.77" text-anchor="start" style="fill:#000">CBS2</text>
<text transform="translate(1827 1870.2) scale(0.955 1)" font-size="17.77" text-anchor="start" style="fill:#000">CBS3</text>
<text transform="translate(1876 1870.2) scale(0.955 1)" font-size="17.77" text-anchor="start" style="fill:#000">CBS4</text>
<text transform="translate(1174.6 1900.8) rotate(90) scale(0.955 1)" font-size="17.77" text-anchor="start" style="fill:#000">N-lobe</text>
<text transform="translate(1174.6 1991.8) rotate(90) scale(0.955 1)" font-size="17.77" text-anchor="start" style="fill:#000">C-lobe UBA</text>
<text transform="translate(1174.6 2093.2) rotate(90) scale(0.955 1)" font-size="17.77" text-anchor="start" style="fill:#000">α-CTD</text>
<text transform="translate(1174.6 2220.5) rotate(90) scale(0.955 1)" font-size="17.77" text-anchor="start" style="fill:#000">CBM</text>
<text transform="translate(1174.6 2277.6) rotate(90) scale(0.955 1)" font-size="17.77" text-anchor="start" style="fill:#000">β-CTD</text>
<text transform="translate(1174.6 2353.9) rotate(90) scale(0.955 1)" font-size="17.77" text-anchor="start" style="fill:#000">CBM</text>
<text transform="translate(1174.6 2409) rotate(90) scale(0.955 1)" font-size="17.77" text-anchor="start" style="fill:#000">CBS1</text>
<text transform="translate(1174.6 2458.4) rotate(90) scale(0.955 1)" font-size="17.77" text-anchor="start" style="fill:#000">CBS2</text>
<text transform="translate(1174.6 2508.7) rotate(90) scale(0.955 1)" font-size="17.77" text-anchor="start" style="fill:#000">CBS3</text>
<text transform="translate(1174.6 2556.6) rotate(90) scale(0.955 1)" font-size="17.77" text-anchor="start" style="fill:#000">CBS4</text>
<text transform="translate(1359.3 1837) scale(0.955 1)" font-size="36.05" text-anchor="middle" style="fill:#d4393c">SnRK1α2</text>
<text transform="translate(1580 1837) scale(0.955 1)" font-size="36.05" text-anchor="middle" style="fill:#5b81ad">SnRK1β2</text>
<text transform="translate(1783.5 1837) scale(0.955 1)" font-size="36.05" text-anchor="middle" style="fill:#a59d4d">SnRK1βγ</text>
<text transform="translate(1920.5 2028.5) rotate(90) scale(0.955 1)" font-size="36.05" text-anchor="middle" style="fill:#d4393c">SnRK1α2</text>
<text transform="translate(1920.5 2248.5) rotate(90) scale(0.955 1)" font-size="36.05" text-anchor="middle" style="fill:#5b81ad">SnRK1β2</text>
<text transform="translate(1920.5 2465) rotate(90) scale(0.955 1)" font-size="36.05" text-anchor="middle" style="fill:#a59d4d">SnRK1βγ</text>
<circle cx="1246.3" cy="2639" r="11.4" fill="url(#xg)" fill-opacity="0.9" stroke="#0b210b" stroke-width="1.2"/>
<circle cx="1506" cy="2638" r="11.4" fill="url(#xo)" stroke="#2a1c05" stroke-width="1.2"/>
<text transform="translate(1267.5 2648.6) scale(0.955 1)" font-size="37.1" text-anchor="start" style="fill:#000">consistent XL</text>
<text transform="translate(1529.5 2648.6) scale(0.955 1)" font-size="37.41" text-anchor="start" style="fill:#000">inconsistent XL</text>
<text transform="translate(1844.3 2616) scale(0.955 1)" font-size="33.34" text-anchor="middle" style="fill:#000">contact</text>
<rect x="1796.5" y="2625.5" width="91.5" height="24.5" fill="url(#icb)" stroke="#111" stroke-width="1.2"/>
<text transform="translate(1799.5 2669) scale(0.955 1)" font-size="17.24" text-anchor="middle" style="fill:#000">0</text>
<text transform="translate(1888 2669) scale(0.955 1)" font-size="17.24" text-anchor="middle" style="fill:#000">1</text>
</g>
</svg>
</body></html>
